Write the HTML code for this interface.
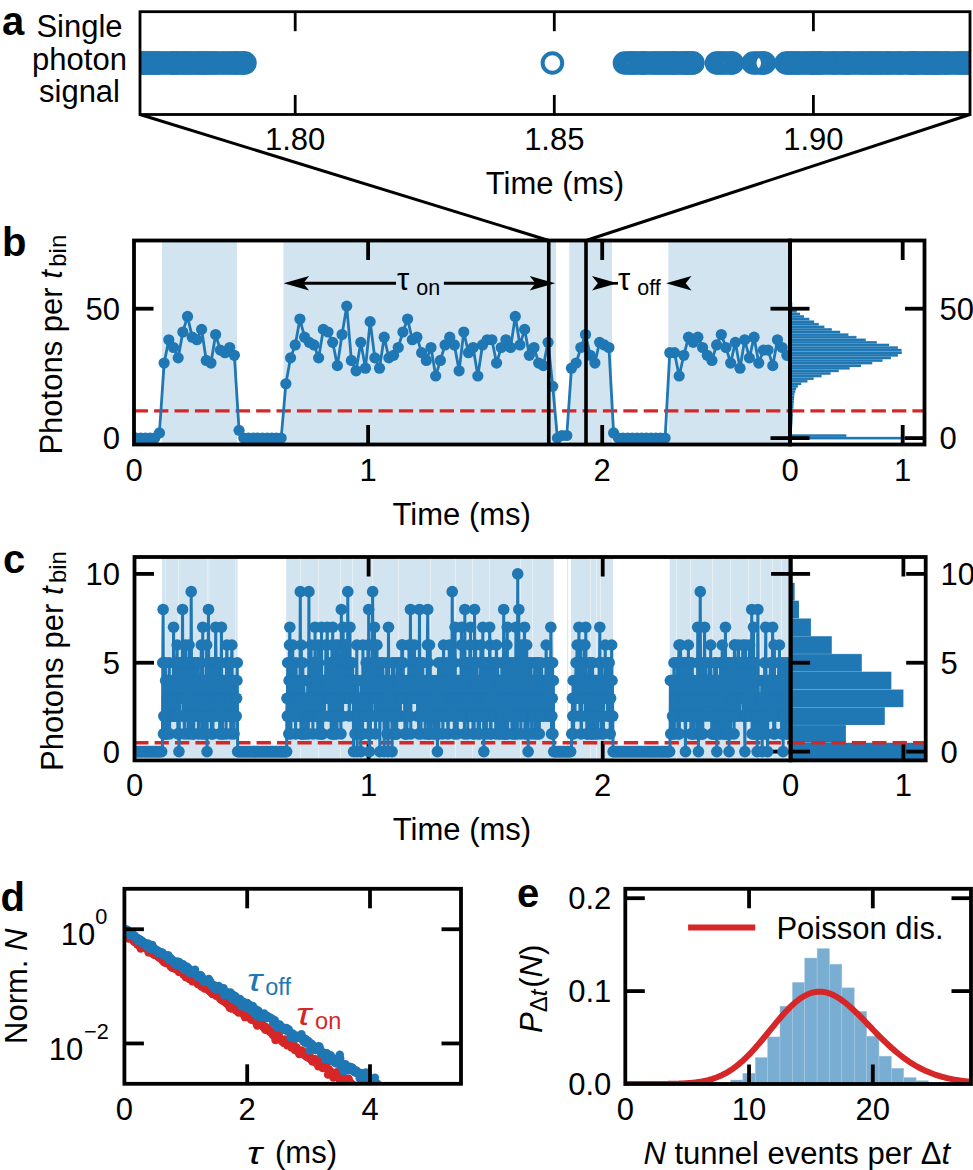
<!DOCTYPE html>
<html><head><meta charset="utf-8"><style>
html,body{margin:0;padding:0;background:#fff;}
svg{display:block;}
text{font-family:"Liberation Sans", sans-serif;}
</style></head><body>
<svg width="973" height="1170" viewBox="0 0 973 1170" font-family='"Liberation Sans", sans-serif'>
<rect width="973" height="1170" fill="#fff"/>
<clipPath id="clipa"><rect x="140" y="11.7" width="830" height="102.8"/></clipPath>
<g clip-path="url(#clipa)" fill="none" stroke="#1f77b4" stroke-width="4">
<circle cx="552.4" cy="63.0" r="9.8"/>
<circle cx="120" cy="63.0" r="9.8"/>
<circle cx="121.6" cy="63.0" r="9.8"/>
<circle cx="124.45" cy="63.0" r="9.8"/>
<circle cx="127.18" cy="63.0" r="9.8"/>
<circle cx="129.53" cy="63.0" r="9.8"/>
<circle cx="131.24" cy="63.0" r="9.8"/>
<circle cx="134.35" cy="63.0" r="9.8"/>
<circle cx="137.48" cy="63.0" r="9.8"/>
<circle cx="139.91" cy="63.0" r="9.8"/>
<circle cx="142.33" cy="63.0" r="9.8"/>
<circle cx="144.09" cy="63.0" r="9.8"/>
<circle cx="145.3" cy="63.0" r="9.8"/>
<circle cx="147.39" cy="63.0" r="9.8"/>
<circle cx="150" cy="63.0" r="9.8"/>
<circle cx="151.36" cy="63.0" r="9.8"/>
<circle cx="154.47" cy="63.0" r="9.8"/>
<circle cx="156.23" cy="63.0" r="9.8"/>
<circle cx="157.98" cy="63.0" r="9.8"/>
<circle cx="159.29" cy="63.0" r="9.8"/>
<circle cx="162.88" cy="63.0" r="9.8"/>
<circle cx="165.85" cy="63.0" r="9.8"/>
<circle cx="169.15" cy="63.0" r="9.8"/>
<circle cx="171.83" cy="63.0" r="9.8"/>
<circle cx="173.11" cy="63.0" r="9.8"/>
<circle cx="175.1" cy="63.0" r="9.8"/>
<circle cx="177.5" cy="63.0" r="9.8"/>
<circle cx="178.97" cy="63.0" r="9.8"/>
<circle cx="182.46" cy="63.0" r="9.8"/>
<circle cx="184.54" cy="63.0" r="9.8"/>
<circle cx="186.11" cy="63.0" r="9.8"/>
<circle cx="189.28" cy="63.0" r="9.8"/>
<circle cx="190.78" cy="63.0" r="9.8"/>
<circle cx="194.2" cy="63.0" r="9.8"/>
<circle cx="196.49" cy="63.0" r="9.8"/>
<circle cx="199.02" cy="63.0" r="9.8"/>
<circle cx="201.04" cy="63.0" r="9.8"/>
<circle cx="203.4" cy="63.0" r="9.8"/>
<circle cx="205.05" cy="63.0" r="9.8"/>
<circle cx="206.34" cy="63.0" r="9.8"/>
<circle cx="209.62" cy="63.0" r="9.8"/>
<circle cx="211.38" cy="63.0" r="9.8"/>
<circle cx="214.45" cy="63.0" r="9.8"/>
<circle cx="216.15" cy="63.0" r="9.8"/>
<circle cx="219.68" cy="63.0" r="9.8"/>
<circle cx="223.02" cy="63.0" r="9.8"/>
<circle cx="226.04" cy="63.0" r="9.8"/>
<circle cx="229.07" cy="63.0" r="9.8"/>
<circle cx="231.66" cy="63.0" r="9.8"/>
<circle cx="234.61" cy="63.0" r="9.8"/>
<circle cx="236.11" cy="63.0" r="9.8"/>
<circle cx="238.45" cy="63.0" r="9.8"/>
<circle cx="241.63" cy="63.0" r="9.8"/>
<circle cx="243.32" cy="63.0" r="9.8"/>
<circle cx="245" cy="63.0" r="9.8"/>
<circle cx="624.5" cy="63.0" r="9.8"/>
<circle cx="627.83" cy="63.0" r="9.8"/>
<circle cx="630.01" cy="63.0" r="9.8"/>
<circle cx="632.09" cy="63.0" r="9.8"/>
<circle cx="634.37" cy="63.0" r="9.8"/>
<circle cx="636.5" cy="63.0" r="9.8"/>
<circle cx="640.09" cy="63.0" r="9.8"/>
<circle cx="642.21" cy="63.0" r="9.8"/>
<circle cx="643.48" cy="63.0" r="9.8"/>
<circle cx="644.9" cy="63.0" r="9.8"/>
<circle cx="647.83" cy="63.0" r="9.8"/>
<circle cx="651.41" cy="63.0" r="9.8"/>
<circle cx="653.8" cy="63.0" r="9.8"/>
<circle cx="656.18" cy="63.0" r="9.8"/>
<circle cx="658.7" cy="63.0" r="9.8"/>
<circle cx="661.7" cy="63.0" r="9.8"/>
<circle cx="663.43" cy="63.0" r="9.8"/>
<circle cx="666.09" cy="63.0" r="9.8"/>
<circle cx="668.63" cy="63.0" r="9.8"/>
<circle cx="671.32" cy="63.0" r="9.8"/>
<circle cx="672.95" cy="63.0" r="9.8"/>
<circle cx="674.56" cy="63.0" r="9.8"/>
<circle cx="676.6" cy="63.0" r="9.8"/>
<circle cx="680.02" cy="63.0" r="9.8"/>
<circle cx="682.05" cy="63.0" r="9.8"/>
<circle cx="684.69" cy="63.0" r="9.8"/>
<circle cx="686.62" cy="63.0" r="9.8"/>
<circle cx="688.07" cy="63.0" r="9.8"/>
<circle cx="689.43" cy="63.0" r="9.8"/>
<circle cx="692.58" cy="63.0" r="9.8"/>
<circle cx="692.9" cy="63.0" r="9.8"/>
<circle cx="716.5" cy="63.0" r="9.8"/>
<circle cx="718.6" cy="63.0" r="9.8"/>
<circle cx="721.44" cy="63.0" r="9.8"/>
<circle cx="724.26" cy="63.0" r="9.8"/>
<circle cx="727.62" cy="63.0" r="9.8"/>
<circle cx="731.12" cy="63.0" r="9.8"/>
<circle cx="732.3" cy="63.0" r="9.8"/>
<circle cx="753.2" cy="63.0" r="9.8"/>
<circle cx="756.77" cy="63.0" r="9.8"/>
<circle cx="760.28" cy="63.0" r="9.8"/>
<circle cx="762.9" cy="63.0" r="9.8"/>
<circle cx="764.3" cy="63.0" r="9.8"/>
<circle cx="786.1" cy="63.0" r="9.8"/>
<circle cx="788.48" cy="63.0" r="9.8"/>
<circle cx="790.58" cy="63.0" r="9.8"/>
<circle cx="792.37" cy="63.0" r="9.8"/>
<circle cx="795.68" cy="63.0" r="9.8"/>
<circle cx="797.27" cy="63.0" r="9.8"/>
<circle cx="798.63" cy="63.0" r="9.8"/>
<circle cx="801.76" cy="63.0" r="9.8"/>
<circle cx="804.82" cy="63.0" r="9.8"/>
<circle cx="807.18" cy="63.0" r="9.8"/>
<circle cx="810.39" cy="63.0" r="9.8"/>
<circle cx="811.72" cy="63.0" r="9.8"/>
<circle cx="813.53" cy="63.0" r="9.8"/>
<circle cx="815.43" cy="63.0" r="9.8"/>
<circle cx="817.64" cy="63.0" r="9.8"/>
<circle cx="819.25" cy="63.0" r="9.8"/>
<circle cx="820.61" cy="63.0" r="9.8"/>
<circle cx="822.62" cy="63.0" r="9.8"/>
<circle cx="825.98" cy="63.0" r="9.8"/>
<circle cx="829.54" cy="63.0" r="9.8"/>
<circle cx="832.53" cy="63.0" r="9.8"/>
<circle cx="834.88" cy="63.0" r="9.8"/>
<circle cx="836.69" cy="63.0" r="9.8"/>
<circle cx="840.19" cy="63.0" r="9.8"/>
<circle cx="842.65" cy="63.0" r="9.8"/>
<circle cx="845.6" cy="63.0" r="9.8"/>
<circle cx="846.87" cy="63.0" r="9.8"/>
<circle cx="848.58" cy="63.0" r="9.8"/>
<circle cx="851.79" cy="63.0" r="9.8"/>
<circle cx="854.9" cy="63.0" r="9.8"/>
<circle cx="858.21" cy="63.0" r="9.8"/>
<circle cx="860.86" cy="63.0" r="9.8"/>
<circle cx="863.08" cy="63.0" r="9.8"/>
<circle cx="865.67" cy="63.0" r="9.8"/>
<circle cx="868.91" cy="63.0" r="9.8"/>
<circle cx="870.85" cy="63.0" r="9.8"/>
<circle cx="873.33" cy="63.0" r="9.8"/>
<circle cx="875.19" cy="63.0" r="9.8"/>
<circle cx="878.24" cy="63.0" r="9.8"/>
<circle cx="879.46" cy="63.0" r="9.8"/>
<circle cx="882.31" cy="63.0" r="9.8"/>
<circle cx="885.8" cy="63.0" r="9.8"/>
<circle cx="887.05" cy="63.0" r="9.8"/>
<circle cx="889.68" cy="63.0" r="9.8"/>
<circle cx="892.42" cy="63.0" r="9.8"/>
<circle cx="895.67" cy="63.0" r="9.8"/>
<circle cx="898.27" cy="63.0" r="9.8"/>
<circle cx="900.09" cy="63.0" r="9.8"/>
<circle cx="902.26" cy="63.0" r="9.8"/>
<circle cx="905.76" cy="63.0" r="9.8"/>
<circle cx="909.14" cy="63.0" r="9.8"/>
<circle cx="910.66" cy="63.0" r="9.8"/>
<circle cx="912.08" cy="63.0" r="9.8"/>
<circle cx="913.51" cy="63.0" r="9.8"/>
<circle cx="914.77" cy="63.0" r="9.8"/>
<circle cx="917.04" cy="63.0" r="9.8"/>
<circle cx="918.58" cy="63.0" r="9.8"/>
<circle cx="921.86" cy="63.0" r="9.8"/>
<circle cx="924.63" cy="63.0" r="9.8"/>
<circle cx="926.14" cy="63.0" r="9.8"/>
<circle cx="928.63" cy="63.0" r="9.8"/>
<circle cx="930.61" cy="63.0" r="9.8"/>
<circle cx="932.99" cy="63.0" r="9.8"/>
<circle cx="934.72" cy="63.0" r="9.8"/>
<circle cx="936.32" cy="63.0" r="9.8"/>
<circle cx="937.96" cy="63.0" r="9.8"/>
<circle cx="940.07" cy="63.0" r="9.8"/>
<circle cx="942.97" cy="63.0" r="9.8"/>
<circle cx="945.49" cy="63.0" r="9.8"/>
<circle cx="946.8" cy="63.0" r="9.8"/>
<circle cx="949.71" cy="63.0" r="9.8"/>
<circle cx="953.01" cy="63.0" r="9.8"/>
<circle cx="956.06" cy="63.0" r="9.8"/>
<circle cx="959.16" cy="63.0" r="9.8"/>
<circle cx="960.38" cy="63.0" r="9.8"/>
<circle cx="962.69" cy="63.0" r="9.8"/>
<circle cx="964.05" cy="63.0" r="9.8"/>
<circle cx="967.08" cy="63.0" r="9.8"/>
<circle cx="968.7" cy="63.0" r="9.8"/>
<circle cx="971.61" cy="63.0" r="9.8"/>
<circle cx="973.42" cy="63.0" r="9.8"/>
<circle cx="976.29" cy="63.0" r="9.8"/>
<circle cx="978.24" cy="63.0" r="9.8"/>
<circle cx="979.54" cy="63.0" r="9.8"/>
<circle cx="981.67" cy="63.0" r="9.8"/>
<circle cx="983.62" cy="63.0" r="9.8"/>
<circle cx="985" cy="63.0" r="9.8"/>
</g>
<rect x="140" y="11.7" width="830" height="102.8" fill="none" stroke="#000" stroke-width="2.8" stroke-linejoin="miter"/>
<line x1="295.2" y1="11.7" x2="295.2" y2="31.2" stroke="#000" stroke-width="2.8" />
<line x1="295.2" y1="114.5" x2="295.2" y2="95" stroke="#000" stroke-width="2.8" />
<text x="295.2" y="150.3" font-size="31" text-anchor="middle" font-weight="normal" font-style="normal" fill="#000" >1.80</text>
<line x1="554.3" y1="11.7" x2="554.3" y2="31.2" stroke="#000" stroke-width="2.8" />
<line x1="554.3" y1="114.5" x2="554.3" y2="95" stroke="#000" stroke-width="2.8" />
<text x="554.3" y="150.3" font-size="31" text-anchor="middle" font-weight="normal" font-style="normal" fill="#000" >1.85</text>
<line x1="813.4" y1="11.7" x2="813.4" y2="31.2" stroke="#000" stroke-width="2.8" />
<line x1="813.4" y1="114.5" x2="813.4" y2="95" stroke="#000" stroke-width="2.8" />
<text x="813.4" y="150.3" font-size="31" text-anchor="middle" font-weight="normal" font-style="normal" fill="#000" >1.90</text>
<text x="555" y="194" font-size="31" text-anchor="middle" font-weight="normal" font-style="normal" fill="#000" >Time (ms)</text>
<line x1="140" y1="114.5" x2="548.75" y2="240.5" stroke="#000" stroke-width="3" />
<line x1="970" y1="114.5" x2="586" y2="240.5" stroke="#000" stroke-width="3" />
<text x="2" y="35" font-size="40" text-anchor="start" font-weight="bold" font-style="normal" fill="#000" >a</text>
<text x="79.5" y="36.5" font-size="31" text-anchor="middle" font-weight="normal" font-style="normal" fill="#000" >Single</text>
<text x="79.5" y="69.5" font-size="31" text-anchor="middle" font-weight="normal" font-style="normal" fill="#000" >photon</text>
<text x="79.5" y="102" font-size="31" text-anchor="middle" font-weight="normal" font-style="normal" fill="#000" >signal</text>
<clipPath id="clipb"><rect x="134" y="240.5" width="656" height="204.0"/></clipPath>
<rect x="162" y="240.5" width="75" height="204" fill="#d2e4f0" stroke="none" stroke-width="0" />
<rect x="283.4" y="240.5" width="272.6" height="204" fill="#d2e4f0" stroke="none" stroke-width="0" />
<rect x="569.3" y="240.5" width="42.7" height="204" fill="#d2e4f0" stroke="none" stroke-width="0" />
<rect x="668.3" y="240.5" width="121.7" height="204" fill="#d2e4f0" stroke="none" stroke-width="0" />
<g>
<rect x="790" y="431.63" width="1.69" height="2.64" fill="#1f77b4" stroke="none" stroke-width="0" />
<line x1="790" y1="431.63" x2="791.69" y2="431.63" stroke="#fff" stroke-width="0.35" opacity="0.55"/>
<rect x="790" y="429.04" width="1.89" height="2.64" fill="#1f77b4" stroke="none" stroke-width="0" />
<line x1="790" y1="429.04" x2="791.89" y2="429.04" stroke="#fff" stroke-width="0.35" opacity="0.55"/>
<rect x="790" y="426.45" width="2.08" height="2.64" fill="#1f77b4" stroke="none" stroke-width="0" />
<line x1="790" y1="426.45" x2="792.08" y2="426.45" stroke="#fff" stroke-width="0.35" opacity="0.55"/>
<rect x="790" y="423.87" width="2.28" height="2.64" fill="#1f77b4" stroke="none" stroke-width="0" />
<line x1="790" y1="423.87" x2="792.28" y2="423.87" stroke="#fff" stroke-width="0.35" opacity="0.55"/>
<rect x="790" y="421.28" width="2.48" height="2.64" fill="#1f77b4" stroke="none" stroke-width="0" />
<line x1="790" y1="421.28" x2="792.48" y2="421.28" stroke="#fff" stroke-width="0.35" opacity="0.55"/>
<rect x="790" y="418.69" width="2.63" height="2.64" fill="#1f77b4" stroke="none" stroke-width="0" />
<line x1="790" y1="418.69" x2="792.63" y2="418.69" stroke="#fff" stroke-width="0.35" opacity="0.55"/>
<rect x="790" y="416.1" width="2.78" height="2.64" fill="#1f77b4" stroke="none" stroke-width="0" />
<line x1="790" y1="416.1" x2="792.78" y2="416.1" stroke="#fff" stroke-width="0.35" opacity="0.55"/>
<rect x="790" y="413.51" width="2.93" height="2.64" fill="#1f77b4" stroke="none" stroke-width="0" />
<line x1="790" y1="413.51" x2="792.93" y2="413.51" stroke="#fff" stroke-width="0.35" opacity="0.55"/>
<rect x="790" y="410.93" width="3.08" height="2.64" fill="#1f77b4" stroke="none" stroke-width="0" />
<line x1="790" y1="410.93" x2="793.08" y2="410.93" stroke="#fff" stroke-width="0.35" opacity="0.55"/>
<rect x="790" y="408.34" width="3.23" height="2.64" fill="#1f77b4" stroke="none" stroke-width="0" />
<line x1="790" y1="408.34" x2="793.23" y2="408.34" stroke="#fff" stroke-width="0.35" opacity="0.55"/>
<rect x="790" y="405.75" width="3.38" height="2.64" fill="#1f77b4" stroke="none" stroke-width="0" />
<line x1="790" y1="405.75" x2="793.38" y2="405.75" stroke="#fff" stroke-width="0.35" opacity="0.55"/>
<rect x="790" y="403.16" width="3.58" height="2.64" fill="#1f77b4" stroke="none" stroke-width="0" />
<line x1="790" y1="403.16" x2="793.58" y2="403.16" stroke="#fff" stroke-width="0.35" opacity="0.55"/>
<rect x="790" y="400.57" width="3.79" height="2.64" fill="#1f77b4" stroke="none" stroke-width="0" />
<line x1="790" y1="400.57" x2="793.79" y2="400.57" stroke="#fff" stroke-width="0.35" opacity="0.55"/>
<rect x="790" y="397.99" width="3.99" height="2.64" fill="#1f77b4" stroke="none" stroke-width="0" />
<line x1="790" y1="397.99" x2="793.99" y2="397.99" stroke="#fff" stroke-width="0.35" opacity="0.55"/>
<rect x="790" y="395.4" width="4.19" height="2.64" fill="#1f77b4" stroke="none" stroke-width="0" />
<line x1="790" y1="395.4" x2="794.19" y2="395.4" stroke="#fff" stroke-width="0.35" opacity="0.55"/>
<rect x="790" y="392.81" width="4.4" height="2.64" fill="#1f77b4" stroke="none" stroke-width="0" />
<line x1="790" y1="392.81" x2="794.4" y2="392.81" stroke="#fff" stroke-width="0.35" opacity="0.55"/>
<rect x="790" y="390.22" width="5.24" height="2.64" fill="#1f77b4" stroke="none" stroke-width="0" />
<line x1="790" y1="390.22" x2="795.24" y2="390.22" stroke="#fff" stroke-width="0.35" opacity="0.55"/>
<rect x="790" y="387.63" width="6.09" height="2.64" fill="#1f77b4" stroke="none" stroke-width="0" />
<line x1="790" y1="387.63" x2="796.09" y2="387.63" stroke="#fff" stroke-width="0.35" opacity="0.55"/>
<rect x="790" y="385.05" width="7.89" height="2.64" fill="#1f77b4" stroke="none" stroke-width="0" />
<line x1="790" y1="385.05" x2="797.89" y2="385.05" stroke="#fff" stroke-width="0.35" opacity="0.55"/>
<rect x="790" y="382.46" width="11.27" height="2.64" fill="#1f77b4" stroke="none" stroke-width="0" />
<line x1="790" y1="382.46" x2="801.27" y2="382.46" stroke="#fff" stroke-width="0.35" opacity="0.55"/>
<rect x="790" y="379.87" width="17.47" height="2.64" fill="#1f77b4" stroke="none" stroke-width="0" />
<line x1="790" y1="379.87" x2="807.47" y2="379.87" stroke="#fff" stroke-width="0.35" opacity="0.55"/>
<rect x="790" y="377.28" width="23.67" height="2.64" fill="#1f77b4" stroke="none" stroke-width="0" />
<line x1="790" y1="377.28" x2="813.67" y2="377.28" stroke="#fff" stroke-width="0.35" opacity="0.55"/>
<rect x="790" y="374.69" width="31.56" height="2.64" fill="#1f77b4" stroke="none" stroke-width="0" />
<line x1="790" y1="374.69" x2="821.56" y2="374.69" stroke="#fff" stroke-width="0.35" opacity="0.55"/>
<rect x="790" y="372.11" width="40.57" height="2.64" fill="#1f77b4" stroke="none" stroke-width="0" />
<line x1="790" y1="372.11" x2="830.57" y2="372.11" stroke="#fff" stroke-width="0.35" opacity="0.55"/>
<rect x="790" y="369.52" width="48.77" height="2.64" fill="#1f77b4" stroke="none" stroke-width="0" />
<line x1="790" y1="369.52" x2="838.77" y2="369.52" stroke="#fff" stroke-width="0.35" opacity="0.55"/>
<rect x="790" y="366.93" width="59.73" height="2.64" fill="#1f77b4" stroke="none" stroke-width="0" />
<line x1="790" y1="366.93" x2="849.73" y2="366.93" stroke="#fff" stroke-width="0.35" opacity="0.55"/>
<rect x="790" y="364.34" width="71" height="2.64" fill="#1f77b4" stroke="none" stroke-width="0" />
<line x1="790" y1="364.34" x2="861" y2="364.34" stroke="#fff" stroke-width="0.35" opacity="0.55"/>
<rect x="790" y="361.75" width="82.27" height="2.64" fill="#1f77b4" stroke="none" stroke-width="0" />
<line x1="790" y1="361.75" x2="872.27" y2="361.75" stroke="#fff" stroke-width="0.35" opacity="0.55"/>
<rect x="790" y="359.17" width="92.53" height="2.64" fill="#1f77b4" stroke="none" stroke-width="0" />
<line x1="790" y1="359.17" x2="882.53" y2="359.17" stroke="#fff" stroke-width="0.35" opacity="0.55"/>
<rect x="790" y="356.58" width="100.92" height="2.64" fill="#1f77b4" stroke="none" stroke-width="0" />
<line x1="790" y1="356.58" x2="890.92" y2="356.58" stroke="#fff" stroke-width="0.35" opacity="0.55"/>
<rect x="790" y="353.99" width="107.97" height="2.64" fill="#1f77b4" stroke="none" stroke-width="0" />
<line x1="790" y1="353.99" x2="897.97" y2="353.99" stroke="#fff" stroke-width="0.35" opacity="0.55"/>
<rect x="790" y="351.4" width="111.78" height="2.64" fill="#1f77b4" stroke="none" stroke-width="0" />
<line x1="790" y1="351.4" x2="901.78" y2="351.4" stroke="#fff" stroke-width="0.35" opacity="0.55"/>
<rect x="790" y="348.81" width="111.57" height="2.64" fill="#1f77b4" stroke="none" stroke-width="0" />
<line x1="790" y1="348.81" x2="901.57" y2="348.81" stroke="#fff" stroke-width="0.35" opacity="0.55"/>
<rect x="790" y="346.23" width="107.91" height="2.64" fill="#1f77b4" stroke="none" stroke-width="0" />
<line x1="790" y1="346.23" x2="897.91" y2="346.23" stroke="#fff" stroke-width="0.35" opacity="0.55"/>
<rect x="790" y="343.64" width="99.06" height="2.64" fill="#1f77b4" stroke="none" stroke-width="0" />
<line x1="790" y1="343.64" x2="889.06" y2="343.64" stroke="#fff" stroke-width="0.35" opacity="0.55"/>
<rect x="790" y="341.05" width="86.78" height="2.64" fill="#1f77b4" stroke="none" stroke-width="0" />
<line x1="790" y1="341.05" x2="876.78" y2="341.05" stroke="#fff" stroke-width="0.35" opacity="0.55"/>
<rect x="790" y="338.46" width="75.71" height="2.64" fill="#1f77b4" stroke="none" stroke-width="0" />
<line x1="790" y1="338.46" x2="865.71" y2="338.46" stroke="#fff" stroke-width="0.35" opacity="0.55"/>
<rect x="790" y="335.87" width="66.49" height="2.64" fill="#1f77b4" stroke="none" stroke-width="0" />
<line x1="790" y1="335.87" x2="856.49" y2="335.87" stroke="#fff" stroke-width="0.35" opacity="0.55"/>
<rect x="790" y="333.29" width="58.44" height="2.64" fill="#1f77b4" stroke="none" stroke-width="0" />
<line x1="790" y1="333.29" x2="848.44" y2="333.29" stroke="#fff" stroke-width="0.35" opacity="0.55"/>
<rect x="790" y="330.7" width="50.15" height="2.64" fill="#1f77b4" stroke="none" stroke-width="0" />
<line x1="790" y1="330.7" x2="840.15" y2="330.7" stroke="#fff" stroke-width="0.35" opacity="0.55"/>
<rect x="790" y="328.11" width="41.8" height="2.64" fill="#1f77b4" stroke="none" stroke-width="0" />
<line x1="790" y1="328.11" x2="831.8" y2="328.11" stroke="#fff" stroke-width="0.35" opacity="0.55"/>
<rect x="790" y="325.52" width="34.37" height="2.64" fill="#1f77b4" stroke="none" stroke-width="0" />
<line x1="790" y1="325.52" x2="824.37" y2="325.52" stroke="#fff" stroke-width="0.35" opacity="0.55"/>
<rect x="790" y="322.93" width="28.74" height="2.64" fill="#1f77b4" stroke="none" stroke-width="0" />
<line x1="790" y1="322.93" x2="818.74" y2="322.93" stroke="#fff" stroke-width="0.35" opacity="0.55"/>
<rect x="790" y="320.35" width="24.12" height="2.64" fill="#1f77b4" stroke="none" stroke-width="0" />
<line x1="790" y1="320.35" x2="814.12" y2="320.35" stroke="#fff" stroke-width="0.35" opacity="0.55"/>
<rect x="790" y="317.76" width="19.29" height="2.64" fill="#1f77b4" stroke="none" stroke-width="0" />
<line x1="790" y1="317.76" x2="809.29" y2="317.76" stroke="#fff" stroke-width="0.35" opacity="0.55"/>
<rect x="790" y="315.17" width="13.99" height="2.64" fill="#1f77b4" stroke="none" stroke-width="0" />
<line x1="790" y1="315.17" x2="803.99" y2="315.17" stroke="#fff" stroke-width="0.35" opacity="0.55"/>
<rect x="790" y="312.58" width="10.08" height="2.64" fill="#1f77b4" stroke="none" stroke-width="0" />
<line x1="790" y1="312.58" x2="800.08" y2="312.58" stroke="#fff" stroke-width="0.35" opacity="0.55"/>
<rect x="790" y="309.99" width="6.76" height="2.64" fill="#1f77b4" stroke="none" stroke-width="0" />
<line x1="790" y1="309.99" x2="796.76" y2="309.99" stroke="#fff" stroke-width="0.35" opacity="0.55"/>
<rect x="790" y="307.41" width="4.77" height="2.64" fill="#1f77b4" stroke="none" stroke-width="0" />
<line x1="790" y1="307.41" x2="794.77" y2="307.41" stroke="#fff" stroke-width="0.35" opacity="0.55"/>
<rect x="790" y="304.82" width="2.25" height="2.64" fill="#1f77b4" stroke="none" stroke-width="0" />
<line x1="790" y1="304.82" x2="792.25" y2="304.82" stroke="#fff" stroke-width="0.35" opacity="0.55"/>
<rect x="790" y="302.23" width="2.25" height="2.64" fill="#1f77b4" stroke="none" stroke-width="0" />
<line x1="790" y1="302.23" x2="792.25" y2="302.23" stroke="#fff" stroke-width="0.35" opacity="0.55"/>
<rect x="790" y="436.81" width="114.95" height="2.64" fill="#1f77b4" stroke="none" stroke-width="0" />
<line x1="790" y1="436.81" x2="904.95" y2="436.81" stroke="#fff" stroke-width="0.35" opacity="0.55"/>
<rect x="790" y="434.22" width="56.35" height="2.64" fill="#1f77b4" stroke="none" stroke-width="0" />
<line x1="790" y1="434.22" x2="846.35" y2="434.22" stroke="#fff" stroke-width="0.35" opacity="0.55"/>
</g>
<line x1="134" y1="438.1" x2="153.5" y2="438.1" stroke="#000" stroke-width="3.8" />
<line x1="790" y1="438.1" x2="770.5" y2="438.1" stroke="#000" stroke-width="3.8" />
<line x1="790" y1="438.1" x2="809.5" y2="438.1" stroke="#000" stroke-width="3.8" />
<line x1="924.5" y1="438.1" x2="905" y2="438.1" stroke="#000" stroke-width="3.8" />
<line x1="134" y1="308.7" x2="153.5" y2="308.7" stroke="#000" stroke-width="3.8" />
<line x1="790" y1="308.7" x2="770.5" y2="308.7" stroke="#000" stroke-width="3.8" />
<line x1="790" y1="308.7" x2="809.5" y2="308.7" stroke="#000" stroke-width="3.8" />
<line x1="924.5" y1="308.7" x2="905" y2="308.7" stroke="#000" stroke-width="3.8" />
<line x1="368.1" y1="240.5" x2="368.1" y2="260" stroke="#000" stroke-width="3.8" />
<line x1="368.1" y1="444.5" x2="368.1" y2="425" stroke="#000" stroke-width="3.8" />
<line x1="602.2" y1="240.5" x2="602.2" y2="260" stroke="#000" stroke-width="3.8" />
<line x1="602.2" y1="444.5" x2="602.2" y2="425" stroke="#000" stroke-width="3.8" />
<line x1="902.7" y1="240.5" x2="902.7" y2="260" stroke="#000" stroke-width="3.8" />
<line x1="902.7" y1="444.5" x2="902.7" y2="425" stroke="#000" stroke-width="3.8" />
<line x1="133.7" y1="410.9" x2="790" y2="410.9" stroke="#d62728" stroke-width="3.4" stroke-dasharray="14.3 6.1"/>
<line x1="790" y1="410.9" x2="924.5" y2="410.9" stroke="#d62728" stroke-width="3.4" stroke-dasharray="14.3 6.1"/>
<g clip-path="url(#clipb)"><polyline points="136.04,438.1 140.72,438.1 145.41,438.1 150.09,438.1 154.77,438.1 159.45,432.92 164.13,363.05 168.81,339.76 173.5,347.52 178.18,357.87 182.86,331.99 187.54,316.46 192.22,337.17 196.91,339.76 201.59,329.4 206.27,360.46 210.95,363.05 215.63,334.58 220.32,350.11 225,352.7 229.68,347.52 234.36,355.28 239.05,430.34 243.73,438.1 248.41,438.1 253.09,438.1 257.77,438.1 262.46,438.1 267.14,438.1 271.82,438.1 276.5,438.1 281.18,438.1 285.87,383.75 290.55,357.87 295.23,344.93 299.91,319.05 304.59,337.17 309.27,342.34 313.96,344.93 318.64,357.87 323.32,329.4 328,331.99 332.69,342.34 337.37,365.64 342.05,334.58 346.73,306.11 351.41,360.46 356.1,370.81 360.78,342.34 365.46,368.22 370.14,321.64 374.82,357.87 379.5,368.22 384.19,337.17 388.87,357.87 393.55,355.28 398.23,347.52 402.92,331.99 407.6,319.05 412.28,339.76 416.96,337.17 421.64,352.7 426.32,360.46 431.01,347.52 435.69,375.99 440.37,360.46 445.05,344.93 449.74,337.17 454.42,344.93 459.1,370.81 463.78,331.99 468.46,352.7 473.15,347.52 477.83,375.99 482.51,344.93 487.19,339.76 491.87,339.76 496.56,363.05 501.24,347.52 505.92,339.76 510.6,347.52 515.28,316.46 519.97,344.93 524.65,329.4 529.33,355.28 534.01,347.52 538.69,363.05 543.38,365.64 548.06,342.34 552.74,386.34 557.42,438.1 562.1,435.51 566.79,435.51 571.47,368.22 576.15,363.05 580.83,347.52 585.51,334.58 590.2,355.28 594.88,363.05 599.56,342.34 604.24,344.93 608.92,347.52 613.61,432.92 618.29,438.1 622.97,438.1 627.65,438.1 632.33,438.1 637.02,438.1 641.7,438.1 646.38,438.1 651.06,438.1 655.74,438.1 660.42,438.1 665.11,438.1 669.79,352.7 674.47,352.7 679.15,375.99 683.84,355.28 688.52,337.17 693.2,342.34 697.88,337.17 702.56,347.52 707.25,355.28 711.93,360.46 716.61,344.93 721.29,334.58 725.97,347.52 730.65,363.05 735.34,342.34 740.02,368.22 744.7,339.76 749.38,357.87 754.07,337.17 758.75,363.05 763.43,350.11 768.11,350.11 772.79,365.64 777.48,339.76 782.16,347.52 786.84,355.28" fill="none" stroke="#1f77b4" stroke-width="2.8" stroke-linejoin="round"/>
<g fill="#1f77b4"><circle cx="136.04" cy="438.1" r="5.6"/><circle cx="140.72" cy="438.1" r="5.6"/><circle cx="145.41" cy="438.1" r="5.6"/><circle cx="150.09" cy="438.1" r="5.6"/><circle cx="154.77" cy="438.1" r="5.6"/><circle cx="159.45" cy="432.92" r="5.6"/><circle cx="164.13" cy="363.05" r="5.6"/><circle cx="168.81" cy="339.76" r="5.6"/><circle cx="173.5" cy="347.52" r="5.6"/><circle cx="178.18" cy="357.87" r="5.6"/><circle cx="182.86" cy="331.99" r="5.6"/><circle cx="187.54" cy="316.46" r="5.6"/><circle cx="192.22" cy="337.17" r="5.6"/><circle cx="196.91" cy="339.76" r="5.6"/><circle cx="201.59" cy="329.4" r="5.6"/><circle cx="206.27" cy="360.46" r="5.6"/><circle cx="210.95" cy="363.05" r="5.6"/><circle cx="215.63" cy="334.58" r="5.6"/><circle cx="220.32" cy="350.11" r="5.6"/><circle cx="225" cy="352.7" r="5.6"/><circle cx="229.68" cy="347.52" r="5.6"/><circle cx="234.36" cy="355.28" r="5.6"/><circle cx="239.05" cy="430.34" r="5.6"/><circle cx="243.73" cy="438.1" r="5.6"/><circle cx="248.41" cy="438.1" r="5.6"/><circle cx="253.09" cy="438.1" r="5.6"/><circle cx="257.77" cy="438.1" r="5.6"/><circle cx="262.46" cy="438.1" r="5.6"/><circle cx="267.14" cy="438.1" r="5.6"/><circle cx="271.82" cy="438.1" r="5.6"/><circle cx="276.5" cy="438.1" r="5.6"/><circle cx="281.18" cy="438.1" r="5.6"/><circle cx="285.87" cy="383.75" r="5.6"/><circle cx="290.55" cy="357.87" r="5.6"/><circle cx="295.23" cy="344.93" r="5.6"/><circle cx="299.91" cy="319.05" r="5.6"/><circle cx="304.59" cy="337.17" r="5.6"/><circle cx="309.27" cy="342.34" r="5.6"/><circle cx="313.96" cy="344.93" r="5.6"/><circle cx="318.64" cy="357.87" r="5.6"/><circle cx="323.32" cy="329.4" r="5.6"/><circle cx="328" cy="331.99" r="5.6"/><circle cx="332.69" cy="342.34" r="5.6"/><circle cx="337.37" cy="365.64" r="5.6"/><circle cx="342.05" cy="334.58" r="5.6"/><circle cx="346.73" cy="306.11" r="5.6"/><circle cx="351.41" cy="360.46" r="5.6"/><circle cx="356.1" cy="370.81" r="5.6"/><circle cx="360.78" cy="342.34" r="5.6"/><circle cx="365.46" cy="368.22" r="5.6"/><circle cx="370.14" cy="321.64" r="5.6"/><circle cx="374.82" cy="357.87" r="5.6"/><circle cx="379.5" cy="368.22" r="5.6"/><circle cx="384.19" cy="337.17" r="5.6"/><circle cx="388.87" cy="357.87" r="5.6"/><circle cx="393.55" cy="355.28" r="5.6"/><circle cx="398.23" cy="347.52" r="5.6"/><circle cx="402.92" cy="331.99" r="5.6"/><circle cx="407.6" cy="319.05" r="5.6"/><circle cx="412.28" cy="339.76" r="5.6"/><circle cx="416.96" cy="337.17" r="5.6"/><circle cx="421.64" cy="352.7" r="5.6"/><circle cx="426.32" cy="360.46" r="5.6"/><circle cx="431.01" cy="347.52" r="5.6"/><circle cx="435.69" cy="375.99" r="5.6"/><circle cx="440.37" cy="360.46" r="5.6"/><circle cx="445.05" cy="344.93" r="5.6"/><circle cx="449.74" cy="337.17" r="5.6"/><circle cx="454.42" cy="344.93" r="5.6"/><circle cx="459.1" cy="370.81" r="5.6"/><circle cx="463.78" cy="331.99" r="5.6"/><circle cx="468.46" cy="352.7" r="5.6"/><circle cx="473.15" cy="347.52" r="5.6"/><circle cx="477.83" cy="375.99" r="5.6"/><circle cx="482.51" cy="344.93" r="5.6"/><circle cx="487.19" cy="339.76" r="5.6"/><circle cx="491.87" cy="339.76" r="5.6"/><circle cx="496.56" cy="363.05" r="5.6"/><circle cx="501.24" cy="347.52" r="5.6"/><circle cx="505.92" cy="339.76" r="5.6"/><circle cx="510.6" cy="347.52" r="5.6"/><circle cx="515.28" cy="316.46" r="5.6"/><circle cx="519.97" cy="344.93" r="5.6"/><circle cx="524.65" cy="329.4" r="5.6"/><circle cx="529.33" cy="355.28" r="5.6"/><circle cx="534.01" cy="347.52" r="5.6"/><circle cx="538.69" cy="363.05" r="5.6"/><circle cx="543.38" cy="365.64" r="5.6"/><circle cx="548.06" cy="342.34" r="5.6"/><circle cx="552.74" cy="386.34" r="5.6"/><circle cx="557.42" cy="438.1" r="5.6"/><circle cx="562.1" cy="435.51" r="5.6"/><circle cx="566.79" cy="435.51" r="5.6"/><circle cx="571.47" cy="368.22" r="5.6"/><circle cx="576.15" cy="363.05" r="5.6"/><circle cx="580.83" cy="347.52" r="5.6"/><circle cx="585.51" cy="334.58" r="5.6"/><circle cx="590.2" cy="355.28" r="5.6"/><circle cx="594.88" cy="363.05" r="5.6"/><circle cx="599.56" cy="342.34" r="5.6"/><circle cx="604.24" cy="344.93" r="5.6"/><circle cx="608.92" cy="347.52" r="5.6"/><circle cx="613.61" cy="432.92" r="5.6"/><circle cx="618.29" cy="438.1" r="5.6"/><circle cx="622.97" cy="438.1" r="5.6"/><circle cx="627.65" cy="438.1" r="5.6"/><circle cx="632.33" cy="438.1" r="5.6"/><circle cx="637.02" cy="438.1" r="5.6"/><circle cx="641.7" cy="438.1" r="5.6"/><circle cx="646.38" cy="438.1" r="5.6"/><circle cx="651.06" cy="438.1" r="5.6"/><circle cx="655.74" cy="438.1" r="5.6"/><circle cx="660.42" cy="438.1" r="5.6"/><circle cx="665.11" cy="438.1" r="5.6"/><circle cx="669.79" cy="352.7" r="5.6"/><circle cx="674.47" cy="352.7" r="5.6"/><circle cx="679.15" cy="375.99" r="5.6"/><circle cx="683.84" cy="355.28" r="5.6"/><circle cx="688.52" cy="337.17" r="5.6"/><circle cx="693.2" cy="342.34" r="5.6"/><circle cx="697.88" cy="337.17" r="5.6"/><circle cx="702.56" cy="347.52" r="5.6"/><circle cx="707.25" cy="355.28" r="5.6"/><circle cx="711.93" cy="360.46" r="5.6"/><circle cx="716.61" cy="344.93" r="5.6"/><circle cx="721.29" cy="334.58" r="5.6"/><circle cx="725.97" cy="347.52" r="5.6"/><circle cx="730.65" cy="363.05" r="5.6"/><circle cx="735.34" cy="342.34" r="5.6"/><circle cx="740.02" cy="368.22" r="5.6"/><circle cx="744.7" cy="339.76" r="5.6"/><circle cx="749.38" cy="357.87" r="5.6"/><circle cx="754.07" cy="337.17" r="5.6"/><circle cx="758.75" cy="363.05" r="5.6"/><circle cx="763.43" cy="350.11" r="5.6"/><circle cx="768.11" cy="350.11" r="5.6"/><circle cx="772.79" cy="365.64" r="5.6"/><circle cx="777.48" cy="339.76" r="5.6"/><circle cx="782.16" cy="347.52" r="5.6"/><circle cx="786.84" cy="355.28" r="5.6"/></g></g>
<line x1="548.75" y1="240.5" x2="548.75" y2="444.5" stroke="#000" stroke-width="3.6" />
<line x1="586" y1="240.5" x2="586" y2="444.5" stroke="#000" stroke-width="3.6" />
<rect x="134" y="240.5" width="656" height="204" fill="none" stroke="#000" stroke-width="3.8" stroke-linejoin="miter"/>
<rect x="790" y="240.5" width="134.5" height="204" fill="none" stroke="#000" stroke-width="3.8" stroke-linejoin="miter"/>
<text x="120" y="449.3" font-size="31" text-anchor="end" font-weight="normal" font-style="normal" fill="#000" >0</text>
<text x="939.5" y="449.3" font-size="31" text-anchor="start" font-weight="normal" font-style="normal" fill="#000" >0</text>
<text x="120" y="319.9" font-size="31" text-anchor="end" font-weight="normal" font-style="normal" fill="#000" >50</text>
<text x="939.5" y="319.9" font-size="31" text-anchor="start" font-weight="normal" font-style="normal" fill="#000" >50</text>
<text x="134" y="480.5" font-size="31" text-anchor="middle" font-weight="normal" font-style="normal" fill="#000" >0</text>
<text x="368.1" y="480.5" font-size="31" text-anchor="middle" font-weight="normal" font-style="normal" fill="#000" >1</text>
<text x="602.2" y="480.5" font-size="31" text-anchor="middle" font-weight="normal" font-style="normal" fill="#000" >2</text>
<text x="790" y="480.5" font-size="31" text-anchor="middle" font-weight="normal" font-style="normal" fill="#000" >0</text>
<text x="902.7" y="480.5" font-size="31" text-anchor="middle" font-weight="normal" font-style="normal" fill="#000" >1</text>
<text x="461.75" y="524.5" font-size="31" text-anchor="middle" font-weight="normal" font-style="normal" fill="#000" >Time (ms)</text>
<text x="2" y="256" font-size="40" text-anchor="start" font-weight="bold" font-style="normal" fill="#000" >b</text>
<clipPath id="clipc"><rect x="134.5" y="557" width="656.1" height="203.39999999999998"/></clipPath>
<rect x="162.1" y="557" width="75.5" height="203.4" fill="#d2e4f0" stroke="none" stroke-width="0" />
<rect x="286.2" y="557" width="267.6" height="203.4" fill="#d2e4f0" stroke="none" stroke-width="0" />
<rect x="571" y="557" width="42" height="203.4" fill="#d2e4f0" stroke="none" stroke-width="0" />
<rect x="669.7" y="557" width="120.9" height="203.4" fill="#d2e4f0" stroke="none" stroke-width="0" />
<rect x="567.2" y="557" width="1" height="203.4" fill="#d2e4f0" stroke="none" stroke-width="0" />
<rect x="164.9" y="557" width="0.7" height="203.4" fill="#fff" stroke="none" stroke-width="0" opacity="0.6"/>
<rect x="178" y="557" width="0.7" height="203.4" fill="#fff" stroke="none" stroke-width="0" opacity="0.6"/>
<rect x="206.9" y="557" width="0.7" height="203.4" fill="#fff" stroke="none" stroke-width="0" opacity="0.6"/>
<rect x="208.7" y="557" width="0.7" height="203.4" fill="#fff" stroke="none" stroke-width="0" opacity="0.6"/>
<rect x="235" y="557" width="0.7" height="203.4" fill="#fff" stroke="none" stroke-width="0" opacity="0.6"/>
<rect x="300" y="557" width="0.7" height="203.4" fill="#fff" stroke="none" stroke-width="0" opacity="0.6"/>
<rect x="318" y="557" width="0.7" height="203.4" fill="#fff" stroke="none" stroke-width="0" opacity="0.6"/>
<rect x="340" y="557" width="0.7" height="203.4" fill="#fff" stroke="none" stroke-width="0" opacity="0.6"/>
<rect x="352" y="557" width="0.7" height="203.4" fill="#fff" stroke="none" stroke-width="0" opacity="0.6"/>
<rect x="372" y="557" width="0.7" height="203.4" fill="#fff" stroke="none" stroke-width="0" opacity="0.6"/>
<rect x="398" y="557" width="0.7" height="203.4" fill="#fff" stroke="none" stroke-width="0" opacity="0.6"/>
<rect x="430" y="557" width="0.7" height="203.4" fill="#fff" stroke="none" stroke-width="0" opacity="0.6"/>
<rect x="455" y="557" width="0.7" height="203.4" fill="#fff" stroke="none" stroke-width="0" opacity="0.6"/>
<rect x="472" y="557" width="0.7" height="203.4" fill="#fff" stroke="none" stroke-width="0" opacity="0.6"/>
<rect x="489" y="557" width="0.7" height="203.4" fill="#fff" stroke="none" stroke-width="0" opacity="0.6"/>
<rect x="520" y="557" width="0.7" height="203.4" fill="#fff" stroke="none" stroke-width="0" opacity="0.6"/>
<rect x="532" y="557" width="0.7" height="203.4" fill="#fff" stroke="none" stroke-width="0" opacity="0.6"/>
<rect x="590" y="557" width="0.7" height="203.4" fill="#fff" stroke="none" stroke-width="0" opacity="0.6"/>
<rect x="596" y="557" width="0.7" height="203.4" fill="#fff" stroke="none" stroke-width="0" opacity="0.6"/>
<rect x="600" y="557" width="0.7" height="203.4" fill="#fff" stroke="none" stroke-width="0" opacity="0.6"/>
<rect x="676" y="557" width="0.7" height="203.4" fill="#fff" stroke="none" stroke-width="0" opacity="0.6"/>
<rect x="690" y="557" width="0.7" height="203.4" fill="#fff" stroke="none" stroke-width="0" opacity="0.6"/>
<rect x="712" y="557" width="0.7" height="203.4" fill="#fff" stroke="none" stroke-width="0" opacity="0.6"/>
<rect x="730" y="557" width="0.7" height="203.4" fill="#fff" stroke="none" stroke-width="0" opacity="0.6"/>
<rect x="748" y="557" width="0.7" height="203.4" fill="#fff" stroke="none" stroke-width="0" opacity="0.6"/>
<rect x="760" y="557" width="0.7" height="203.4" fill="#fff" stroke="none" stroke-width="0" opacity="0.6"/>
<rect x="772" y="557" width="0.7" height="203.4" fill="#fff" stroke="none" stroke-width="0" opacity="0.6"/>
<rect x="781" y="557" width="0.7" height="203.4" fill="#fff" stroke="none" stroke-width="0" opacity="0.6"/>
<clipPath id="cliphc"><rect x="790.6" y="557" width="135.10000000000002" height="203.39999999999998"/></clipPath>
<g clip-path="url(#cliphc)">
<rect x="790.6" y="742.72" width="141" height="17.77" fill="#1f77b4" stroke="none" stroke-width="0" />
<line x1="790.6" y1="742.72" x2="931.6" y2="742.72" stroke="#fff" stroke-width="0.4" opacity="0.7"/>
<rect x="790.6" y="724.95" width="55.27" height="17.77" fill="#1f77b4" stroke="none" stroke-width="0" />
<line x1="790.6" y1="724.95" x2="845.87" y2="724.95" stroke="#fff" stroke-width="0.4" opacity="0.7"/>
<rect x="790.6" y="707.18" width="94.19" height="17.77" fill="#1f77b4" stroke="none" stroke-width="0" />
<line x1="790.6" y1="707.18" x2="884.79" y2="707.18" stroke="#fff" stroke-width="0.4" opacity="0.7"/>
<rect x="790.6" y="689.4" width="112.8" height="17.77" fill="#1f77b4" stroke="none" stroke-width="0" />
<line x1="790.6" y1="689.4" x2="903.4" y2="689.4" stroke="#fff" stroke-width="0.4" opacity="0.7"/>
<rect x="790.6" y="671.63" width="100.73" height="17.77" fill="#1f77b4" stroke="none" stroke-width="0" />
<line x1="790.6" y1="671.63" x2="891.33" y2="671.63" stroke="#fff" stroke-width="0.4" opacity="0.7"/>
<rect x="790.6" y="653.87" width="71.18" height="17.77" fill="#1f77b4" stroke="none" stroke-width="0" />
<line x1="790.6" y1="653.87" x2="861.78" y2="653.87" stroke="#fff" stroke-width="0.4" opacity="0.7"/>
<rect x="790.6" y="636.1" width="41.17" height="17.77" fill="#1f77b4" stroke="none" stroke-width="0" />
<line x1="790.6" y1="636.1" x2="831.77" y2="636.1" stroke="#fff" stroke-width="0.4" opacity="0.7"/>
<rect x="790.6" y="618.33" width="20.3" height="17.77" fill="#1f77b4" stroke="none" stroke-width="0" />
<line x1="790.6" y1="618.33" x2="810.9" y2="618.33" stroke="#fff" stroke-width="0.4" opacity="0.7"/>
<rect x="790.6" y="600.56" width="8.35" height="17.77" fill="#1f77b4" stroke="none" stroke-width="0" />
<line x1="790.6" y1="600.56" x2="798.95" y2="600.56" stroke="#fff" stroke-width="0.4" opacity="0.7"/>
<rect x="790.6" y="582.79" width="4.06" height="17.77" fill="#1f77b4" stroke="none" stroke-width="0" />
<line x1="790.6" y1="582.79" x2="794.66" y2="582.79" stroke="#fff" stroke-width="0.4" opacity="0.7"/>
<rect x="790.6" y="565.01" width="1.13" height="17.77" fill="#1f77b4" stroke="none" stroke-width="0" />
<line x1="790.6" y1="565.01" x2="791.73" y2="565.01" stroke="#fff" stroke-width="0.4" opacity="0.7"/>
</g>
<line x1="134.5" y1="751.6" x2="154" y2="751.6" stroke="#000" stroke-width="3.8" />
<line x1="790.6" y1="751.6" x2="771.1" y2="751.6" stroke="#000" stroke-width="3.8" />
<line x1="790.6" y1="751.6" x2="810.1" y2="751.6" stroke="#000" stroke-width="3.8" />
<line x1="925.7" y1="751.6" x2="906.2" y2="751.6" stroke="#000" stroke-width="3.8" />
<line x1="134.5" y1="662.75" x2="154" y2="662.75" stroke="#000" stroke-width="3.8" />
<line x1="790.6" y1="662.75" x2="771.1" y2="662.75" stroke="#000" stroke-width="3.8" />
<line x1="790.6" y1="662.75" x2="810.1" y2="662.75" stroke="#000" stroke-width="3.8" />
<line x1="925.7" y1="662.75" x2="906.2" y2="662.75" stroke="#000" stroke-width="3.8" />
<line x1="134.5" y1="573.9" x2="154" y2="573.9" stroke="#000" stroke-width="3.8" />
<line x1="790.6" y1="573.9" x2="771.1" y2="573.9" stroke="#000" stroke-width="3.8" />
<line x1="790.6" y1="573.9" x2="810.1" y2="573.9" stroke="#000" stroke-width="3.8" />
<line x1="925.7" y1="573.9" x2="906.2" y2="573.9" stroke="#000" stroke-width="3.8" />
<line x1="368.6" y1="557" x2="368.6" y2="576.5" stroke="#000" stroke-width="3.8" />
<line x1="368.6" y1="760.4" x2="368.6" y2="740.9" stroke="#000" stroke-width="3.8" />
<line x1="602.7" y1="557" x2="602.7" y2="576.5" stroke="#000" stroke-width="3.8" />
<line x1="602.7" y1="760.4" x2="602.7" y2="740.9" stroke="#000" stroke-width="3.8" />
<line x1="903.4" y1="557" x2="903.4" y2="576.5" stroke="#000" stroke-width="3.8" />
<line x1="903.4" y1="760.4" x2="903.4" y2="740.9" stroke="#000" stroke-width="3.8" />
<line x1="134.2" y1="742.72" x2="790.6" y2="742.72" stroke="#d62728" stroke-width="3.4" stroke-dasharray="14.3 6.1"/>
<line x1="790.6" y1="742.72" x2="925.7" y2="742.72" stroke="#d62728" stroke-width="3.4" stroke-dasharray="14.3 6.1"/>
<g clip-path="url(#clipc)"><polyline points="134.68,751.6 135.04,751.6 135.4,751.6 135.76,751.6 136.12,751.6 136.48,751.6 136.84,751.6 137.2,751.6 137.56,751.6 137.92,751.6 138.28,751.6 138.64,751.6 139,751.6 139.36,751.6 139.72,751.6 140.08,751.6 140.44,751.6 140.8,751.6 141.16,751.6 141.52,751.6 141.88,751.6 142.24,751.6 142.6,751.6 142.96,751.6 143.32,751.6 143.68,751.6 144.04,751.6 144.4,751.6 144.76,751.6 145.12,751.6 145.48,751.6 145.84,751.6 146.2,751.6 146.56,751.6 146.92,751.6 147.28,751.6 147.64,751.6 148,751.6 148.36,751.6 148.72,751.6 149.08,751.6 149.44,751.6 149.8,751.6 150.16,751.6 150.52,751.6 150.88,751.6 151.24,751.6 151.6,751.6 151.96,751.6 152.32,751.6 152.68,751.6 153.04,751.6 153.4,751.6 153.76,751.6 154.12,751.6 154.48,751.6 154.84,751.6 155.2,751.6 155.56,751.6 155.92,751.6 156.28,751.6 156.64,751.6 157,751.6 157.36,751.6 157.72,751.6 158.08,751.6 158.44,751.6 158.8,751.6 159.16,751.6 159.52,751.6 159.88,751.6 160.24,751.6 160.6,751.6 160.96,751.6 161.32,751.6 161.68,751.6 162.04,751.6 162.4,751.6 162.76,662.75 163.12,609.44 163.48,733.83 163.84,716.06 164.2,662.75 164.56,733.83 164.92,716.06 165.28,662.75 165.64,680.52 166,733.83 166.36,716.06 166.72,733.83 167.08,733.83 167.44,698.29 167.8,680.52 168.16,698.29 168.52,680.52 168.88,698.29 169.24,662.75 169.6,733.83 169.96,680.52 170.32,680.52 170.68,716.06 171.04,698.29 171.4,716.06 171.76,716.06 172.12,698.29 172.48,698.29 172.84,680.52 173.2,716.06 173.56,627.21 173.92,680.52 174.28,662.75 174.64,698.29 175,698.29 175.36,716.06 175.72,698.29 176.08,716.06 176.44,662.75 176.8,662.75 177.16,644.98 177.52,698.29 177.88,733.83 178.24,698.29 178.6,662.75 178.96,751.6 179.32,733.83 179.68,680.52 180.04,698.29 180.4,662.75 180.76,662.75 181.12,698.29 181.48,698.29 181.84,698.29 182.2,680.52 182.56,609.44 182.92,716.06 183.28,698.29 183.64,716.06 184,716.06 184.36,733.83 184.72,698.29 185.08,698.29 185.44,644.98 185.8,680.52 186.16,698.29 186.52,662.75 186.88,662.75 187.24,716.06 187.6,662.75 187.96,733.83 188.32,680.52 188.68,716.06 189.04,644.98 189.4,662.75 189.76,662.75 190.12,716.06 190.48,716.06 190.84,733.83 191.2,591.67 191.56,680.52 191.92,662.75 192.28,662.75 192.64,716.06 193,733.83 193.36,698.29 193.72,733.83 194.08,698.29 194.44,662.75 194.8,662.75 195.16,680.52 195.52,680.52 195.88,716.06 196.24,716.06 196.6,662.75 196.96,698.29 197.32,662.75 197.68,680.52 198.04,662.75 198.4,733.83 198.76,698.29 199.12,716.06 199.48,698.29 199.84,716.06 200.2,716.06 200.56,698.29 200.92,716.06 201.28,644.98 201.64,733.83 202,698.29 202.36,698.29 202.72,627.21 203.08,716.06 203.44,680.52 203.8,698.29 204.16,733.83 204.52,698.29 204.88,716.06 205.24,733.83 205.6,680.52 205.96,716.06 206.32,680.52 206.68,644.98 207.04,751.6 207.4,698.29 207.76,680.52 208.12,662.75 208.48,609.44 208.84,698.29 209.2,716.06 209.56,680.52 209.92,716.06 210.28,698.29 210.64,716.06 211,698.29 211.36,733.83 211.72,662.75 212.08,680.52 212.44,680.52 212.8,733.83 213.16,716.06 213.52,716.06 213.88,662.75 214.24,698.29 214.6,680.52 214.96,698.29 215.32,680.52 215.68,627.21 216.04,662.75 216.4,716.06 216.76,680.52 217.12,698.29 217.48,662.75 217.84,698.29 218.2,698.29 218.56,662.75 218.92,698.29 219.28,662.75 219.64,733.83 220,680.52 220.36,698.29 220.72,662.75 221.08,698.29 221.44,627.21 221.8,716.06 222.16,733.83 222.52,733.83 222.88,698.29 223.24,698.29 223.6,680.52 223.96,698.29 224.32,716.06 224.68,698.29 225.04,680.52 225.4,680.52 225.76,680.52 226.12,733.83 226.48,662.75 226.84,644.98 227.2,662.75 227.56,698.29 227.92,716.06 228.28,716.06 228.64,662.75 229,698.29 229.36,716.06 229.72,716.06 230.08,662.75 230.44,698.29 230.8,733.83 231.16,680.52 231.52,662.75 231.88,644.98 232.24,680.52 232.6,716.06 232.96,680.52 233.32,716.06 233.68,716.06 234.04,733.83 234.4,716.06 234.76,698.29 235.12,680.52 235.48,680.52 235.84,698.29 236.2,716.06 236.56,698.29 236.92,680.52 237.28,662.75 237.64,751.6 238,751.6 238.36,751.6 238.72,751.6 239.08,751.6 239.44,751.6 239.8,751.6 240.16,751.6 240.52,751.6 240.88,751.6 241.24,751.6 241.6,751.6 241.96,751.6 242.32,751.6 242.68,751.6 243.04,751.6 243.4,751.6 243.76,751.6 244.12,751.6 244.48,751.6 244.84,751.6 245.2,751.6 245.56,751.6 245.92,751.6 246.28,751.6 246.64,751.6 247,751.6 247.36,751.6 247.72,751.6 248.08,751.6 248.44,751.6 248.8,751.6 249.16,751.6 249.52,751.6 249.88,751.6 250.24,751.6 250.6,751.6 250.96,751.6 251.32,751.6 251.68,751.6 252.04,751.6 252.4,751.6 252.76,751.6 253.12,751.6 253.48,751.6 253.84,751.6 254.2,751.6 254.56,751.6 254.92,751.6 255.28,751.6 255.64,751.6 256,751.6 256.36,751.6 256.72,751.6 257.08,751.6 257.44,751.6 257.8,751.6 258.16,751.6 258.52,751.6 258.88,751.6 259.24,751.6 259.6,751.6 259.96,751.6 260.32,751.6 260.68,751.6 261.04,751.6 261.4,751.6 261.76,751.6 262.12,751.6 262.48,751.6 262.84,751.6 263.2,751.6 263.56,751.6 263.92,751.6 264.28,751.6 264.64,751.6 265,751.6 265.36,751.6 265.72,751.6 266.08,751.6 266.44,751.6 266.8,751.6 267.16,751.6 267.52,751.6 267.88,751.6 268.24,751.6 268.6,751.6 268.96,751.6 269.32,751.6 269.68,751.6 270.04,751.6 270.4,751.6 270.76,751.6 271.12,751.6 271.48,751.6 271.84,751.6 272.2,751.6 272.56,751.6 272.92,751.6 273.28,751.6 273.64,751.6 274,751.6 274.36,751.6 274.72,751.6 275.08,751.6 275.44,751.6 275.8,751.6 276.16,751.6 276.52,751.6 276.88,751.6 277.24,751.6 277.6,751.6 277.96,751.6 278.32,751.6 278.68,751.6 279.04,751.6 279.4,751.6 279.76,751.6 280.12,751.6 280.48,751.6 280.84,751.6 281.2,751.6 281.56,751.6 281.92,751.6 282.28,751.6 282.64,751.6 283,751.6 283.36,751.6 283.72,751.6 284.08,751.6 284.44,751.6 284.8,751.6 285.16,751.6 285.52,751.6 285.88,751.6 286.24,751.6 286.6,751.6 286.96,698.29 287.32,716.06 287.68,662.75 288.04,716.06 288.4,662.75 288.76,733.83 289.12,680.52 289.48,644.98 289.84,627.21 290.2,698.29 290.56,698.29 290.92,733.83 291.28,680.52 291.64,662.75 292,698.29 292.36,680.52 292.72,644.98 293.08,680.52 293.44,680.52 293.8,680.52 294.16,716.06 294.52,716.06 294.88,698.29 295.24,716.06 295.6,733.83 295.96,662.75 296.32,680.52 296.68,698.29 297.04,698.29 297.4,716.06 297.76,698.29 298.12,698.29 298.48,698.29 298.84,698.29 299.2,680.52 299.56,716.06 299.92,698.29 300.28,591.67 300.64,698.29 301,733.83 301.36,644.98 301.72,733.83 302.08,680.52 302.44,680.52 302.8,662.75 303.16,698.29 303.52,733.83 303.88,680.52 304.24,733.83 304.6,698.29 304.96,698.29 305.32,698.29 305.68,733.83 306.04,698.29 306.4,698.29 306.76,716.06 307.12,698.29 307.48,698.29 307.84,680.52 308.2,733.83 308.56,716.06 308.92,591.67 309.28,716.06 309.64,698.29 310,680.52 310.36,716.06 310.72,716.06 311.08,644.98 311.44,698.29 311.8,716.06 312.16,716.06 312.52,662.75 312.88,733.83 313.24,698.29 313.6,716.06 313.96,680.52 314.32,662.75 314.68,716.06 315.04,627.21 315.4,716.06 315.76,716.06 316.12,698.29 316.48,680.52 316.84,698.29 317.2,698.29 317.56,716.06 317.92,733.83 318.28,644.98 318.64,662.75 319,716.06 319.36,698.29 319.72,716.06 320.08,716.06 320.44,733.83 320.8,698.29 321.16,716.06 321.52,627.21 321.88,733.83 322.24,680.52 322.6,733.83 322.96,680.52 323.32,680.52 323.68,680.52 324.04,698.29 324.4,716.06 324.76,698.29 325.12,698.29 325.48,698.29 325.84,644.98 326.2,680.52 326.56,680.52 326.92,644.98 327.28,627.21 327.64,680.52 328,680.52 328.36,698.29 328.72,680.52 329.08,716.06 329.44,698.29 329.8,662.75 330.16,698.29 330.52,716.06 330.88,698.29 331.24,733.83 331.6,698.29 331.96,644.98 332.32,698.29 332.68,627.21 333.04,716.06 333.4,733.83 333.76,698.29 334.12,698.29 334.48,733.83 334.84,716.06 335.2,698.29 335.56,662.75 335.92,644.98 336.28,716.06 336.64,733.83 337,733.83 337.36,698.29 337.72,716.06 338.08,644.98 338.44,680.52 338.8,698.29 339.16,662.75 339.52,716.06 339.88,680.52 340.24,716.06 340.6,716.06 340.96,733.83 341.32,609.44 341.68,680.52 342.04,662.75 342.4,716.06 342.76,698.29 343.12,627.21 343.48,662.75 343.84,680.52 344.2,698.29 344.56,698.29 344.92,662.75 345.28,644.98 345.64,698.29 346,644.98 346.36,662.75 346.72,698.29 347.08,698.29 347.44,698.29 347.8,591.67 348.16,698.29 348.52,680.52 348.88,662.75 349.24,716.06 349.6,698.29 349.96,627.21 350.32,698.29 350.68,662.75 351.04,680.52 351.4,662.75 351.76,680.52 352.12,662.75 352.48,662.75 352.84,680.52 353.2,680.52 353.56,751.6 353.92,680.52 354.28,716.06 354.64,680.52 355,733.83 355.36,698.29 355.72,733.83 356.08,680.52 356.44,698.29 356.8,644.98 357.16,751.6 357.52,680.52 357.88,716.06 358.24,698.29 358.6,698.29 358.96,716.06 359.32,698.29 359.68,733.83 360.04,698.29 360.4,698.29 360.76,751.6 361.12,680.52 361.48,733.83 361.84,698.29 362.2,733.83 362.56,733.83 362.92,644.98 363.28,698.29 363.64,698.29 364,716.06 364.36,716.06 364.72,698.29 365.08,698.29 365.44,716.06 365.8,716.06 366.16,662.75 366.52,680.52 366.88,716.06 367.24,698.29 367.6,680.52 367.96,644.98 368.32,733.83 368.68,609.44 369.04,698.29 369.4,751.6 369.76,662.75 370.12,716.06 370.48,733.83 370.84,680.52 371.2,680.52 371.56,698.29 371.92,716.06 372.28,644.98 372.64,591.67 373,698.29 373.36,680.52 373.72,662.75 374.08,698.29 374.44,627.21 374.8,662.75 375.16,698.29 375.52,733.83 375.88,698.29 376.24,662.75 376.6,698.29 376.96,644.98 377.32,698.29 377.68,698.29 378.04,716.06 378.4,680.52 378.76,680.52 379.12,662.75 379.48,680.52 379.84,751.6 380.2,680.52 380.56,698.29 380.92,662.75 381.28,698.29 381.64,698.29 382,716.06 382.36,698.29 382.72,662.75 383.08,680.52 383.44,698.29 383.8,680.52 384.16,751.6 384.52,698.29 384.88,716.06 385.24,698.29 385.6,680.52 385.96,698.29 386.32,698.29 386.68,662.75 387.04,733.83 387.4,698.29 387.76,733.83 388.12,751.6 388.48,627.21 388.84,698.29 389.2,698.29 389.56,698.29 389.92,698.29 390.28,698.29 390.64,716.06 391,716.06 391.36,716.06 391.72,680.52 392.08,751.6 392.44,662.75 392.8,680.52 393.16,716.06 393.52,733.83 393.88,662.75 394.24,680.52 394.6,716.06 394.96,716.06 395.32,733.83 395.68,716.06 396.04,680.52 396.4,733.83 396.76,733.83 397.12,698.29 397.48,662.75 397.84,680.52 398.2,662.75 398.56,680.52 398.92,716.06 399.28,698.29 399.64,680.52 400,662.75 400.36,716.06 400.72,662.75 401.08,662.75 401.44,698.29 401.8,644.98 402.16,698.29 402.52,644.98 402.88,698.29 403.24,662.75 403.6,698.29 403.96,698.29 404.32,680.52 404.68,716.06 405.04,733.83 405.4,716.06 405.76,733.83 406.12,733.83 406.48,680.52 406.84,733.83 407.2,716.06 407.56,716.06 407.92,680.52 408.28,680.52 408.64,680.52 409,644.98 409.36,698.29 409.72,716.06 410.08,698.29 410.44,609.44 410.8,733.83 411.16,644.98 411.52,698.29 411.88,698.29 412.24,680.52 412.6,662.75 412.96,680.52 413.32,662.75 413.68,698.29 414.04,662.75 414.4,644.98 414.76,680.52 415.12,662.75 415.48,680.52 415.84,680.52 416.2,662.75 416.56,698.29 416.92,680.52 417.28,680.52 417.64,716.06 418,698.29 418.36,716.06 418.72,733.83 419.08,716.06 419.44,609.44 419.8,680.52 420.16,662.75 420.52,716.06 420.88,733.83 421.24,716.06 421.6,698.29 421.96,662.75 422.32,662.75 422.68,662.75 423.04,698.29 423.4,680.52 423.76,716.06 424.12,698.29 424.48,716.06 424.84,680.52 425.2,733.83 425.56,698.29 425.92,698.29 426.28,698.29 426.64,716.06 427,698.29 427.36,644.98 427.72,609.44 428.08,662.75 428.44,733.83 428.8,733.83 429.16,698.29 429.52,644.98 429.88,680.52 430.24,644.98 430.6,733.83 430.96,698.29 431.32,698.29 431.68,680.52 432.04,716.06 432.4,716.06 432.76,716.06 433.12,680.52 433.48,698.29 433.84,733.83 434.2,733.83 434.56,733.83 434.92,698.29 435.28,698.29 435.64,716.06 436,680.52 436.36,698.29 436.72,698.29 437.08,716.06 437.44,751.6 437.8,716.06 438.16,716.06 438.52,662.75 438.88,733.83 439.24,662.75 439.6,698.29 439.96,698.29 440.32,698.29 440.68,680.52 441.04,716.06 441.4,662.75 441.76,716.06 442.12,716.06 442.48,680.52 442.84,733.83 443.2,716.06 443.56,644.98 443.92,680.52 444.28,698.29 444.64,680.52 445,680.52 445.36,680.52 445.72,680.52 446.08,716.06 446.44,680.52 446.8,662.75 447.16,716.06 447.52,716.06 447.88,733.83 448.24,733.83 448.6,680.52 448.96,680.52 449.32,644.98 449.68,698.29 450.04,680.52 450.4,698.29 450.76,698.29 451.12,698.29 451.48,716.06 451.84,698.29 452.2,591.67 452.56,680.52 452.92,698.29 453.28,698.29 453.64,698.29 454,662.75 454.36,733.83 454.72,716.06 455.08,627.21 455.44,698.29 455.8,698.29 456.16,698.29 456.52,698.29 456.88,680.52 457.24,733.83 457.6,680.52 457.96,680.52 458.32,680.52 458.68,680.52 459.04,680.52 459.4,698.29 459.76,698.29 460.12,716.06 460.48,698.29 460.84,698.29 461.2,644.98 461.56,627.21 461.92,680.52 462.28,716.06 462.64,662.75 463,698.29 463.36,698.29 463.72,698.29 464.08,698.29 464.44,733.83 464.8,609.44 465.16,698.29 465.52,662.75 465.88,716.06 466.24,716.06 466.6,680.52 466.96,698.29 467.32,662.75 467.68,733.83 468.04,698.29 468.4,662.75 468.76,716.06 469.12,716.06 469.48,698.29 469.84,644.98 470.2,698.29 470.56,627.21 470.92,716.06 471.28,662.75 471.64,662.75 472,716.06 472.36,716.06 472.72,716.06 473.08,733.83 473.44,698.29 473.8,698.29 474.16,733.83 474.52,609.44 474.88,680.52 475.24,680.52 475.6,644.98 475.96,716.06 476.32,680.52 476.68,716.06 477.04,662.75 477.4,698.29 477.76,680.52 478.12,733.83 478.48,698.29 478.84,716.06 479.2,698.29 479.56,733.83 479.92,698.29 480.28,698.29 480.64,662.75 481,644.98 481.36,716.06 481.72,662.75 482.08,662.75 482.44,698.29 482.8,627.21 483.16,698.29 483.52,716.06 483.88,751.6 484.24,662.75 484.6,698.29 484.96,716.06 485.32,662.75 485.68,698.29 486.04,698.29 486.4,733.83 486.76,662.75 487.12,698.29 487.48,662.75 487.84,680.52 488.2,662.75 488.56,716.06 488.92,716.06 489.28,698.29 489.64,627.21 490,644.98 490.36,733.83 490.72,680.52 491.08,733.83 491.44,680.52 491.8,716.06 492.16,716.06 492.52,662.75 492.88,716.06 493.24,680.52 493.6,716.06 493.96,662.75 494.32,698.29 494.68,698.29 495.04,698.29 495.4,698.29 495.76,733.83 496.12,662.75 496.48,644.98 496.84,680.52 497.2,698.29 497.56,662.75 497.92,680.52 498.28,680.52 498.64,733.83 499,680.52 499.36,733.83 499.72,680.52 500.08,733.83 500.44,733.83 500.8,680.52 501.16,698.29 501.52,716.06 501.88,662.75 502.24,662.75 502.6,716.06 502.96,733.83 503.32,716.06 503.68,609.44 504.04,698.29 504.4,733.83 504.76,680.52 505.12,733.83 505.48,662.75 505.84,716.06 506.2,698.29 506.56,733.83 506.92,644.98 507.28,627.21 507.64,733.83 508,698.29 508.36,716.06 508.72,662.75 509.08,716.06 509.44,698.29 509.8,698.29 510.16,680.52 510.52,680.52 510.88,716.06 511.24,662.75 511.6,698.29 511.96,733.83 512.32,733.83 512.68,698.29 513.04,698.29 513.4,680.52 513.76,662.75 514.12,733.83 514.48,698.29 514.84,733.83 515.2,733.83 515.56,698.29 515.92,627.21 516.28,680.52 516.64,662.75 517,716.06 517.36,733.83 517.72,573.9 518.08,698.29 518.44,662.75 518.8,609.44 519.16,698.29 519.52,716.06 519.88,716.06 520.24,698.29 520.6,716.06 520.96,733.83 521.32,644.98 521.68,662.75 522.04,698.29 522.4,716.06 522.76,680.52 523.12,662.75 523.48,698.29 523.84,716.06 524.2,644.98 524.56,627.21 524.92,733.83 525.28,662.75 525.64,716.06 526,698.29 526.36,680.52 526.72,644.98 527.08,733.83 527.44,680.52 527.8,680.52 528.16,751.6 528.52,680.52 528.88,662.75 529.24,680.52 529.6,716.06 529.96,698.29 530.32,716.06 530.68,698.29 531.04,662.75 531.4,716.06 531.76,733.83 532.12,680.52 532.48,716.06 532.84,716.06 533.2,716.06 533.56,716.06 533.92,698.29 534.28,716.06 534.64,662.75 535,733.83 535.36,662.75 535.72,662.75 536.08,698.29 536.44,662.75 536.8,680.52 537.16,733.83 537.52,662.75 537.88,680.52 538.24,662.75 538.6,662.75 538.96,716.06 539.32,733.83 539.68,698.29 540.04,716.06 540.4,716.06 540.76,698.29 541.12,662.75 541.48,662.75 541.84,680.52 542.2,716.06 542.56,698.29 542.92,698.29 543.28,716.06 543.64,698.29 544,680.52 544.36,680.52 544.72,698.29 545.08,680.52 545.44,716.06 545.8,680.52 546.16,644.98 546.52,698.29 546.88,680.52 547.24,662.75 547.6,680.52 547.96,716.06 548.32,698.29 548.68,662.75 549.04,680.52 549.4,716.06 549.76,698.29 550.12,716.06 550.48,698.29 550.84,627.21 551.2,662.75 551.56,733.83 551.92,716.06 552.28,698.29 552.64,662.75 553,733.83 553.36,680.52 553.72,751.6 554.08,751.6 554.44,751.6 554.8,751.6 555.16,751.6 555.52,751.6 555.88,751.6 556.24,751.6 556.6,751.6 556.96,751.6 557.32,751.6 557.68,751.6 558.04,751.6 558.4,751.6 558.76,751.6 559.12,751.6 559.48,751.6 559.84,751.6 560.2,751.6 560.56,751.6 560.92,751.6 561.28,751.6 561.64,751.6 562,751.6 562.36,751.6 562.72,751.6 563.08,751.6 563.44,751.6 563.8,751.6 564.16,751.6 564.52,751.6 564.88,751.6 565.24,751.6 565.6,751.6 565.96,751.6 566.32,751.6 566.68,751.6 567.04,751.6 567.4,751.6 567.76,751.6 568.12,751.6 568.48,751.6 568.84,751.6 569.2,751.6 569.56,751.6 569.92,751.6 570.28,751.6 570.64,751.6 571,751.6 571.36,751.6 571.72,733.83 572.08,733.83 572.44,698.29 572.8,716.06 573.16,680.52 573.52,733.83 573.88,698.29 574.24,698.29 574.6,680.52 574.96,716.06 575.32,680.52 575.68,680.52 576.04,662.75 576.4,662.75 576.76,662.75 577.12,644.98 577.48,680.52 577.84,698.29 578.2,698.29 578.56,698.29 578.92,627.21 579.28,698.29 579.64,680.52 580,716.06 580.36,680.52 580.72,644.98 581.08,733.83 581.44,733.83 581.8,698.29 582.16,698.29 582.52,662.75 582.88,698.29 583.24,698.29 583.6,680.52 583.96,680.52 584.32,644.98 584.68,680.52 585.04,644.98 585.4,716.06 585.76,627.21 586.12,680.52 586.48,698.29 586.84,733.83 587.2,733.83 587.56,733.83 587.92,698.29 588.28,698.29 588.64,716.06 589,680.52 589.36,662.75 589.72,698.29 590.08,680.52 590.44,733.83 590.8,662.75 591.16,716.06 591.52,698.29 591.88,733.83 592.24,680.52 592.6,662.75 592.96,733.83 593.32,698.29 593.68,716.06 594.04,680.52 594.4,698.29 594.76,698.29 595.12,680.52 595.48,733.83 595.84,716.06 596.2,680.52 596.56,716.06 596.92,716.06 597.28,698.29 597.64,733.83 598,698.29 598.36,698.29 598.72,716.06 599.08,662.75 599.44,680.52 599.8,627.21 600.16,716.06 600.52,662.75 600.88,698.29 601.24,733.83 601.6,662.75 601.96,680.52 602.32,716.06 602.68,716.06 603.04,716.06 603.4,733.83 603.76,698.29 604.12,680.52 604.48,680.52 604.84,698.29 605.2,644.98 605.56,680.52 605.92,680.52 606.28,662.75 606.64,662.75 607,662.75 607.36,698.29 607.72,716.06 608.08,716.06 608.44,662.75 608.8,716.06 609.16,662.75 609.52,680.52 609.88,698.29 610.24,733.83 610.6,698.29 610.96,698.29 611.32,698.29 611.68,644.98 612.04,680.52 612.4,680.52 612.76,716.06 613.12,751.6 613.48,751.6 613.84,751.6 614.2,751.6 614.56,751.6 614.92,751.6 615.28,751.6 615.64,751.6 616,751.6 616.36,751.6 616.72,751.6 617.08,751.6 617.44,751.6 617.8,751.6 618.16,751.6 618.52,751.6 618.88,751.6 619.24,751.6 619.6,751.6 619.96,751.6 620.32,751.6 620.68,751.6 621.04,751.6 621.4,751.6 621.76,751.6 622.12,751.6 622.48,751.6 622.84,751.6 623.2,751.6 623.56,751.6 623.92,751.6 624.28,751.6 624.64,751.6 625,751.6 625.36,751.6 625.72,751.6 626.08,751.6 626.44,751.6 626.8,751.6 627.16,751.6 627.52,751.6 627.88,751.6 628.24,751.6 628.6,751.6 628.96,751.6 629.32,751.6 629.68,751.6 630.04,751.6 630.4,751.6 630.76,751.6 631.12,751.6 631.48,751.6 631.84,751.6 632.2,751.6 632.56,751.6 632.92,751.6 633.28,751.6 633.64,751.6 634,751.6 634.36,751.6 634.72,751.6 635.08,751.6 635.44,751.6 635.8,751.6 636.16,751.6 636.52,751.6 636.88,751.6 637.24,751.6 637.6,751.6 637.96,751.6 638.32,751.6 638.68,751.6 639.04,751.6 639.4,751.6 639.76,751.6 640.12,751.6 640.48,751.6 640.84,751.6 641.2,751.6 641.56,751.6 641.92,751.6 642.28,751.6 642.64,751.6 643,751.6 643.36,751.6 643.72,751.6 644.08,751.6 644.44,751.6 644.8,751.6 645.16,751.6 645.52,751.6 645.88,751.6 646.24,751.6 646.6,751.6 646.96,751.6 647.32,751.6 647.68,751.6 648.04,751.6 648.4,751.6 648.76,751.6 649.12,751.6 649.48,751.6 649.84,751.6 650.2,751.6 650.56,751.6 650.92,751.6 651.28,751.6 651.64,751.6 652,751.6 652.36,751.6 652.72,751.6 653.08,751.6 653.44,751.6 653.8,751.6 654.16,751.6 654.52,751.6 654.88,751.6 655.24,751.6 655.6,751.6 655.96,751.6 656.32,751.6 656.68,751.6 657.04,751.6 657.4,751.6 657.76,751.6 658.12,751.6 658.48,751.6 658.84,751.6 659.2,751.6 659.56,751.6 659.92,751.6 660.28,751.6 660.64,751.6 661,751.6 661.36,751.6 661.72,751.6 662.08,751.6 662.44,751.6 662.8,751.6 663.16,751.6 663.52,751.6 663.88,751.6 664.24,751.6 664.6,751.6 664.96,751.6 665.32,751.6 665.68,751.6 666.04,751.6 666.4,751.6 666.76,751.6 667.12,751.6 667.48,751.6 667.84,751.6 668.2,751.6 668.56,751.6 668.92,751.6 669.28,751.6 669.64,751.6 670,751.6 670.36,680.52 670.72,733.83 671.08,680.52 671.44,733.83 671.8,680.52 672.16,680.52 672.52,716.06 672.88,733.83 673.24,733.83 673.6,716.06 673.96,662.75 674.32,733.83 674.68,680.52 675.04,716.06 675.4,698.29 675.76,716.06 676.12,698.29 676.48,716.06 676.84,716.06 677.2,662.75 677.56,716.06 677.92,733.83 678.28,733.83 678.64,662.75 679,644.98 679.36,733.83 679.72,680.52 680.08,662.75 680.44,644.98 680.8,662.75 681.16,662.75 681.52,662.75 681.88,698.29 682.24,716.06 682.6,680.52 682.96,698.29 683.32,716.06 683.68,716.06 684.04,680.52 684.4,662.75 684.76,698.29 685.12,716.06 685.48,751.6 685.84,698.29 686.2,698.29 686.56,662.75 686.92,716.06 687.28,716.06 687.64,662.75 688,698.29 688.36,644.98 688.72,662.75 689.08,716.06 689.44,662.75 689.8,662.75 690.16,716.06 690.52,662.75 690.88,733.83 691.24,733.83 691.6,662.75 691.96,662.75 692.32,662.75 692.68,733.83 693.04,698.29 693.4,716.06 693.76,733.83 694.12,733.83 694.48,680.52 694.84,698.29 695.2,698.29 695.56,716.06 695.92,698.29 696.28,698.29 696.64,698.29 697,698.29 697.36,733.83 697.72,627.21 698.08,662.75 698.44,751.6 698.8,716.06 699.16,662.75 699.52,698.29 699.88,680.52 700.24,591.67 700.6,698.29 700.96,733.83 701.32,662.75 701.68,698.29 702.04,716.06 702.4,733.83 702.76,733.83 703.12,680.52 703.48,680.52 703.84,662.75 704.2,680.52 704.56,627.21 704.92,680.52 705.28,680.52 705.64,662.75 706,716.06 706.36,716.06 706.72,698.29 707.08,698.29 707.44,680.52 707.8,680.52 708.16,698.29 708.52,680.52 708.88,680.52 709.24,662.75 709.6,716.06 709.96,680.52 710.32,716.06 710.68,644.98 711.04,680.52 711.4,680.52 711.76,733.83 712.12,698.29 712.48,716.06 712.84,680.52 713.2,733.83 713.56,698.29 713.92,733.83 714.28,733.83 714.64,662.75 715,698.29 715.36,680.52 715.72,716.06 716.08,733.83 716.44,662.75 716.8,751.6 717.16,680.52 717.52,680.52 717.88,698.29 718.24,680.52 718.6,680.52 718.96,733.83 719.32,716.06 719.68,716.06 720.04,733.83 720.4,662.75 720.76,698.29 721.12,716.06 721.48,662.75 721.84,698.29 722.2,644.98 722.56,662.75 722.92,733.83 723.28,698.29 723.64,680.52 724,716.06 724.36,662.75 724.72,733.83 725.08,733.83 725.44,627.21 725.8,733.83 726.16,680.52 726.52,680.52 726.88,662.75 727.24,733.83 727.6,716.06 727.96,662.75 728.32,733.83 728.68,662.75 729.04,751.6 729.4,662.75 729.76,716.06 730.12,662.75 730.48,733.83 730.84,698.29 731.2,680.52 731.56,698.29 731.92,698.29 732.28,698.29 732.64,698.29 733,662.75 733.36,662.75 733.72,716.06 734.08,733.83 734.44,644.98 734.8,644.98 735.16,662.75 735.52,662.75 735.88,716.06 736.24,698.29 736.6,680.52 736.96,716.06 737.32,698.29 737.68,698.29 738.04,698.29 738.4,644.98 738.76,662.75 739.12,698.29 739.48,698.29 739.84,716.06 740.2,662.75 740.56,662.75 740.92,662.75 741.28,698.29 741.64,680.52 742,662.75 742.36,698.29 742.72,644.98 743.08,698.29 743.44,716.06 743.8,716.06 744.16,662.75 744.52,716.06 744.88,751.6 745.24,680.52 745.6,644.98 745.96,698.29 746.32,698.29 746.68,716.06 747.04,662.75 747.4,716.06 747.76,716.06 748.12,716.06 748.48,662.75 748.84,662.75 749.2,680.52 749.56,644.98 749.92,680.52 750.28,716.06 750.64,698.29 751,698.29 751.36,698.29 751.72,609.44 752.08,733.83 752.44,733.83 752.8,680.52 753.16,698.29 753.52,627.21 753.88,733.83 754.24,698.29 754.6,733.83 754.96,662.75 755.32,662.75 755.68,680.52 756.04,716.06 756.4,716.06 756.76,680.52 757.12,751.6 757.48,716.06 757.84,609.44 758.2,680.52 758.56,733.83 758.92,733.83 759.28,716.06 759.64,698.29 760,698.29 760.36,733.83 760.72,698.29 761.08,733.83 761.44,716.06 761.8,680.52 762.16,751.6 762.52,716.06 762.88,698.29 763.24,698.29 763.6,680.52 763.96,716.06 764.32,733.83 764.68,662.75 765.04,680.52 765.4,662.75 765.76,627.21 766.12,698.29 766.48,733.83 766.84,680.52 767.2,716.06 767.56,751.6 767.92,698.29 768.28,680.52 768.64,698.29 769,698.29 769.36,680.52 769.72,680.52 770.08,680.52 770.44,662.75 770.8,716.06 771.16,716.06 771.52,680.52 771.88,698.29 772.24,680.52 772.6,627.21 772.96,662.75 773.32,680.52 773.68,733.83 774.04,644.98 774.4,644.98 774.76,733.83 775.12,680.52 775.48,680.52 775.84,698.29 776.2,698.29 776.56,698.29 776.92,698.29 777.28,698.29 777.64,680.52 778,716.06 778.36,698.29 778.72,662.75 779.08,716.06 779.44,644.98 779.8,680.52 780.16,662.75 780.52,680.52 780.88,698.29 781.24,680.52 781.6,733.83 781.96,698.29 782.32,733.83 782.68,662.75 783.04,751.6 783.4,716.06 783.76,698.29 784.12,716.06 784.48,698.29 784.84,716.06 785.2,662.75 785.56,698.29 785.92,733.83 786.28,733.83 786.64,662.75 787,698.29 787.36,733.83 787.72,662.75 788.08,698.29 788.44,716.06 788.8,698.29 789.16,698.29 789.52,698.29 789.88,716.06 790.24,680.52" fill="none" stroke="#1f77b4" stroke-width="3.0" stroke-linejoin="round"/>
<g fill="#1f77b4"><circle cx="134.68" cy="751.6" r="5.8"/><circle cx="135.76" cy="751.6" r="5.8"/><circle cx="136.84" cy="751.6" r="5.8"/><circle cx="137.56" cy="751.6" r="5.8"/><circle cx="138.64" cy="751.6" r="5.8"/><circle cx="139.72" cy="751.6" r="5.8"/><circle cx="140.8" cy="751.6" r="5.8"/><circle cx="141.52" cy="751.6" r="5.8"/><circle cx="142.6" cy="751.6" r="5.8"/><circle cx="143.68" cy="751.6" r="5.8"/><circle cx="144.76" cy="751.6" r="5.8"/><circle cx="145.84" cy="751.6" r="5.8"/><circle cx="146.56" cy="751.6" r="5.8"/><circle cx="147.64" cy="751.6" r="5.8"/><circle cx="148.72" cy="751.6" r="5.8"/><circle cx="149.8" cy="751.6" r="5.8"/><circle cx="150.52" cy="751.6" r="5.8"/><circle cx="151.6" cy="751.6" r="5.8"/><circle cx="152.68" cy="751.6" r="5.8"/><circle cx="153.76" cy="751.6" r="5.8"/><circle cx="154.84" cy="751.6" r="5.8"/><circle cx="155.56" cy="751.6" r="5.8"/><circle cx="156.64" cy="751.6" r="5.8"/><circle cx="157.72" cy="751.6" r="5.8"/><circle cx="158.8" cy="751.6" r="5.8"/><circle cx="159.52" cy="751.6" r="5.8"/><circle cx="160.6" cy="751.6" r="5.8"/><circle cx="161.68" cy="751.6" r="5.8"/><circle cx="162.76" cy="662.75" r="5.8"/><circle cx="163.12" cy="609.44" r="5.8"/><circle cx="163.48" cy="733.83" r="5.8"/><circle cx="163.84" cy="716.06" r="5.8"/><circle cx="164.2" cy="662.75" r="5.8"/><circle cx="164.56" cy="733.83" r="5.8"/><circle cx="164.92" cy="716.06" r="5.8"/><circle cx="165.28" cy="662.75" r="5.8"/><circle cx="165.64" cy="680.52" r="5.8"/><circle cx="166" cy="733.83" r="5.8"/><circle cx="166.36" cy="716.06" r="5.8"/><circle cx="166.72" cy="733.83" r="5.8"/><circle cx="167.44" cy="698.29" r="5.8"/><circle cx="167.8" cy="680.52" r="5.8"/><circle cx="168.16" cy="698.29" r="5.8"/><circle cx="168.52" cy="680.52" r="5.8"/><circle cx="168.88" cy="698.29" r="5.8"/><circle cx="169.24" cy="662.75" r="5.8"/><circle cx="169.6" cy="733.83" r="5.8"/><circle cx="169.96" cy="680.52" r="5.8"/><circle cx="170.68" cy="716.06" r="5.8"/><circle cx="171.04" cy="698.29" r="5.8"/><circle cx="171.76" cy="716.06" r="5.8"/><circle cx="172.12" cy="698.29" r="5.8"/><circle cx="172.84" cy="680.52" r="5.8"/><circle cx="173.2" cy="716.06" r="5.8"/><circle cx="173.56" cy="627.21" r="5.8"/><circle cx="173.92" cy="680.52" r="5.8"/><circle cx="174.28" cy="662.75" r="5.8"/><circle cx="174.64" cy="698.29" r="5.8"/><circle cx="175.36" cy="716.06" r="5.8"/><circle cx="175.72" cy="698.29" r="5.8"/><circle cx="176.08" cy="716.06" r="5.8"/><circle cx="176.44" cy="662.75" r="5.8"/><circle cx="176.8" cy="662.75" r="5.8"/><circle cx="177.16" cy="644.98" r="5.8"/><circle cx="177.52" cy="698.29" r="5.8"/><circle cx="177.88" cy="733.83" r="5.8"/><circle cx="178.6" cy="662.75" r="5.8"/><circle cx="178.96" cy="751.6" r="5.8"/><circle cx="179.32" cy="733.83" r="5.8"/><circle cx="179.68" cy="680.52" r="5.8"/><circle cx="180.04" cy="698.29" r="5.8"/><circle cx="180.4" cy="662.75" r="5.8"/><circle cx="180.76" cy="662.75" r="5.8"/><circle cx="181.12" cy="698.29" r="5.8"/><circle cx="181.84" cy="698.29" r="5.8"/><circle cx="182.2" cy="680.52" r="5.8"/><circle cx="182.56" cy="609.44" r="5.8"/><circle cx="182.92" cy="716.06" r="5.8"/><circle cx="183.28" cy="698.29" r="5.8"/><circle cx="183.64" cy="716.06" r="5.8"/><circle cx="184.36" cy="733.83" r="5.8"/><circle cx="184.72" cy="698.29" r="5.8"/><circle cx="185.44" cy="644.98" r="5.8"/><circle cx="185.8" cy="680.52" r="5.8"/><circle cx="186.16" cy="698.29" r="5.8"/><circle cx="186.52" cy="662.75" r="5.8"/><circle cx="187.24" cy="716.06" r="5.8"/><circle cx="187.6" cy="662.75" r="5.8"/><circle cx="187.96" cy="733.83" r="5.8"/><circle cx="188.32" cy="680.52" r="5.8"/><circle cx="188.68" cy="716.06" r="5.8"/><circle cx="189.04" cy="644.98" r="5.8"/><circle cx="189.4" cy="662.75" r="5.8"/><circle cx="189.76" cy="662.75" r="5.8"/><circle cx="190.12" cy="716.06" r="5.8"/><circle cx="190.84" cy="733.83" r="5.8"/><circle cx="191.2" cy="591.67" r="5.8"/><circle cx="191.56" cy="680.52" r="5.8"/><circle cx="191.92" cy="662.75" r="5.8"/><circle cx="192.64" cy="716.06" r="5.8"/><circle cx="193" cy="733.83" r="5.8"/><circle cx="193.36" cy="698.29" r="5.8"/><circle cx="193.72" cy="733.83" r="5.8"/><circle cx="194.08" cy="698.29" r="5.8"/><circle cx="194.44" cy="662.75" r="5.8"/><circle cx="194.8" cy="662.75" r="5.8"/><circle cx="195.16" cy="680.52" r="5.8"/><circle cx="195.52" cy="680.52" r="5.8"/><circle cx="195.88" cy="716.06" r="5.8"/><circle cx="196.6" cy="662.75" r="5.8"/><circle cx="196.96" cy="698.29" r="5.8"/><circle cx="197.68" cy="680.52" r="5.8"/><circle cx="198.04" cy="662.75" r="5.8"/><circle cx="198.4" cy="733.83" r="5.8"/><circle cx="198.76" cy="698.29" r="5.8"/><circle cx="199.12" cy="716.06" r="5.8"/><circle cx="199.84" cy="716.06" r="5.8"/><circle cx="200.56" cy="698.29" r="5.8"/><circle cx="200.92" cy="716.06" r="5.8"/><circle cx="201.28" cy="644.98" r="5.8"/><circle cx="201.64" cy="733.83" r="5.8"/><circle cx="202" cy="698.29" r="5.8"/><circle cx="202.72" cy="627.21" r="5.8"/><circle cx="203.08" cy="716.06" r="5.8"/><circle cx="203.44" cy="680.52" r="5.8"/><circle cx="203.8" cy="698.29" r="5.8"/><circle cx="204.16" cy="733.83" r="5.8"/><circle cx="204.52" cy="698.29" r="5.8"/><circle cx="204.88" cy="716.06" r="5.8"/><circle cx="205.24" cy="733.83" r="5.8"/><circle cx="205.6" cy="680.52" r="5.8"/><circle cx="205.96" cy="716.06" r="5.8"/><circle cx="206.68" cy="644.98" r="5.8"/><circle cx="207.04" cy="751.6" r="5.8"/><circle cx="207.4" cy="698.29" r="5.8"/><circle cx="207.76" cy="680.52" r="5.8"/><circle cx="208.12" cy="662.75" r="5.8"/><circle cx="208.48" cy="609.44" r="5.8"/><circle cx="208.84" cy="698.29" r="5.8"/><circle cx="209.2" cy="716.06" r="5.8"/><circle cx="209.56" cy="680.52" r="5.8"/><circle cx="209.92" cy="716.06" r="5.8"/><circle cx="210.28" cy="698.29" r="5.8"/><circle cx="210.64" cy="716.06" r="5.8"/><circle cx="211" cy="698.29" r="5.8"/><circle cx="211.36" cy="733.83" r="5.8"/><circle cx="211.72" cy="662.75" r="5.8"/><circle cx="212.08" cy="680.52" r="5.8"/><circle cx="212.8" cy="733.83" r="5.8"/><circle cx="213.16" cy="716.06" r="5.8"/><circle cx="213.52" cy="716.06" r="5.8"/><circle cx="213.88" cy="662.75" r="5.8"/><circle cx="214.24" cy="698.29" r="5.8"/><circle cx="214.6" cy="680.52" r="5.8"/><circle cx="214.96" cy="698.29" r="5.8"/><circle cx="215.68" cy="627.21" r="5.8"/><circle cx="216.04" cy="662.75" r="5.8"/><circle cx="216.4" cy="716.06" r="5.8"/><circle cx="216.76" cy="680.52" r="5.8"/><circle cx="217.12" cy="698.29" r="5.8"/><circle cx="217.48" cy="662.75" r="5.8"/><circle cx="217.84" cy="698.29" r="5.8"/><circle cx="218.56" cy="662.75" r="5.8"/><circle cx="218.92" cy="698.29" r="5.8"/><circle cx="219.64" cy="733.83" r="5.8"/><circle cx="220" cy="680.52" r="5.8"/><circle cx="220.36" cy="698.29" r="5.8"/><circle cx="220.72" cy="662.75" r="5.8"/><circle cx="221.08" cy="698.29" r="5.8"/><circle cx="221.44" cy="627.21" r="5.8"/><circle cx="221.8" cy="716.06" r="5.8"/><circle cx="222.16" cy="733.83" r="5.8"/><circle cx="222.52" cy="733.83" r="5.8"/><circle cx="222.88" cy="698.29" r="5.8"/><circle cx="223.6" cy="680.52" r="5.8"/><circle cx="223.96" cy="698.29" r="5.8"/><circle cx="224.32" cy="716.06" r="5.8"/><circle cx="224.68" cy="698.29" r="5.8"/><circle cx="225.04" cy="680.52" r="5.8"/><circle cx="225.76" cy="680.52" r="5.8"/><circle cx="226.12" cy="733.83" r="5.8"/><circle cx="226.48" cy="662.75" r="5.8"/><circle cx="226.84" cy="644.98" r="5.8"/><circle cx="227.2" cy="662.75" r="5.8"/><circle cx="227.56" cy="698.29" r="5.8"/><circle cx="227.92" cy="716.06" r="5.8"/><circle cx="228.64" cy="662.75" r="5.8"/><circle cx="229" cy="698.29" r="5.8"/><circle cx="229.36" cy="716.06" r="5.8"/><circle cx="229.72" cy="716.06" r="5.8"/><circle cx="230.08" cy="662.75" r="5.8"/><circle cx="230.44" cy="698.29" r="5.8"/><circle cx="230.8" cy="733.83" r="5.8"/><circle cx="231.16" cy="680.52" r="5.8"/><circle cx="231.52" cy="662.75" r="5.8"/><circle cx="231.88" cy="644.98" r="5.8"/><circle cx="232.24" cy="680.52" r="5.8"/><circle cx="232.6" cy="716.06" r="5.8"/><circle cx="232.96" cy="680.52" r="5.8"/><circle cx="233.68" cy="716.06" r="5.8"/><circle cx="234.04" cy="733.83" r="5.8"/><circle cx="234.76" cy="698.29" r="5.8"/><circle cx="235.12" cy="680.52" r="5.8"/><circle cx="235.84" cy="698.29" r="5.8"/><circle cx="236.2" cy="716.06" r="5.8"/><circle cx="236.56" cy="698.29" r="5.8"/><circle cx="236.92" cy="680.52" r="5.8"/><circle cx="237.28" cy="662.75" r="5.8"/><circle cx="237.64" cy="751.6" r="5.8"/><circle cx="238.72" cy="751.6" r="5.8"/><circle cx="239.8" cy="751.6" r="5.8"/><circle cx="240.52" cy="751.6" r="5.8"/><circle cx="241.6" cy="751.6" r="5.8"/><circle cx="242.68" cy="751.6" r="5.8"/><circle cx="243.76" cy="751.6" r="5.8"/><circle cx="244.84" cy="751.6" r="5.8"/><circle cx="245.56" cy="751.6" r="5.8"/><circle cx="246.64" cy="751.6" r="5.8"/><circle cx="247.72" cy="751.6" r="5.8"/><circle cx="248.8" cy="751.6" r="5.8"/><circle cx="249.52" cy="751.6" r="5.8"/><circle cx="250.6" cy="751.6" r="5.8"/><circle cx="251.68" cy="751.6" r="5.8"/><circle cx="252.76" cy="751.6" r="5.8"/><circle cx="253.84" cy="751.6" r="5.8"/><circle cx="254.56" cy="751.6" r="5.8"/><circle cx="255.64" cy="751.6" r="5.8"/><circle cx="256.72" cy="751.6" r="5.8"/><circle cx="257.8" cy="751.6" r="5.8"/><circle cx="258.52" cy="751.6" r="5.8"/><circle cx="259.6" cy="751.6" r="5.8"/><circle cx="260.68" cy="751.6" r="5.8"/><circle cx="261.76" cy="751.6" r="5.8"/><circle cx="262.84" cy="751.6" r="5.8"/><circle cx="263.56" cy="751.6" r="5.8"/><circle cx="264.64" cy="751.6" r="5.8"/><circle cx="265.72" cy="751.6" r="5.8"/><circle cx="266.8" cy="751.6" r="5.8"/><circle cx="267.52" cy="751.6" r="5.8"/><circle cx="268.6" cy="751.6" r="5.8"/><circle cx="269.68" cy="751.6" r="5.8"/><circle cx="270.76" cy="751.6" r="5.8"/><circle cx="271.84" cy="751.6" r="5.8"/><circle cx="272.56" cy="751.6" r="5.8"/><circle cx="273.64" cy="751.6" r="5.8"/><circle cx="274.72" cy="751.6" r="5.8"/><circle cx="275.8" cy="751.6" r="5.8"/><circle cx="276.52" cy="751.6" r="5.8"/><circle cx="277.6" cy="751.6" r="5.8"/><circle cx="278.68" cy="751.6" r="5.8"/><circle cx="279.76" cy="751.6" r="5.8"/><circle cx="280.84" cy="751.6" r="5.8"/><circle cx="281.56" cy="751.6" r="5.8"/><circle cx="282.64" cy="751.6" r="5.8"/><circle cx="283.72" cy="751.6" r="5.8"/><circle cx="284.8" cy="751.6" r="5.8"/><circle cx="285.52" cy="751.6" r="5.8"/><circle cx="286.6" cy="751.6" r="5.8"/><circle cx="286.96" cy="698.29" r="5.8"/><circle cx="287.32" cy="716.06" r="5.8"/><circle cx="287.68" cy="662.75" r="5.8"/><circle cx="288.04" cy="716.06" r="5.8"/><circle cx="288.76" cy="733.83" r="5.8"/><circle cx="289.12" cy="680.52" r="5.8"/><circle cx="289.48" cy="644.98" r="5.8"/><circle cx="289.84" cy="627.21" r="5.8"/><circle cx="290.2" cy="698.29" r="5.8"/><circle cx="290.56" cy="698.29" r="5.8"/><circle cx="290.92" cy="733.83" r="5.8"/><circle cx="291.28" cy="680.52" r="5.8"/><circle cx="291.64" cy="662.75" r="5.8"/><circle cx="292" cy="698.29" r="5.8"/><circle cx="292.36" cy="680.52" r="5.8"/><circle cx="292.72" cy="644.98" r="5.8"/><circle cx="293.08" cy="680.52" r="5.8"/><circle cx="293.8" cy="680.52" r="5.8"/><circle cx="294.16" cy="716.06" r="5.8"/><circle cx="294.52" cy="716.06" r="5.8"/><circle cx="294.88" cy="698.29" r="5.8"/><circle cx="295.6" cy="733.83" r="5.8"/><circle cx="295.96" cy="662.75" r="5.8"/><circle cx="296.32" cy="680.52" r="5.8"/><circle cx="296.68" cy="698.29" r="5.8"/><circle cx="297.4" cy="716.06" r="5.8"/><circle cx="297.76" cy="698.29" r="5.8"/><circle cx="298.84" cy="698.29" r="5.8"/><circle cx="299.2" cy="680.52" r="5.8"/><circle cx="299.56" cy="716.06" r="5.8"/><circle cx="299.92" cy="698.29" r="5.8"/><circle cx="300.28" cy="591.67" r="5.8"/><circle cx="300.64" cy="698.29" r="5.8"/><circle cx="301" cy="733.83" r="5.8"/><circle cx="301.36" cy="644.98" r="5.8"/><circle cx="301.72" cy="733.83" r="5.8"/><circle cx="302.08" cy="680.52" r="5.8"/><circle cx="302.8" cy="662.75" r="5.8"/><circle cx="303.16" cy="698.29" r="5.8"/><circle cx="303.52" cy="733.83" r="5.8"/><circle cx="303.88" cy="680.52" r="5.8"/><circle cx="304.6" cy="698.29" r="5.8"/><circle cx="305.68" cy="733.83" r="5.8"/><circle cx="306.04" cy="698.29" r="5.8"/><circle cx="306.76" cy="716.06" r="5.8"/><circle cx="307.12" cy="698.29" r="5.8"/><circle cx="307.84" cy="680.52" r="5.8"/><circle cx="308.2" cy="733.83" r="5.8"/><circle cx="308.56" cy="716.06" r="5.8"/><circle cx="308.92" cy="591.67" r="5.8"/><circle cx="309.64" cy="698.29" r="5.8"/><circle cx="310" cy="680.52" r="5.8"/><circle cx="310.36" cy="716.06" r="5.8"/><circle cx="310.72" cy="716.06" r="5.8"/><circle cx="311.08" cy="644.98" r="5.8"/><circle cx="311.44" cy="698.29" r="5.8"/><circle cx="311.8" cy="716.06" r="5.8"/><circle cx="312.52" cy="662.75" r="5.8"/><circle cx="312.88" cy="733.83" r="5.8"/><circle cx="313.24" cy="698.29" r="5.8"/><circle cx="313.6" cy="716.06" r="5.8"/><circle cx="313.96" cy="680.52" r="5.8"/><circle cx="314.32" cy="662.75" r="5.8"/><circle cx="314.68" cy="716.06" r="5.8"/><circle cx="315.04" cy="627.21" r="5.8"/><circle cx="315.76" cy="716.06" r="5.8"/><circle cx="316.12" cy="698.29" r="5.8"/><circle cx="316.48" cy="680.52" r="5.8"/><circle cx="316.84" cy="698.29" r="5.8"/><circle cx="317.56" cy="716.06" r="5.8"/><circle cx="317.92" cy="733.83" r="5.8"/><circle cx="318.28" cy="644.98" r="5.8"/><circle cx="318.64" cy="662.75" r="5.8"/><circle cx="319" cy="716.06" r="5.8"/><circle cx="319.36" cy="698.29" r="5.8"/><circle cx="319.72" cy="716.06" r="5.8"/><circle cx="320.44" cy="733.83" r="5.8"/><circle cx="320.8" cy="698.29" r="5.8"/><circle cx="321.16" cy="716.06" r="5.8"/><circle cx="321.52" cy="627.21" r="5.8"/><circle cx="321.88" cy="733.83" r="5.8"/><circle cx="322.24" cy="680.52" r="5.8"/><circle cx="322.6" cy="733.83" r="5.8"/><circle cx="322.96" cy="680.52" r="5.8"/><circle cx="323.68" cy="680.52" r="5.8"/><circle cx="324.04" cy="698.29" r="5.8"/><circle cx="324.4" cy="716.06" r="5.8"/><circle cx="324.76" cy="698.29" r="5.8"/><circle cx="325.84" cy="644.98" r="5.8"/><circle cx="326.2" cy="680.52" r="5.8"/><circle cx="326.56" cy="680.52" r="5.8"/><circle cx="326.92" cy="644.98" r="5.8"/><circle cx="327.28" cy="627.21" r="5.8"/><circle cx="327.64" cy="680.52" r="5.8"/><circle cx="328.36" cy="698.29" r="5.8"/><circle cx="328.72" cy="680.52" r="5.8"/><circle cx="329.08" cy="716.06" r="5.8"/><circle cx="329.44" cy="698.29" r="5.8"/><circle cx="329.8" cy="662.75" r="5.8"/><circle cx="330.16" cy="698.29" r="5.8"/><circle cx="330.52" cy="716.06" r="5.8"/><circle cx="330.88" cy="698.29" r="5.8"/><circle cx="331.24" cy="733.83" r="5.8"/><circle cx="331.6" cy="698.29" r="5.8"/><circle cx="331.96" cy="644.98" r="5.8"/><circle cx="332.68" cy="627.21" r="5.8"/><circle cx="333.04" cy="716.06" r="5.8"/><circle cx="333.4" cy="733.83" r="5.8"/><circle cx="333.76" cy="698.29" r="5.8"/><circle cx="334.48" cy="733.83" r="5.8"/><circle cx="334.84" cy="716.06" r="5.8"/><circle cx="335.2" cy="698.29" r="5.8"/><circle cx="335.56" cy="662.75" r="5.8"/><circle cx="335.92" cy="644.98" r="5.8"/><circle cx="336.28" cy="716.06" r="5.8"/><circle cx="336.64" cy="733.83" r="5.8"/><circle cx="337.36" cy="698.29" r="5.8"/><circle cx="337.72" cy="716.06" r="5.8"/><circle cx="338.08" cy="644.98" r="5.8"/><circle cx="338.44" cy="680.52" r="5.8"/><circle cx="338.8" cy="698.29" r="5.8"/><circle cx="339.16" cy="662.75" r="5.8"/><circle cx="339.52" cy="716.06" r="5.8"/><circle cx="339.88" cy="680.52" r="5.8"/><circle cx="340.6" cy="716.06" r="5.8"/><circle cx="340.96" cy="733.83" r="5.8"/><circle cx="341.32" cy="609.44" r="5.8"/><circle cx="341.68" cy="680.52" r="5.8"/><circle cx="342.04" cy="662.75" r="5.8"/><circle cx="342.4" cy="716.06" r="5.8"/><circle cx="342.76" cy="698.29" r="5.8"/><circle cx="343.12" cy="627.21" r="5.8"/><circle cx="343.48" cy="662.75" r="5.8"/><circle cx="343.84" cy="680.52" r="5.8"/><circle cx="344.2" cy="698.29" r="5.8"/><circle cx="344.56" cy="698.29" r="5.8"/><circle cx="344.92" cy="662.75" r="5.8"/><circle cx="345.28" cy="644.98" r="5.8"/><circle cx="345.64" cy="698.29" r="5.8"/><circle cx="346" cy="644.98" r="5.8"/><circle cx="346.36" cy="662.75" r="5.8"/><circle cx="346.72" cy="698.29" r="5.8"/><circle cx="347.8" cy="591.67" r="5.8"/><circle cx="348.16" cy="698.29" r="5.8"/><circle cx="348.52" cy="680.52" r="5.8"/><circle cx="348.88" cy="662.75" r="5.8"/><circle cx="349.24" cy="716.06" r="5.8"/><circle cx="349.6" cy="698.29" r="5.8"/><circle cx="349.96" cy="627.21" r="5.8"/><circle cx="350.68" cy="662.75" r="5.8"/><circle cx="351.04" cy="680.52" r="5.8"/><circle cx="351.76" cy="680.52" r="5.8"/><circle cx="352.12" cy="662.75" r="5.8"/><circle cx="352.84" cy="680.52" r="5.8"/><circle cx="353.56" cy="751.6" r="5.8"/><circle cx="353.92" cy="680.52" r="5.8"/><circle cx="354.28" cy="716.06" r="5.8"/><circle cx="354.64" cy="680.52" r="5.8"/><circle cx="355" cy="733.83" r="5.8"/><circle cx="355.36" cy="698.29" r="5.8"/><circle cx="355.72" cy="733.83" r="5.8"/><circle cx="356.08" cy="680.52" r="5.8"/><circle cx="356.44" cy="698.29" r="5.8"/><circle cx="356.8" cy="644.98" r="5.8"/><circle cx="357.16" cy="751.6" r="5.8"/><circle cx="357.52" cy="680.52" r="5.8"/><circle cx="357.88" cy="716.06" r="5.8"/><circle cx="358.24" cy="698.29" r="5.8"/><circle cx="358.6" cy="698.29" r="5.8"/><circle cx="358.96" cy="716.06" r="5.8"/><circle cx="359.68" cy="733.83" r="5.8"/><circle cx="360.04" cy="698.29" r="5.8"/><circle cx="360.76" cy="751.6" r="5.8"/><circle cx="361.12" cy="680.52" r="5.8"/><circle cx="361.48" cy="733.83" r="5.8"/><circle cx="361.84" cy="698.29" r="5.8"/><circle cx="362.2" cy="733.83" r="5.8"/><circle cx="362.56" cy="733.83" r="5.8"/><circle cx="362.92" cy="644.98" r="5.8"/><circle cx="363.28" cy="698.29" r="5.8"/><circle cx="363.64" cy="698.29" r="5.8"/><circle cx="364" cy="716.06" r="5.8"/><circle cx="364.72" cy="698.29" r="5.8"/><circle cx="365.44" cy="716.06" r="5.8"/><circle cx="365.8" cy="716.06" r="5.8"/><circle cx="366.16" cy="662.75" r="5.8"/><circle cx="366.52" cy="680.52" r="5.8"/><circle cx="366.88" cy="716.06" r="5.8"/><circle cx="367.24" cy="698.29" r="5.8"/><circle cx="367.6" cy="680.52" r="5.8"/><circle cx="367.96" cy="644.98" r="5.8"/><circle cx="368.32" cy="733.83" r="5.8"/><circle cx="368.68" cy="609.44" r="5.8"/><circle cx="369.04" cy="698.29" r="5.8"/><circle cx="369.4" cy="751.6" r="5.8"/><circle cx="369.76" cy="662.75" r="5.8"/><circle cx="370.12" cy="716.06" r="5.8"/><circle cx="370.48" cy="733.83" r="5.8"/><circle cx="370.84" cy="680.52" r="5.8"/><circle cx="371.56" cy="698.29" r="5.8"/><circle cx="371.92" cy="716.06" r="5.8"/><circle cx="372.28" cy="644.98" r="5.8"/><circle cx="372.64" cy="591.67" r="5.8"/><circle cx="373" cy="698.29" r="5.8"/><circle cx="373.36" cy="680.52" r="5.8"/><circle cx="373.72" cy="662.75" r="5.8"/><circle cx="374.08" cy="698.29" r="5.8"/><circle cx="374.44" cy="627.21" r="5.8"/><circle cx="374.8" cy="662.75" r="5.8"/><circle cx="375.16" cy="698.29" r="5.8"/><circle cx="375.52" cy="733.83" r="5.8"/><circle cx="375.88" cy="698.29" r="5.8"/><circle cx="376.24" cy="662.75" r="5.8"/><circle cx="376.6" cy="698.29" r="5.8"/><circle cx="376.96" cy="644.98" r="5.8"/><circle cx="377.68" cy="698.29" r="5.8"/><circle cx="378.04" cy="716.06" r="5.8"/><circle cx="378.4" cy="680.52" r="5.8"/><circle cx="378.76" cy="680.52" r="5.8"/><circle cx="379.12" cy="662.75" r="5.8"/><circle cx="379.84" cy="751.6" r="5.8"/><circle cx="380.2" cy="680.52" r="5.8"/><circle cx="380.56" cy="698.29" r="5.8"/><circle cx="380.92" cy="662.75" r="5.8"/><circle cx="381.64" cy="698.29" r="5.8"/><circle cx="382" cy="716.06" r="5.8"/><circle cx="382.72" cy="662.75" r="5.8"/><circle cx="383.08" cy="680.52" r="5.8"/><circle cx="383.44" cy="698.29" r="5.8"/><circle cx="383.8" cy="680.52" r="5.8"/><circle cx="384.16" cy="751.6" r="5.8"/><circle cx="384.52" cy="698.29" r="5.8"/><circle cx="384.88" cy="716.06" r="5.8"/><circle cx="385.6" cy="680.52" r="5.8"/><circle cx="385.96" cy="698.29" r="5.8"/><circle cx="386.68" cy="662.75" r="5.8"/><circle cx="387.04" cy="733.83" r="5.8"/><circle cx="387.4" cy="698.29" r="5.8"/><circle cx="387.76" cy="733.83" r="5.8"/><circle cx="388.12" cy="751.6" r="5.8"/><circle cx="388.48" cy="627.21" r="5.8"/><circle cx="388.84" cy="698.29" r="5.8"/><circle cx="389.56" cy="698.29" r="5.8"/><circle cx="390.64" cy="716.06" r="5.8"/><circle cx="391.72" cy="680.52" r="5.8"/><circle cx="392.08" cy="751.6" r="5.8"/><circle cx="392.44" cy="662.75" r="5.8"/><circle cx="392.8" cy="680.52" r="5.8"/><circle cx="393.16" cy="716.06" r="5.8"/><circle cx="393.52" cy="733.83" r="5.8"/><circle cx="393.88" cy="662.75" r="5.8"/><circle cx="394.24" cy="680.52" r="5.8"/><circle cx="394.6" cy="716.06" r="5.8"/><circle cx="395.32" cy="733.83" r="5.8"/><circle cx="395.68" cy="716.06" r="5.8"/><circle cx="396.04" cy="680.52" r="5.8"/><circle cx="396.4" cy="733.83" r="5.8"/><circle cx="396.76" cy="733.83" r="5.8"/><circle cx="397.12" cy="698.29" r="5.8"/><circle cx="397.48" cy="662.75" r="5.8"/><circle cx="397.84" cy="680.52" r="5.8"/><circle cx="398.2" cy="662.75" r="5.8"/><circle cx="398.56" cy="680.52" r="5.8"/><circle cx="398.92" cy="716.06" r="5.8"/><circle cx="399.28" cy="698.29" r="5.8"/><circle cx="399.64" cy="680.52" r="5.8"/><circle cx="400" cy="662.75" r="5.8"/><circle cx="400.36" cy="716.06" r="5.8"/><circle cx="400.72" cy="662.75" r="5.8"/><circle cx="401.44" cy="698.29" r="5.8"/><circle cx="401.8" cy="644.98" r="5.8"/><circle cx="402.16" cy="698.29" r="5.8"/><circle cx="402.52" cy="644.98" r="5.8"/><circle cx="402.88" cy="698.29" r="5.8"/><circle cx="403.24" cy="662.75" r="5.8"/><circle cx="403.6" cy="698.29" r="5.8"/><circle cx="404.32" cy="680.52" r="5.8"/><circle cx="404.68" cy="716.06" r="5.8"/><circle cx="405.04" cy="733.83" r="5.8"/><circle cx="405.76" cy="733.83" r="5.8"/><circle cx="406.48" cy="680.52" r="5.8"/><circle cx="406.84" cy="733.83" r="5.8"/><circle cx="407.2" cy="716.06" r="5.8"/><circle cx="407.56" cy="716.06" r="5.8"/><circle cx="407.92" cy="680.52" r="5.8"/><circle cx="408.64" cy="680.52" r="5.8"/><circle cx="409" cy="644.98" r="5.8"/><circle cx="409.36" cy="698.29" r="5.8"/><circle cx="409.72" cy="716.06" r="5.8"/><circle cx="410.08" cy="698.29" r="5.8"/><circle cx="410.44" cy="609.44" r="5.8"/><circle cx="410.8" cy="733.83" r="5.8"/><circle cx="411.16" cy="644.98" r="5.8"/><circle cx="411.52" cy="698.29" r="5.8"/><circle cx="412.24" cy="680.52" r="5.8"/><circle cx="412.6" cy="662.75" r="5.8"/><circle cx="412.96" cy="680.52" r="5.8"/><circle cx="413.68" cy="698.29" r="5.8"/><circle cx="414.04" cy="662.75" r="5.8"/><circle cx="414.4" cy="644.98" r="5.8"/><circle cx="414.76" cy="680.52" r="5.8"/><circle cx="415.12" cy="662.75" r="5.8"/><circle cx="415.84" cy="680.52" r="5.8"/><circle cx="416.2" cy="662.75" r="5.8"/><circle cx="416.56" cy="698.29" r="5.8"/><circle cx="416.92" cy="680.52" r="5.8"/><circle cx="417.64" cy="716.06" r="5.8"/><circle cx="418" cy="698.29" r="5.8"/><circle cx="418.72" cy="733.83" r="5.8"/><circle cx="419.08" cy="716.06" r="5.8"/><circle cx="419.44" cy="609.44" r="5.8"/><circle cx="419.8" cy="680.52" r="5.8"/><circle cx="420.16" cy="662.75" r="5.8"/><circle cx="420.52" cy="716.06" r="5.8"/><circle cx="420.88" cy="733.83" r="5.8"/><circle cx="421.6" cy="698.29" r="5.8"/><circle cx="421.96" cy="662.75" r="5.8"/><circle cx="422.68" cy="662.75" r="5.8"/><circle cx="423.04" cy="698.29" r="5.8"/><circle cx="423.4" cy="680.52" r="5.8"/><circle cx="423.76" cy="716.06" r="5.8"/><circle cx="424.12" cy="698.29" r="5.8"/><circle cx="424.84" cy="680.52" r="5.8"/><circle cx="425.2" cy="733.83" r="5.8"/><circle cx="425.56" cy="698.29" r="5.8"/><circle cx="426.64" cy="716.06" r="5.8"/><circle cx="427" cy="698.29" r="5.8"/><circle cx="427.36" cy="644.98" r="5.8"/><circle cx="427.72" cy="609.44" r="5.8"/><circle cx="428.08" cy="662.75" r="5.8"/><circle cx="428.44" cy="733.83" r="5.8"/><circle cx="428.8" cy="733.83" r="5.8"/><circle cx="429.16" cy="698.29" r="5.8"/><circle cx="429.52" cy="644.98" r="5.8"/><circle cx="429.88" cy="680.52" r="5.8"/><circle cx="430.6" cy="733.83" r="5.8"/><circle cx="430.96" cy="698.29" r="5.8"/><circle cx="431.68" cy="680.52" r="5.8"/><circle cx="432.04" cy="716.06" r="5.8"/><circle cx="432.76" cy="716.06" r="5.8"/><circle cx="433.12" cy="680.52" r="5.8"/><circle cx="433.48" cy="698.29" r="5.8"/><circle cx="433.84" cy="733.83" r="5.8"/><circle cx="434.56" cy="733.83" r="5.8"/><circle cx="434.92" cy="698.29" r="5.8"/><circle cx="435.64" cy="716.06" r="5.8"/><circle cx="436" cy="680.52" r="5.8"/><circle cx="436.36" cy="698.29" r="5.8"/><circle cx="436.72" cy="698.29" r="5.8"/><circle cx="437.08" cy="716.06" r="5.8"/><circle cx="437.44" cy="751.6" r="5.8"/><circle cx="437.8" cy="716.06" r="5.8"/><circle cx="438.52" cy="662.75" r="5.8"/><circle cx="438.88" cy="733.83" r="5.8"/><circle cx="439.6" cy="698.29" r="5.8"/><circle cx="440.68" cy="680.52" r="5.8"/><circle cx="441.04" cy="716.06" r="5.8"/><circle cx="441.4" cy="662.75" r="5.8"/><circle cx="441.76" cy="716.06" r="5.8"/><circle cx="442.48" cy="680.52" r="5.8"/><circle cx="442.84" cy="733.83" r="5.8"/><circle cx="443.2" cy="716.06" r="5.8"/><circle cx="443.56" cy="644.98" r="5.8"/><circle cx="443.92" cy="680.52" r="5.8"/><circle cx="444.28" cy="698.29" r="5.8"/><circle cx="444.64" cy="680.52" r="5.8"/><circle cx="445.72" cy="680.52" r="5.8"/><circle cx="446.08" cy="716.06" r="5.8"/><circle cx="446.8" cy="662.75" r="5.8"/><circle cx="447.16" cy="716.06" r="5.8"/><circle cx="447.52" cy="716.06" r="5.8"/><circle cx="447.88" cy="733.83" r="5.8"/><circle cx="448.6" cy="680.52" r="5.8"/><circle cx="449.32" cy="644.98" r="5.8"/><circle cx="449.68" cy="698.29" r="5.8"/><circle cx="450.04" cy="680.52" r="5.8"/><circle cx="450.76" cy="698.29" r="5.8"/><circle cx="451.48" cy="716.06" r="5.8"/><circle cx="451.84" cy="698.29" r="5.8"/><circle cx="452.2" cy="591.67" r="5.8"/><circle cx="452.56" cy="680.52" r="5.8"/><circle cx="452.92" cy="698.29" r="5.8"/><circle cx="453.64" cy="698.29" r="5.8"/><circle cx="454" cy="662.75" r="5.8"/><circle cx="454.36" cy="733.83" r="5.8"/><circle cx="454.72" cy="716.06" r="5.8"/><circle cx="455.08" cy="627.21" r="5.8"/><circle cx="455.44" cy="698.29" r="5.8"/><circle cx="455.8" cy="698.29" r="5.8"/><circle cx="456.52" cy="698.29" r="5.8"/><circle cx="456.88" cy="680.52" r="5.8"/><circle cx="457.24" cy="733.83" r="5.8"/><circle cx="457.6" cy="680.52" r="5.8"/><circle cx="458.68" cy="680.52" r="5.8"/><circle cx="459.4" cy="698.29" r="5.8"/><circle cx="459.76" cy="698.29" r="5.8"/><circle cx="460.12" cy="716.06" r="5.8"/><circle cx="460.84" cy="698.29" r="5.8"/><circle cx="461.2" cy="644.98" r="5.8"/><circle cx="461.56" cy="627.21" r="5.8"/><circle cx="461.92" cy="680.52" r="5.8"/><circle cx="462.28" cy="716.06" r="5.8"/><circle cx="462.64" cy="662.75" r="5.8"/><circle cx="463" cy="698.29" r="5.8"/><circle cx="463.72" cy="698.29" r="5.8"/><circle cx="464.44" cy="733.83" r="5.8"/><circle cx="464.8" cy="609.44" r="5.8"/><circle cx="465.16" cy="698.29" r="5.8"/><circle cx="465.52" cy="662.75" r="5.8"/><circle cx="465.88" cy="716.06" r="5.8"/><circle cx="466.6" cy="680.52" r="5.8"/><circle cx="466.96" cy="698.29" r="5.8"/><circle cx="467.32" cy="662.75" r="5.8"/><circle cx="467.68" cy="733.83" r="5.8"/><circle cx="468.04" cy="698.29" r="5.8"/><circle cx="468.4" cy="662.75" r="5.8"/><circle cx="468.76" cy="716.06" r="5.8"/><circle cx="469.48" cy="698.29" r="5.8"/><circle cx="469.84" cy="644.98" r="5.8"/><circle cx="470.2" cy="698.29" r="5.8"/><circle cx="470.56" cy="627.21" r="5.8"/><circle cx="470.92" cy="716.06" r="5.8"/><circle cx="471.28" cy="662.75" r="5.8"/><circle cx="471.64" cy="662.75" r="5.8"/><circle cx="472" cy="716.06" r="5.8"/><circle cx="472.72" cy="716.06" r="5.8"/><circle cx="473.08" cy="733.83" r="5.8"/><circle cx="473.44" cy="698.29" r="5.8"/><circle cx="473.8" cy="698.29" r="5.8"/><circle cx="474.16" cy="733.83" r="5.8"/><circle cx="474.52" cy="609.44" r="5.8"/><circle cx="474.88" cy="680.52" r="5.8"/><circle cx="475.6" cy="644.98" r="5.8"/><circle cx="475.96" cy="716.06" r="5.8"/><circle cx="476.32" cy="680.52" r="5.8"/><circle cx="476.68" cy="716.06" r="5.8"/><circle cx="477.04" cy="662.75" r="5.8"/><circle cx="477.4" cy="698.29" r="5.8"/><circle cx="477.76" cy="680.52" r="5.8"/><circle cx="478.12" cy="733.83" r="5.8"/><circle cx="478.48" cy="698.29" r="5.8"/><circle cx="478.84" cy="716.06" r="5.8"/><circle cx="479.2" cy="698.29" r="5.8"/><circle cx="479.56" cy="733.83" r="5.8"/><circle cx="479.92" cy="698.29" r="5.8"/><circle cx="480.64" cy="662.75" r="5.8"/><circle cx="481" cy="644.98" r="5.8"/><circle cx="481.36" cy="716.06" r="5.8"/><circle cx="481.72" cy="662.75" r="5.8"/><circle cx="482.44" cy="698.29" r="5.8"/><circle cx="482.8" cy="627.21" r="5.8"/><circle cx="483.16" cy="698.29" r="5.8"/><circle cx="483.52" cy="716.06" r="5.8"/><circle cx="483.88" cy="751.6" r="5.8"/><circle cx="484.24" cy="662.75" r="5.8"/><circle cx="484.6" cy="698.29" r="5.8"/><circle cx="484.96" cy="716.06" r="5.8"/><circle cx="485.32" cy="662.75" r="5.8"/><circle cx="485.68" cy="698.29" r="5.8"/><circle cx="486.4" cy="733.83" r="5.8"/><circle cx="486.76" cy="662.75" r="5.8"/><circle cx="487.12" cy="698.29" r="5.8"/><circle cx="487.84" cy="680.52" r="5.8"/><circle cx="488.2" cy="662.75" r="5.8"/><circle cx="488.56" cy="716.06" r="5.8"/><circle cx="489.28" cy="698.29" r="5.8"/><circle cx="489.64" cy="627.21" r="5.8"/><circle cx="490" cy="644.98" r="5.8"/><circle cx="490.36" cy="733.83" r="5.8"/><circle cx="490.72" cy="680.52" r="5.8"/><circle cx="491.08" cy="733.83" r="5.8"/><circle cx="491.8" cy="716.06" r="5.8"/><circle cx="492.52" cy="662.75" r="5.8"/><circle cx="492.88" cy="716.06" r="5.8"/><circle cx="493.24" cy="680.52" r="5.8"/><circle cx="493.6" cy="716.06" r="5.8"/><circle cx="493.96" cy="662.75" r="5.8"/><circle cx="494.32" cy="698.29" r="5.8"/><circle cx="494.68" cy="698.29" r="5.8"/><circle cx="495.76" cy="733.83" r="5.8"/><circle cx="496.12" cy="662.75" r="5.8"/><circle cx="496.48" cy="644.98" r="5.8"/><circle cx="496.84" cy="680.52" r="5.8"/><circle cx="497.2" cy="698.29" r="5.8"/><circle cx="497.56" cy="662.75" r="5.8"/><circle cx="497.92" cy="680.52" r="5.8"/><circle cx="498.64" cy="733.83" r="5.8"/><circle cx="499" cy="680.52" r="5.8"/><circle cx="499.72" cy="680.52" r="5.8"/><circle cx="500.08" cy="733.83" r="5.8"/><circle cx="500.8" cy="680.52" r="5.8"/><circle cx="501.16" cy="698.29" r="5.8"/><circle cx="501.52" cy="716.06" r="5.8"/><circle cx="501.88" cy="662.75" r="5.8"/><circle cx="502.6" cy="716.06" r="5.8"/><circle cx="502.96" cy="733.83" r="5.8"/><circle cx="503.68" cy="609.44" r="5.8"/><circle cx="504.04" cy="698.29" r="5.8"/><circle cx="504.4" cy="733.83" r="5.8"/><circle cx="504.76" cy="680.52" r="5.8"/><circle cx="505.12" cy="733.83" r="5.8"/><circle cx="505.48" cy="662.75" r="5.8"/><circle cx="505.84" cy="716.06" r="5.8"/><circle cx="506.2" cy="698.29" r="5.8"/><circle cx="506.56" cy="733.83" r="5.8"/><circle cx="506.92" cy="644.98" r="5.8"/><circle cx="507.28" cy="627.21" r="5.8"/><circle cx="507.64" cy="733.83" r="5.8"/><circle cx="508" cy="698.29" r="5.8"/><circle cx="508.36" cy="716.06" r="5.8"/><circle cx="508.72" cy="662.75" r="5.8"/><circle cx="509.08" cy="716.06" r="5.8"/><circle cx="509.44" cy="698.29" r="5.8"/><circle cx="509.8" cy="698.29" r="5.8"/><circle cx="510.16" cy="680.52" r="5.8"/><circle cx="510.52" cy="680.52" r="5.8"/><circle cx="510.88" cy="716.06" r="5.8"/><circle cx="511.24" cy="662.75" r="5.8"/><circle cx="511.6" cy="698.29" r="5.8"/><circle cx="511.96" cy="733.83" r="5.8"/><circle cx="512.68" cy="698.29" r="5.8"/><circle cx="513.4" cy="680.52" r="5.8"/><circle cx="513.76" cy="662.75" r="5.8"/><circle cx="514.12" cy="733.83" r="5.8"/><circle cx="514.48" cy="698.29" r="5.8"/><circle cx="514.84" cy="733.83" r="5.8"/><circle cx="515.56" cy="698.29" r="5.8"/><circle cx="515.92" cy="627.21" r="5.8"/><circle cx="516.28" cy="680.52" r="5.8"/><circle cx="516.64" cy="662.75" r="5.8"/><circle cx="517" cy="716.06" r="5.8"/><circle cx="517.36" cy="733.83" r="5.8"/><circle cx="517.72" cy="573.9" r="5.8"/><circle cx="518.08" cy="698.29" r="5.8"/><circle cx="518.44" cy="662.75" r="5.8"/><circle cx="518.8" cy="609.44" r="5.8"/><circle cx="519.16" cy="698.29" r="5.8"/><circle cx="519.52" cy="716.06" r="5.8"/><circle cx="520.24" cy="698.29" r="5.8"/><circle cx="520.6" cy="716.06" r="5.8"/><circle cx="520.96" cy="733.83" r="5.8"/><circle cx="521.32" cy="644.98" r="5.8"/><circle cx="521.68" cy="662.75" r="5.8"/><circle cx="522.04" cy="698.29" r="5.8"/><circle cx="522.4" cy="716.06" r="5.8"/><circle cx="522.76" cy="680.52" r="5.8"/><circle cx="523.12" cy="662.75" r="5.8"/><circle cx="523.48" cy="698.29" r="5.8"/><circle cx="523.84" cy="716.06" r="5.8"/><circle cx="524.2" cy="644.98" r="5.8"/><circle cx="524.56" cy="627.21" r="5.8"/><circle cx="524.92" cy="733.83" r="5.8"/><circle cx="525.28" cy="662.75" r="5.8"/><circle cx="525.64" cy="716.06" r="5.8"/><circle cx="526" cy="698.29" r="5.8"/><circle cx="526.36" cy="680.52" r="5.8"/><circle cx="526.72" cy="644.98" r="5.8"/><circle cx="527.08" cy="733.83" r="5.8"/><circle cx="527.44" cy="680.52" r="5.8"/><circle cx="527.8" cy="680.52" r="5.8"/><circle cx="528.16" cy="751.6" r="5.8"/><circle cx="528.52" cy="680.52" r="5.8"/><circle cx="528.88" cy="662.75" r="5.8"/><circle cx="529.6" cy="716.06" r="5.8"/><circle cx="529.96" cy="698.29" r="5.8"/><circle cx="530.68" cy="698.29" r="5.8"/><circle cx="531.04" cy="662.75" r="5.8"/><circle cx="531.4" cy="716.06" r="5.8"/><circle cx="531.76" cy="733.83" r="5.8"/><circle cx="532.12" cy="680.52" r="5.8"/><circle cx="532.48" cy="716.06" r="5.8"/><circle cx="532.84" cy="716.06" r="5.8"/><circle cx="533.56" cy="716.06" r="5.8"/><circle cx="533.92" cy="698.29" r="5.8"/><circle cx="534.64" cy="662.75" r="5.8"/><circle cx="535" cy="733.83" r="5.8"/><circle cx="535.72" cy="662.75" r="5.8"/><circle cx="536.08" cy="698.29" r="5.8"/><circle cx="536.8" cy="680.52" r="5.8"/><circle cx="537.16" cy="733.83" r="5.8"/><circle cx="537.52" cy="662.75" r="5.8"/><circle cx="537.88" cy="680.52" r="5.8"/><circle cx="538.6" cy="662.75" r="5.8"/><circle cx="538.96" cy="716.06" r="5.8"/><circle cx="539.32" cy="733.83" r="5.8"/><circle cx="539.68" cy="698.29" r="5.8"/><circle cx="540.04" cy="716.06" r="5.8"/><circle cx="540.76" cy="698.29" r="5.8"/><circle cx="541.12" cy="662.75" r="5.8"/><circle cx="541.84" cy="680.52" r="5.8"/><circle cx="542.2" cy="716.06" r="5.8"/><circle cx="542.56" cy="698.29" r="5.8"/><circle cx="543.28" cy="716.06" r="5.8"/><circle cx="543.64" cy="698.29" r="5.8"/><circle cx="544" cy="680.52" r="5.8"/><circle cx="544.72" cy="698.29" r="5.8"/><circle cx="545.08" cy="680.52" r="5.8"/><circle cx="545.44" cy="716.06" r="5.8"/><circle cx="545.8" cy="680.52" r="5.8"/><circle cx="546.16" cy="644.98" r="5.8"/><circle cx="546.52" cy="698.29" r="5.8"/><circle cx="546.88" cy="680.52" r="5.8"/><circle cx="547.24" cy="662.75" r="5.8"/><circle cx="547.6" cy="680.52" r="5.8"/><circle cx="547.96" cy="716.06" r="5.8"/><circle cx="548.32" cy="698.29" r="5.8"/><circle cx="548.68" cy="662.75" r="5.8"/><circle cx="549.04" cy="680.52" r="5.8"/><circle cx="549.4" cy="716.06" r="5.8"/><circle cx="549.76" cy="698.29" r="5.8"/><circle cx="550.12" cy="716.06" r="5.8"/><circle cx="550.84" cy="627.21" r="5.8"/><circle cx="551.2" cy="662.75" r="5.8"/><circle cx="551.56" cy="733.83" r="5.8"/><circle cx="551.92" cy="716.06" r="5.8"/><circle cx="552.28" cy="698.29" r="5.8"/><circle cx="552.64" cy="662.75" r="5.8"/><circle cx="553" cy="733.83" r="5.8"/><circle cx="553.36" cy="680.52" r="5.8"/><circle cx="553.72" cy="751.6" r="5.8"/><circle cx="554.8" cy="751.6" r="5.8"/><circle cx="555.52" cy="751.6" r="5.8"/><circle cx="556.6" cy="751.6" r="5.8"/><circle cx="557.68" cy="751.6" r="5.8"/><circle cx="558.76" cy="751.6" r="5.8"/><circle cx="559.84" cy="751.6" r="5.8"/><circle cx="560.56" cy="751.6" r="5.8"/><circle cx="561.64" cy="751.6" r="5.8"/><circle cx="562.72" cy="751.6" r="5.8"/><circle cx="563.8" cy="751.6" r="5.8"/><circle cx="564.52" cy="751.6" r="5.8"/><circle cx="565.6" cy="751.6" r="5.8"/><circle cx="566.68" cy="751.6" r="5.8"/><circle cx="567.76" cy="751.6" r="5.8"/><circle cx="568.84" cy="751.6" r="5.8"/><circle cx="569.56" cy="751.6" r="5.8"/><circle cx="570.64" cy="751.6" r="5.8"/><circle cx="571.72" cy="733.83" r="5.8"/><circle cx="572.44" cy="698.29" r="5.8"/><circle cx="572.8" cy="716.06" r="5.8"/><circle cx="573.16" cy="680.52" r="5.8"/><circle cx="573.52" cy="733.83" r="5.8"/><circle cx="573.88" cy="698.29" r="5.8"/><circle cx="574.6" cy="680.52" r="5.8"/><circle cx="574.96" cy="716.06" r="5.8"/><circle cx="575.68" cy="680.52" r="5.8"/><circle cx="576.04" cy="662.75" r="5.8"/><circle cx="576.76" cy="662.75" r="5.8"/><circle cx="577.12" cy="644.98" r="5.8"/><circle cx="577.48" cy="680.52" r="5.8"/><circle cx="577.84" cy="698.29" r="5.8"/><circle cx="578.56" cy="698.29" r="5.8"/><circle cx="578.92" cy="627.21" r="5.8"/><circle cx="579.64" cy="680.52" r="5.8"/><circle cx="580" cy="716.06" r="5.8"/><circle cx="580.72" cy="644.98" r="5.8"/><circle cx="581.08" cy="733.83" r="5.8"/><circle cx="581.8" cy="698.29" r="5.8"/><circle cx="582.52" cy="662.75" r="5.8"/><circle cx="582.88" cy="698.29" r="5.8"/><circle cx="583.6" cy="680.52" r="5.8"/><circle cx="584.32" cy="644.98" r="5.8"/><circle cx="584.68" cy="680.52" r="5.8"/><circle cx="585.04" cy="644.98" r="5.8"/><circle cx="585.4" cy="716.06" r="5.8"/><circle cx="585.76" cy="627.21" r="5.8"/><circle cx="586.12" cy="680.52" r="5.8"/><circle cx="586.48" cy="698.29" r="5.8"/><circle cx="586.84" cy="733.83" r="5.8"/><circle cx="587.56" cy="733.83" r="5.8"/><circle cx="587.92" cy="698.29" r="5.8"/><circle cx="588.64" cy="716.06" r="5.8"/><circle cx="589" cy="680.52" r="5.8"/><circle cx="589.36" cy="662.75" r="5.8"/><circle cx="589.72" cy="698.29" r="5.8"/><circle cx="590.08" cy="680.52" r="5.8"/><circle cx="590.44" cy="733.83" r="5.8"/><circle cx="590.8" cy="662.75" r="5.8"/><circle cx="591.16" cy="716.06" r="5.8"/><circle cx="591.52" cy="698.29" r="5.8"/><circle cx="591.88" cy="733.83" r="5.8"/><circle cx="592.24" cy="680.52" r="5.8"/><circle cx="592.6" cy="662.75" r="5.8"/><circle cx="592.96" cy="733.83" r="5.8"/><circle cx="593.32" cy="698.29" r="5.8"/><circle cx="593.68" cy="716.06" r="5.8"/><circle cx="594.04" cy="680.52" r="5.8"/><circle cx="594.4" cy="698.29" r="5.8"/><circle cx="594.76" cy="698.29" r="5.8"/><circle cx="595.12" cy="680.52" r="5.8"/><circle cx="595.48" cy="733.83" r="5.8"/><circle cx="595.84" cy="716.06" r="5.8"/><circle cx="596.2" cy="680.52" r="5.8"/><circle cx="596.56" cy="716.06" r="5.8"/><circle cx="597.28" cy="698.29" r="5.8"/><circle cx="597.64" cy="733.83" r="5.8"/><circle cx="598" cy="698.29" r="5.8"/><circle cx="598.72" cy="716.06" r="5.8"/><circle cx="599.08" cy="662.75" r="5.8"/><circle cx="599.44" cy="680.52" r="5.8"/><circle cx="599.8" cy="627.21" r="5.8"/><circle cx="600.16" cy="716.06" r="5.8"/><circle cx="600.52" cy="662.75" r="5.8"/><circle cx="600.88" cy="698.29" r="5.8"/><circle cx="601.24" cy="733.83" r="5.8"/><circle cx="601.6" cy="662.75" r="5.8"/><circle cx="601.96" cy="680.52" r="5.8"/><circle cx="602.32" cy="716.06" r="5.8"/><circle cx="602.68" cy="716.06" r="5.8"/><circle cx="603.4" cy="733.83" r="5.8"/><circle cx="603.76" cy="698.29" r="5.8"/><circle cx="604.12" cy="680.52" r="5.8"/><circle cx="604.84" cy="698.29" r="5.8"/><circle cx="605.2" cy="644.98" r="5.8"/><circle cx="605.56" cy="680.52" r="5.8"/><circle cx="606.28" cy="662.75" r="5.8"/><circle cx="606.64" cy="662.75" r="5.8"/><circle cx="607.36" cy="698.29" r="5.8"/><circle cx="607.72" cy="716.06" r="5.8"/><circle cx="608.44" cy="662.75" r="5.8"/><circle cx="608.8" cy="716.06" r="5.8"/><circle cx="609.16" cy="662.75" r="5.8"/><circle cx="609.52" cy="680.52" r="5.8"/><circle cx="609.88" cy="698.29" r="5.8"/><circle cx="610.24" cy="733.83" r="5.8"/><circle cx="610.6" cy="698.29" r="5.8"/><circle cx="611.68" cy="644.98" r="5.8"/><circle cx="612.04" cy="680.52" r="5.8"/><circle cx="612.76" cy="716.06" r="5.8"/><circle cx="613.12" cy="751.6" r="5.8"/><circle cx="613.84" cy="751.6" r="5.8"/><circle cx="614.56" cy="751.6" r="5.8"/><circle cx="615.64" cy="751.6" r="5.8"/><circle cx="616.72" cy="751.6" r="5.8"/><circle cx="617.8" cy="751.6" r="5.8"/><circle cx="618.52" cy="751.6" r="5.8"/><circle cx="619.6" cy="751.6" r="5.8"/><circle cx="620.68" cy="751.6" r="5.8"/><circle cx="621.76" cy="751.6" r="5.8"/><circle cx="622.84" cy="751.6" r="5.8"/><circle cx="623.56" cy="751.6" r="5.8"/><circle cx="624.64" cy="751.6" r="5.8"/><circle cx="625.72" cy="751.6" r="5.8"/><circle cx="626.8" cy="751.6" r="5.8"/><circle cx="627.52" cy="751.6" r="5.8"/><circle cx="628.6" cy="751.6" r="5.8"/><circle cx="629.68" cy="751.6" r="5.8"/><circle cx="630.76" cy="751.6" r="5.8"/><circle cx="631.84" cy="751.6" r="5.8"/><circle cx="632.56" cy="751.6" r="5.8"/><circle cx="633.64" cy="751.6" r="5.8"/><circle cx="634.72" cy="751.6" r="5.8"/><circle cx="635.8" cy="751.6" r="5.8"/><circle cx="636.52" cy="751.6" r="5.8"/><circle cx="637.6" cy="751.6" r="5.8"/><circle cx="638.68" cy="751.6" r="5.8"/><circle cx="639.76" cy="751.6" r="5.8"/><circle cx="640.84" cy="751.6" r="5.8"/><circle cx="641.56" cy="751.6" r="5.8"/><circle cx="642.64" cy="751.6" r="5.8"/><circle cx="643.72" cy="751.6" r="5.8"/><circle cx="644.8" cy="751.6" r="5.8"/><circle cx="645.52" cy="751.6" r="5.8"/><circle cx="646.6" cy="751.6" r="5.8"/><circle cx="647.68" cy="751.6" r="5.8"/><circle cx="648.76" cy="751.6" r="5.8"/><circle cx="649.84" cy="751.6" r="5.8"/><circle cx="650.56" cy="751.6" r="5.8"/><circle cx="651.64" cy="751.6" r="5.8"/><circle cx="652.72" cy="751.6" r="5.8"/><circle cx="653.8" cy="751.6" r="5.8"/><circle cx="654.52" cy="751.6" r="5.8"/><circle cx="655.6" cy="751.6" r="5.8"/><circle cx="656.68" cy="751.6" r="5.8"/><circle cx="657.76" cy="751.6" r="5.8"/><circle cx="658.84" cy="751.6" r="5.8"/><circle cx="659.56" cy="751.6" r="5.8"/><circle cx="660.64" cy="751.6" r="5.8"/><circle cx="661.72" cy="751.6" r="5.8"/><circle cx="662.8" cy="751.6" r="5.8"/><circle cx="663.52" cy="751.6" r="5.8"/><circle cx="664.6" cy="751.6" r="5.8"/><circle cx="665.68" cy="751.6" r="5.8"/><circle cx="666.76" cy="751.6" r="5.8"/><circle cx="667.84" cy="751.6" r="5.8"/><circle cx="668.56" cy="751.6" r="5.8"/><circle cx="669.64" cy="751.6" r="5.8"/><circle cx="670.36" cy="680.52" r="5.8"/><circle cx="670.72" cy="733.83" r="5.8"/><circle cx="671.08" cy="680.52" r="5.8"/><circle cx="671.8" cy="680.52" r="5.8"/><circle cx="672.52" cy="716.06" r="5.8"/><circle cx="672.88" cy="733.83" r="5.8"/><circle cx="673.6" cy="716.06" r="5.8"/><circle cx="673.96" cy="662.75" r="5.8"/><circle cx="674.32" cy="733.83" r="5.8"/><circle cx="674.68" cy="680.52" r="5.8"/><circle cx="675.04" cy="716.06" r="5.8"/><circle cx="675.4" cy="698.29" r="5.8"/><circle cx="675.76" cy="716.06" r="5.8"/><circle cx="676.12" cy="698.29" r="5.8"/><circle cx="676.84" cy="716.06" r="5.8"/><circle cx="677.2" cy="662.75" r="5.8"/><circle cx="677.56" cy="716.06" r="5.8"/><circle cx="677.92" cy="733.83" r="5.8"/><circle cx="678.64" cy="662.75" r="5.8"/><circle cx="679" cy="644.98" r="5.8"/><circle cx="679.36" cy="733.83" r="5.8"/><circle cx="679.72" cy="680.52" r="5.8"/><circle cx="680.08" cy="662.75" r="5.8"/><circle cx="680.44" cy="644.98" r="5.8"/><circle cx="680.8" cy="662.75" r="5.8"/><circle cx="681.52" cy="662.75" r="5.8"/><circle cx="681.88" cy="698.29" r="5.8"/><circle cx="682.24" cy="716.06" r="5.8"/><circle cx="682.6" cy="680.52" r="5.8"/><circle cx="682.96" cy="698.29" r="5.8"/><circle cx="683.32" cy="716.06" r="5.8"/><circle cx="683.68" cy="716.06" r="5.8"/><circle cx="684.04" cy="680.52" r="5.8"/><circle cx="684.4" cy="662.75" r="5.8"/><circle cx="684.76" cy="698.29" r="5.8"/><circle cx="685.12" cy="716.06" r="5.8"/><circle cx="685.48" cy="751.6" r="5.8"/><circle cx="685.84" cy="698.29" r="5.8"/><circle cx="686.56" cy="662.75" r="5.8"/><circle cx="686.92" cy="716.06" r="5.8"/><circle cx="687.64" cy="662.75" r="5.8"/><circle cx="688" cy="698.29" r="5.8"/><circle cx="688.36" cy="644.98" r="5.8"/><circle cx="688.72" cy="662.75" r="5.8"/><circle cx="689.08" cy="716.06" r="5.8"/><circle cx="689.8" cy="662.75" r="5.8"/><circle cx="690.16" cy="716.06" r="5.8"/><circle cx="690.52" cy="662.75" r="5.8"/><circle cx="690.88" cy="733.83" r="5.8"/><circle cx="691.6" cy="662.75" r="5.8"/><circle cx="692.68" cy="733.83" r="5.8"/><circle cx="693.04" cy="698.29" r="5.8"/><circle cx="693.4" cy="716.06" r="5.8"/><circle cx="693.76" cy="733.83" r="5.8"/><circle cx="694.48" cy="680.52" r="5.8"/><circle cx="694.84" cy="698.29" r="5.8"/><circle cx="695.56" cy="716.06" r="5.8"/><circle cx="695.92" cy="698.29" r="5.8"/><circle cx="696.64" cy="698.29" r="5.8"/><circle cx="697.36" cy="733.83" r="5.8"/><circle cx="697.72" cy="627.21" r="5.8"/><circle cx="698.08" cy="662.75" r="5.8"/><circle cx="698.44" cy="751.6" r="5.8"/><circle cx="698.8" cy="716.06" r="5.8"/><circle cx="699.16" cy="662.75" r="5.8"/><circle cx="699.52" cy="698.29" r="5.8"/><circle cx="699.88" cy="680.52" r="5.8"/><circle cx="700.24" cy="591.67" r="5.8"/><circle cx="700.6" cy="698.29" r="5.8"/><circle cx="700.96" cy="733.83" r="5.8"/><circle cx="701.32" cy="662.75" r="5.8"/><circle cx="701.68" cy="698.29" r="5.8"/><circle cx="702.04" cy="716.06" r="5.8"/><circle cx="702.4" cy="733.83" r="5.8"/><circle cx="702.76" cy="733.83" r="5.8"/><circle cx="703.12" cy="680.52" r="5.8"/><circle cx="703.84" cy="662.75" r="5.8"/><circle cx="704.2" cy="680.52" r="5.8"/><circle cx="704.56" cy="627.21" r="5.8"/><circle cx="704.92" cy="680.52" r="5.8"/><circle cx="705.64" cy="662.75" r="5.8"/><circle cx="706" cy="716.06" r="5.8"/><circle cx="706.72" cy="698.29" r="5.8"/><circle cx="707.44" cy="680.52" r="5.8"/><circle cx="707.8" cy="680.52" r="5.8"/><circle cx="708.16" cy="698.29" r="5.8"/><circle cx="708.52" cy="680.52" r="5.8"/><circle cx="709.24" cy="662.75" r="5.8"/><circle cx="709.6" cy="716.06" r="5.8"/><circle cx="709.96" cy="680.52" r="5.8"/><circle cx="710.68" cy="644.98" r="5.8"/><circle cx="711.04" cy="680.52" r="5.8"/><circle cx="711.76" cy="733.83" r="5.8"/><circle cx="712.12" cy="698.29" r="5.8"/><circle cx="712.48" cy="716.06" r="5.8"/><circle cx="712.84" cy="680.52" r="5.8"/><circle cx="713.2" cy="733.83" r="5.8"/><circle cx="713.56" cy="698.29" r="5.8"/><circle cx="713.92" cy="733.83" r="5.8"/><circle cx="714.64" cy="662.75" r="5.8"/><circle cx="715" cy="698.29" r="5.8"/><circle cx="715.36" cy="680.52" r="5.8"/><circle cx="715.72" cy="716.06" r="5.8"/><circle cx="716.08" cy="733.83" r="5.8"/><circle cx="716.44" cy="662.75" r="5.8"/><circle cx="716.8" cy="751.6" r="5.8"/><circle cx="717.16" cy="680.52" r="5.8"/><circle cx="717.52" cy="680.52" r="5.8"/><circle cx="717.88" cy="698.29" r="5.8"/><circle cx="718.6" cy="680.52" r="5.8"/><circle cx="718.96" cy="733.83" r="5.8"/><circle cx="719.32" cy="716.06" r="5.8"/><circle cx="719.68" cy="716.06" r="5.8"/><circle cx="720.04" cy="733.83" r="5.8"/><circle cx="720.4" cy="662.75" r="5.8"/><circle cx="720.76" cy="698.29" r="5.8"/><circle cx="721.12" cy="716.06" r="5.8"/><circle cx="721.48" cy="662.75" r="5.8"/><circle cx="721.84" cy="698.29" r="5.8"/><circle cx="722.2" cy="644.98" r="5.8"/><circle cx="722.56" cy="662.75" r="5.8"/><circle cx="722.92" cy="733.83" r="5.8"/><circle cx="723.28" cy="698.29" r="5.8"/><circle cx="723.64" cy="680.52" r="5.8"/><circle cx="724" cy="716.06" r="5.8"/><circle cx="724.36" cy="662.75" r="5.8"/><circle cx="724.72" cy="733.83" r="5.8"/><circle cx="725.44" cy="627.21" r="5.8"/><circle cx="725.8" cy="733.83" r="5.8"/><circle cx="726.16" cy="680.52" r="5.8"/><circle cx="726.52" cy="680.52" r="5.8"/><circle cx="726.88" cy="662.75" r="5.8"/><circle cx="727.24" cy="733.83" r="5.8"/><circle cx="727.6" cy="716.06" r="5.8"/><circle cx="727.96" cy="662.75" r="5.8"/><circle cx="728.32" cy="733.83" r="5.8"/><circle cx="728.68" cy="662.75" r="5.8"/><circle cx="729.04" cy="751.6" r="5.8"/><circle cx="729.76" cy="716.06" r="5.8"/><circle cx="730.12" cy="662.75" r="5.8"/><circle cx="730.48" cy="733.83" r="5.8"/><circle cx="730.84" cy="698.29" r="5.8"/><circle cx="731.2" cy="680.52" r="5.8"/><circle cx="731.56" cy="698.29" r="5.8"/><circle cx="732.64" cy="698.29" r="5.8"/><circle cx="733" cy="662.75" r="5.8"/><circle cx="733.72" cy="716.06" r="5.8"/><circle cx="734.08" cy="733.83" r="5.8"/><circle cx="734.44" cy="644.98" r="5.8"/><circle cx="734.8" cy="644.98" r="5.8"/><circle cx="735.16" cy="662.75" r="5.8"/><circle cx="735.52" cy="662.75" r="5.8"/><circle cx="735.88" cy="716.06" r="5.8"/><circle cx="736.24" cy="698.29" r="5.8"/><circle cx="736.6" cy="680.52" r="5.8"/><circle cx="736.96" cy="716.06" r="5.8"/><circle cx="737.32" cy="698.29" r="5.8"/><circle cx="737.68" cy="698.29" r="5.8"/><circle cx="738.4" cy="644.98" r="5.8"/><circle cx="738.76" cy="662.75" r="5.8"/><circle cx="739.12" cy="698.29" r="5.8"/><circle cx="739.84" cy="716.06" r="5.8"/><circle cx="740.2" cy="662.75" r="5.8"/><circle cx="740.56" cy="662.75" r="5.8"/><circle cx="741.28" cy="698.29" r="5.8"/><circle cx="741.64" cy="680.52" r="5.8"/><circle cx="742" cy="662.75" r="5.8"/><circle cx="742.36" cy="698.29" r="5.8"/><circle cx="742.72" cy="644.98" r="5.8"/><circle cx="743.08" cy="698.29" r="5.8"/><circle cx="743.44" cy="716.06" r="5.8"/><circle cx="743.8" cy="716.06" r="5.8"/><circle cx="744.16" cy="662.75" r="5.8"/><circle cx="744.52" cy="716.06" r="5.8"/><circle cx="744.88" cy="751.6" r="5.8"/><circle cx="745.24" cy="680.52" r="5.8"/><circle cx="745.6" cy="644.98" r="5.8"/><circle cx="745.96" cy="698.29" r="5.8"/><circle cx="746.68" cy="716.06" r="5.8"/><circle cx="747.04" cy="662.75" r="5.8"/><circle cx="747.76" cy="716.06" r="5.8"/><circle cx="748.48" cy="662.75" r="5.8"/><circle cx="748.84" cy="662.75" r="5.8"/><circle cx="749.2" cy="680.52" r="5.8"/><circle cx="749.56" cy="644.98" r="5.8"/><circle cx="749.92" cy="680.52" r="5.8"/><circle cx="750.28" cy="716.06" r="5.8"/><circle cx="750.64" cy="698.29" r="5.8"/><circle cx="751.72" cy="609.44" r="5.8"/><circle cx="752.08" cy="733.83" r="5.8"/><circle cx="752.8" cy="680.52" r="5.8"/><circle cx="753.16" cy="698.29" r="5.8"/><circle cx="753.52" cy="627.21" r="5.8"/><circle cx="753.88" cy="733.83" r="5.8"/><circle cx="754.24" cy="698.29" r="5.8"/><circle cx="754.6" cy="733.83" r="5.8"/><circle cx="754.96" cy="662.75" r="5.8"/><circle cx="755.68" cy="680.52" r="5.8"/><circle cx="756.04" cy="716.06" r="5.8"/><circle cx="756.76" cy="680.52" r="5.8"/><circle cx="757.12" cy="751.6" r="5.8"/><circle cx="757.48" cy="716.06" r="5.8"/><circle cx="757.84" cy="609.44" r="5.8"/><circle cx="758.2" cy="680.52" r="5.8"/><circle cx="758.56" cy="733.83" r="5.8"/><circle cx="759.28" cy="716.06" r="5.8"/><circle cx="759.64" cy="698.29" r="5.8"/><circle cx="760.36" cy="733.83" r="5.8"/><circle cx="760.72" cy="698.29" r="5.8"/><circle cx="761.08" cy="733.83" r="5.8"/><circle cx="761.44" cy="716.06" r="5.8"/><circle cx="761.8" cy="680.52" r="5.8"/><circle cx="762.16" cy="751.6" r="5.8"/><circle cx="762.52" cy="716.06" r="5.8"/><circle cx="762.88" cy="698.29" r="5.8"/><circle cx="763.6" cy="680.52" r="5.8"/><circle cx="763.96" cy="716.06" r="5.8"/><circle cx="764.32" cy="733.83" r="5.8"/><circle cx="764.68" cy="662.75" r="5.8"/><circle cx="765.04" cy="680.52" r="5.8"/><circle cx="765.76" cy="627.21" r="5.8"/><circle cx="766.12" cy="698.29" r="5.8"/><circle cx="766.48" cy="733.83" r="5.8"/><circle cx="766.84" cy="680.52" r="5.8"/><circle cx="767.2" cy="716.06" r="5.8"/><circle cx="767.56" cy="751.6" r="5.8"/><circle cx="767.92" cy="698.29" r="5.8"/><circle cx="768.28" cy="680.52" r="5.8"/><circle cx="768.64" cy="698.29" r="5.8"/><circle cx="769.36" cy="680.52" r="5.8"/><circle cx="769.72" cy="680.52" r="5.8"/><circle cx="770.44" cy="662.75" r="5.8"/><circle cx="770.8" cy="716.06" r="5.8"/><circle cx="771.52" cy="680.52" r="5.8"/><circle cx="771.88" cy="698.29" r="5.8"/><circle cx="772.6" cy="627.21" r="5.8"/><circle cx="772.96" cy="662.75" r="5.8"/><circle cx="773.32" cy="680.52" r="5.8"/><circle cx="773.68" cy="733.83" r="5.8"/><circle cx="774.04" cy="644.98" r="5.8"/><circle cx="774.76" cy="733.83" r="5.8"/><circle cx="775.12" cy="680.52" r="5.8"/><circle cx="775.84" cy="698.29" r="5.8"/><circle cx="776.56" cy="698.29" r="5.8"/><circle cx="777.64" cy="680.52" r="5.8"/><circle cx="778" cy="716.06" r="5.8"/><circle cx="778.36" cy="698.29" r="5.8"/><circle cx="778.72" cy="662.75" r="5.8"/><circle cx="779.08" cy="716.06" r="5.8"/><circle cx="779.44" cy="644.98" r="5.8"/><circle cx="779.8" cy="680.52" r="5.8"/><circle cx="780.16" cy="662.75" r="5.8"/><circle cx="780.52" cy="680.52" r="5.8"/><circle cx="780.88" cy="698.29" r="5.8"/><circle cx="781.6" cy="733.83" r="5.8"/><circle cx="781.96" cy="698.29" r="5.8"/><circle cx="782.68" cy="662.75" r="5.8"/><circle cx="783.04" cy="751.6" r="5.8"/><circle cx="783.4" cy="716.06" r="5.8"/><circle cx="783.76" cy="698.29" r="5.8"/><circle cx="784.12" cy="716.06" r="5.8"/><circle cx="784.84" cy="716.06" r="5.8"/><circle cx="785.2" cy="662.75" r="5.8"/><circle cx="785.56" cy="698.29" r="5.8"/><circle cx="785.92" cy="733.83" r="5.8"/><circle cx="786.64" cy="662.75" r="5.8"/><circle cx="787" cy="698.29" r="5.8"/><circle cx="787.36" cy="733.83" r="5.8"/><circle cx="787.72" cy="662.75" r="5.8"/><circle cx="788.08" cy="698.29" r="5.8"/><circle cx="788.44" cy="716.06" r="5.8"/><circle cx="788.8" cy="698.29" r="5.8"/><circle cx="789.52" cy="698.29" r="5.8"/><circle cx="789.88" cy="716.06" r="5.8"/><circle cx="790.24" cy="680.52" r="5.8"/></g></g>
<rect x="134.5" y="557" width="656.1" height="203.4" fill="none" stroke="#000" stroke-width="3.8" stroke-linejoin="miter"/>
<rect x="790.6" y="557" width="135.1" height="203.4" fill="none" stroke="#000" stroke-width="3.8" stroke-linejoin="miter"/>
<text x="120" y="762.8" font-size="31" text-anchor="end" font-weight="normal" font-style="normal" fill="#000" >0</text>
<text x="940.5" y="762.8" font-size="31" text-anchor="start" font-weight="normal" font-style="normal" fill="#000" >0</text>
<text x="120" y="673.95" font-size="31" text-anchor="end" font-weight="normal" font-style="normal" fill="#000" >5</text>
<text x="940.5" y="673.95" font-size="31" text-anchor="start" font-weight="normal" font-style="normal" fill="#000" >5</text>
<text x="120" y="585.1" font-size="31" text-anchor="end" font-weight="normal" font-style="normal" fill="#000" >10</text>
<text x="940.5" y="585.1" font-size="31" text-anchor="start" font-weight="normal" font-style="normal" fill="#000" >10</text>
<text x="134.5" y="796" font-size="31" text-anchor="middle" font-weight="normal" font-style="normal" fill="#000" >0</text>
<text x="368.6" y="796" font-size="31" text-anchor="middle" font-weight="normal" font-style="normal" fill="#000" >1</text>
<text x="602.7" y="796" font-size="31" text-anchor="middle" font-weight="normal" font-style="normal" fill="#000" >2</text>
<text x="790.6" y="796" font-size="31" text-anchor="middle" font-weight="normal" font-style="normal" fill="#000" >0</text>
<text x="903.4" y="796" font-size="31" text-anchor="middle" font-weight="normal" font-style="normal" fill="#000" >1</text>
<text x="462" y="840.4" font-size="31" text-anchor="middle" font-weight="normal" font-style="normal" fill="#000" >Time (ms)</text>
<text x="3" y="572.5" font-size="40" text-anchor="start" font-weight="bold" font-style="normal" fill="#000" >c</text>
<text transform="translate(62,454.6) rotate(-90)" font-size="31" text-anchor="start">Photons per <tspan font-style="italic">t</tspan><tspan font-size="24" dx="3.4" dy="3.6">bin</tspan></text>
<text transform="translate(62.8,770.9) rotate(-90)" font-size="31" text-anchor="start">Photons per <tspan font-style="italic">t</tspan><tspan font-size="24" dx="3.4" dy="3.6">bin</tspan></text>
<line x1="300" y1="283.3" x2="396" y2="283.3" stroke="#000" stroke-width="3" />
<polygon points="283.6,283.3 309.1,276.1 303.3,283.3 309.1,290.5" fill="#000"/>
<line x1="443.9" y1="283.3" x2="540" y2="283.3" stroke="#000" stroke-width="3" />
<polygon points="555.2,283.3 529.7,276.1 535.5,283.3 529.7,290.5" fill="#000"/>
<polygon points="617.5,283.3 592,276.1 597.8,283.3 592,290.5" fill="#000"/>
<polygon points="666,283.3 691.5,276.1 685.7,283.3 691.5,290.5" fill="#000"/>
<line x1="612" y1="283.3" x2="618" y2="283.3" stroke="#000" stroke-width="2.7" />
<text x="396.9" y="289.8" font-size="31" text-anchor="start" font-weight="normal" font-style="normal" fill="#000" >&#964;</text>
<text x="416.2" y="295" font-size="21.5" text-anchor="start" font-weight="normal" font-style="normal" fill="#000" >on</text>
<text x="618" y="289.8" font-size="31" text-anchor="start" font-weight="normal" font-style="normal" fill="#000" >&#964;</text>
<text x="637.3" y="295" font-size="21.5" text-anchor="start" font-weight="normal" font-style="normal" fill="#000" >off</text>
<clipPath id="clipd"><rect x="124.4" y="888.8" width="336.6" height="195.0"/></clipPath>
<g clip-path="url(#clipd)">
<g fill="#d62728"><circle cx="124.4" cy="935.8" r="4.2"/><circle cx="125.1" cy="936.21" r="4.2"/><circle cx="125.8" cy="935.7" r="4.2"/><circle cx="126.5" cy="935.04" r="4.2"/><circle cx="127.2" cy="934.87" r="4.2"/><circle cx="127.91" cy="935.94" r="4.2"/><circle cx="128.61" cy="938.51" r="4.2"/><circle cx="129.31" cy="937.75" r="4.2"/><circle cx="130.02" cy="937.45" r="4.2"/><circle cx="130.72" cy="936.96" r="4.2"/><circle cx="131.43" cy="938.86" r="4.2"/><circle cx="132.14" cy="938.25" r="4.2"/><circle cx="132.84" cy="939.64" r="4.2"/><circle cx="133.55" cy="940.87" r="4.2"/><circle cx="134.26" cy="941.69" r="4.2"/><circle cx="134.97" cy="941.19" r="4.2"/><circle cx="135.68" cy="941.17" r="4.2"/><circle cx="136.39" cy="942.23" r="4.2"/><circle cx="137.1" cy="944.35" r="4.2"/><circle cx="137.81" cy="943.34" r="4.2"/><circle cx="138.52" cy="941.95" r="4.2"/><circle cx="139.24" cy="945.53" r="4.2"/><circle cx="139.95" cy="944.64" r="4.2"/><circle cx="140.66" cy="948.53" r="4.2"/><circle cx="141.38" cy="944.83" r="4.2"/><circle cx="142.09" cy="945.7" r="4.2"/><circle cx="142.81" cy="945.96" r="4.2"/><circle cx="143.53" cy="947.16" r="4.2"/><circle cx="144.24" cy="946.62" r="4.2"/><circle cx="144.96" cy="946.13" r="4.2"/><circle cx="145.68" cy="946.13" r="4.2"/><circle cx="146.4" cy="948.54" r="4.2"/><circle cx="147.12" cy="948.6" r="4.2"/><circle cx="147.84" cy="949.01" r="4.2"/><circle cx="148.56" cy="952.42" r="4.2"/><circle cx="149.28" cy="951.47" r="4.2"/><circle cx="150.01" cy="952.27" r="4.2"/><circle cx="150.73" cy="951.01" r="4.2"/><circle cx="151.46" cy="952.38" r="4.2"/><circle cx="152.18" cy="952.3" r="4.2"/><circle cx="152.91" cy="952.79" r="4.2"/><circle cx="153.63" cy="954.33" r="4.2"/><circle cx="154.36" cy="954.65" r="4.2"/><circle cx="155.09" cy="954.81" r="4.2"/><circle cx="155.81" cy="955.12" r="4.2"/><circle cx="156.54" cy="953.82" r="4.2"/><circle cx="157.27" cy="955.09" r="4.2"/><circle cx="158" cy="956.84" r="4.2"/><circle cx="158.73" cy="956.49" r="4.2"/><circle cx="159.46" cy="956.5" r="4.2"/><circle cx="160.2" cy="958.28" r="4.2"/><circle cx="160.93" cy="957.31" r="4.2"/><circle cx="161.66" cy="958.08" r="4.2"/><circle cx="162.4" cy="960.36" r="4.2"/><circle cx="163.13" cy="959.42" r="4.2"/><circle cx="163.87" cy="961.98" r="4.2"/><circle cx="164.6" cy="961.42" r="4.2"/><circle cx="165.34" cy="962.25" r="4.2"/><circle cx="166.08" cy="963.12" r="4.2"/><circle cx="166.81" cy="959.75" r="4.2"/><circle cx="167.55" cy="962.69" r="4.2"/><circle cx="168.29" cy="961.75" r="4.2"/><circle cx="169.03" cy="963.22" r="4.2"/><circle cx="169.77" cy="964.14" r="4.2"/><circle cx="170.52" cy="966.25" r="4.2"/><circle cx="171.26" cy="965.2" r="4.2"/><circle cx="172" cy="967.73" r="4.2"/><circle cx="172.74" cy="965.61" r="4.2"/><circle cx="173.49" cy="966.67" r="4.2"/><circle cx="174.23" cy="967.35" r="4.2"/><circle cx="174.98" cy="968.89" r="4.2"/><circle cx="175.73" cy="968.17" r="4.2"/><circle cx="176.47" cy="967.97" r="4.2"/><circle cx="177.22" cy="968.82" r="4.2"/><circle cx="177.97" cy="967.99" r="4.2"/><circle cx="178.72" cy="971.8" r="4.2"/><circle cx="179.47" cy="971.67" r="4.2"/><circle cx="180.22" cy="971.77" r="4.2"/><circle cx="180.97" cy="972.08" r="4.2"/><circle cx="181.72" cy="971.47" r="4.2"/><circle cx="182.47" cy="972.22" r="4.2"/><circle cx="183.23" cy="974.27" r="4.2"/><circle cx="183.98" cy="972.73" r="4.2"/><circle cx="184.73" cy="973.24" r="4.2"/><circle cx="185.49" cy="976.78" r="4.2"/><circle cx="186.24" cy="977.27" r="4.2"/><circle cx="187" cy="976.13" r="4.2"/><circle cx="187.76" cy="976.96" r="4.2"/><circle cx="188.52" cy="977.01" r="4.2"/><circle cx="189.28" cy="979.15" r="4.2"/><circle cx="190.03" cy="977.19" r="4.2"/><circle cx="190.79" cy="978.39" r="4.2"/><circle cx="191.56" cy="979.44" r="4.2"/><circle cx="192.32" cy="981.23" r="4.2"/><circle cx="193.08" cy="979.47" r="4.2"/><circle cx="193.84" cy="980.63" r="4.2"/><circle cx="194.6" cy="980.16" r="4.2"/><circle cx="195.37" cy="980.45" r="4.2"/><circle cx="196.13" cy="980.96" r="4.2"/><circle cx="196.9" cy="982.47" r="4.2"/><circle cx="197.67" cy="984.09" r="4.2"/><circle cx="198.43" cy="982.42" r="4.2"/><circle cx="199.2" cy="983.06" r="4.2"/><circle cx="199.97" cy="983.84" r="4.2"/><circle cx="200.74" cy="985.41" r="4.2"/><circle cx="201.51" cy="986.41" r="4.2"/><circle cx="202.28" cy="984.19" r="4.2"/><circle cx="203.05" cy="986.96" r="4.2"/><circle cx="203.82" cy="985.56" r="4.2"/><circle cx="204.59" cy="988.51" r="4.2"/><circle cx="205.37" cy="986.63" r="4.2"/><circle cx="206.14" cy="986.97" r="4.2"/><circle cx="206.92" cy="988.01" r="4.2"/><circle cx="207.69" cy="989.47" r="4.2"/><circle cx="208.47" cy="988.63" r="4.2"/><circle cx="209.25" cy="990.9" r="4.2"/><circle cx="210.02" cy="991.33" r="4.2"/><circle cx="210.8" cy="991.75" r="4.2"/><circle cx="211.58" cy="992.55" r="4.2"/><circle cx="212.36" cy="993.97" r="4.2"/><circle cx="213.14" cy="992.1" r="4.2"/><circle cx="213.92" cy="993.71" r="4.2"/><circle cx="214.7" cy="994.19" r="4.2"/><circle cx="215.49" cy="991.66" r="4.2"/><circle cx="216.27" cy="995.87" r="4.2"/><circle cx="217.05" cy="994.63" r="4.2"/><circle cx="217.84" cy="995.23" r="4.2"/><circle cx="218.62" cy="996.16" r="4.2"/><circle cx="219.41" cy="997.52" r="4.2"/><circle cx="220.2" cy="998.41" r="4.2"/><circle cx="220.98" cy="999.17" r="4.2"/><circle cx="221.77" cy="997.87" r="4.2"/><circle cx="222.56" cy="1000.56" r="4.2"/><circle cx="223.35" cy="1000.66" r="4.2"/><circle cx="224.14" cy="999.91" r="4.2"/><circle cx="224.93" cy="1001.02" r="4.2"/><circle cx="225.73" cy="1002.86" r="4.2"/><circle cx="226.52" cy="1002.8" r="4.2"/><circle cx="227.31" cy="1003.76" r="4.2"/><circle cx="228.11" cy="1003.34" r="4.2"/><circle cx="228.9" cy="1005.54" r="4.2"/><circle cx="229.7" cy="1007.84" r="4.2"/><circle cx="230.49" cy="1005.5" r="4.2"/><circle cx="231.29" cy="1002.67" r="4.2"/><circle cx="232.09" cy="1008.67" r="4.2"/><circle cx="232.89" cy="1005.42" r="4.2"/><circle cx="233.68" cy="1004.6" r="4.2"/><circle cx="234.48" cy="1003.48" r="4.2"/><circle cx="235.29" cy="1008.67" r="4.2"/><circle cx="236.09" cy="1010.34" r="4.2"/><circle cx="236.89" cy="1010.72" r="4.2"/><circle cx="237.69" cy="1008.92" r="4.2"/><circle cx="238.5" cy="1012.56" r="4.2"/><circle cx="239.3" cy="1010.51" r="4.2"/><circle cx="240.1" cy="1010.16" r="4.2"/><circle cx="240.91" cy="1011.83" r="4.2"/><circle cx="241.72" cy="1012.62" r="4.2"/><circle cx="242.52" cy="1012.87" r="4.2"/><circle cx="243.33" cy="1014.03" r="4.2"/><circle cx="244.14" cy="1010.02" r="4.2"/><circle cx="244.95" cy="1017.17" r="4.2"/><circle cx="245.76" cy="1013.94" r="4.2"/><circle cx="246.57" cy="1016.65" r="4.2"/><circle cx="247.38" cy="1014.6" r="4.2"/><circle cx="248.2" cy="1016.86" r="4.2"/><circle cx="249.01" cy="1016.8" r="4.2"/><circle cx="249.82" cy="1014.8" r="4.2"/><circle cx="250.64" cy="1018.9" r="4.2"/><circle cx="251.45" cy="1019.9" r="4.2"/><circle cx="252.27" cy="1017.25" r="4.2"/><circle cx="253.09" cy="1015.98" r="4.2"/><circle cx="253.9" cy="1019.19" r="4.2"/><circle cx="254.72" cy="1019.36" r="4.2"/><circle cx="255.54" cy="1021.68" r="4.2"/><circle cx="256.36" cy="1021.99" r="4.2"/><circle cx="257.18" cy="1025.6" r="4.2"/><circle cx="258" cy="1024.34" r="4.2"/><circle cx="258.83" cy="1023.18" r="4.2"/><circle cx="259.65" cy="1024.52" r="4.2"/><circle cx="260.47" cy="1019.25" r="4.2"/><circle cx="261.3" cy="1023.57" r="4.2"/><circle cx="262.12" cy="1024.08" r="4.2"/><circle cx="262.95" cy="1026.2" r="4.2"/><circle cx="263.78" cy="1027.59" r="4.2"/><circle cx="264.6" cy="1027.93" r="4.2"/><circle cx="265.43" cy="1029.9" r="4.2"/><circle cx="266.26" cy="1027.26" r="4.2"/><circle cx="267.09" cy="1029.78" r="4.2"/><circle cx="267.92" cy="1029.47" r="4.2"/><circle cx="268.75" cy="1030.31" r="4.2"/><circle cx="269.58" cy="1031.48" r="4.2"/><circle cx="270.42" cy="1030.83" r="4.2"/><circle cx="271.25" cy="1032.38" r="4.2"/><circle cx="272.08" cy="1032.43" r="4.2"/><circle cx="272.92" cy="1035.15" r="4.2"/><circle cx="273.76" cy="1033.39" r="4.2"/><circle cx="274.59" cy="1034.81" r="4.2"/><circle cx="275.43" cy="1040.1" r="4.2"/><circle cx="276.27" cy="1036.59" r="4.2"/><circle cx="277.11" cy="1036.92" r="4.2"/><circle cx="277.95" cy="1038.67" r="4.2"/><circle cx="278.79" cy="1034.86" r="4.2"/><circle cx="279.63" cy="1039.03" r="4.2"/><circle cx="280.47" cy="1039.69" r="4.2"/><circle cx="281.31" cy="1039.6" r="4.2"/><circle cx="282.16" cy="1041.3" r="4.2"/><circle cx="283" cy="1041.47" r="4.2"/><circle cx="283.85" cy="1042.91" r="4.2"/><circle cx="284.69" cy="1039.53" r="4.2"/><circle cx="285.54" cy="1042.42" r="4.2"/><circle cx="286.38" cy="1040.85" r="4.2"/><circle cx="287.23" cy="1045.33" r="4.2"/><circle cx="288.08" cy="1043.48" r="4.2"/><circle cx="288.93" cy="1040.87" r="4.2"/><circle cx="289.78" cy="1044.55" r="4.2"/><circle cx="290.63" cy="1042.64" r="4.2"/><circle cx="291.49" cy="1047.64" r="4.2"/><circle cx="292.34" cy="1045.26" r="4.2"/><circle cx="293.19" cy="1041.65" r="4.2"/><circle cx="294.05" cy="1046.28" r="4.2"/><circle cx="294.9" cy="1050.05" r="4.2"/><circle cx="295.76" cy="1049.05" r="4.2"/><circle cx="296.61" cy="1047.41" r="4.2"/><circle cx="297.47" cy="1050.93" r="4.2"/><circle cx="298.33" cy="1051.34" r="4.2"/><circle cx="299.19" cy="1054" r="4.2"/><circle cx="300.05" cy="1053.26" r="4.2"/><circle cx="300.91" cy="1052.59" r="4.2"/><circle cx="301.77" cy="1050.46" r="4.2"/><circle cx="302.63" cy="1053.55" r="4.2"/><circle cx="303.5" cy="1054.17" r="4.2"/><circle cx="304.36" cy="1054.07" r="4.2"/><circle cx="305.22" cy="1055.62" r="4.2"/><circle cx="306.09" cy="1052.34" r="4.2"/><circle cx="306.96" cy="1057.14" r="4.2"/><circle cx="307.82" cy="1056.37" r="4.2"/><circle cx="308.69" cy="1057.79" r="4.2"/><circle cx="309.56" cy="1057.27" r="4.2"/><circle cx="310.43" cy="1057.35" r="4.2"/><circle cx="311.3" cy="1059.29" r="4.2"/><circle cx="312.17" cy="1061.18" r="4.2"/><circle cx="313.04" cy="1059.03" r="4.2"/><circle cx="313.91" cy="1061.22" r="4.2"/><circle cx="314.79" cy="1059.08" r="4.2"/><circle cx="315.66" cy="1062.62" r="4.2"/><circle cx="316.54" cy="1062.2" r="4.2"/><circle cx="317.41" cy="1059.5" r="4.2"/><circle cx="318.29" cy="1066.28" r="4.2"/><circle cx="319.17" cy="1061.64" r="4.2"/><circle cx="320.04" cy="1064.7" r="4.2"/><circle cx="320.92" cy="1061.71" r="4.2"/><circle cx="321.8" cy="1061.2" r="4.2"/><circle cx="322.68" cy="1067.96" r="4.2"/><circle cx="323.57" cy="1063.2" r="4.2"/><circle cx="324.45" cy="1062.02" r="4.2"/><circle cx="325.33" cy="1067.46" r="4.2"/><circle cx="326.21" cy="1064.53" r="4.2"/><circle cx="327.1" cy="1068.66" r="4.2"/><circle cx="327.98" cy="1074.64" r="4.2"/><circle cx="328.87" cy="1069.33" r="4.2"/><circle cx="329.76" cy="1071.93" r="4.2"/><circle cx="330.64" cy="1073.07" r="4.2"/><circle cx="331.53" cy="1072.82" r="4.2"/><circle cx="332.42" cy="1072.43" r="4.2"/><circle cx="333.31" cy="1077.44" r="4.2"/><circle cx="334.2" cy="1073.72" r="4.2"/><circle cx="335.1" cy="1075.51" r="4.2"/><circle cx="335.99" cy="1075.44" r="4.2"/><circle cx="336.88" cy="1072.19" r="4.2"/><circle cx="337.78" cy="1077.21" r="4.2"/><circle cx="338.67" cy="1077.07" r="4.2"/><circle cx="339.57" cy="1079.33" r="4.2"/><circle cx="340.46" cy="1080.05" r="4.2"/><circle cx="341.36" cy="1083.12" r="4.2"/><circle cx="342.26" cy="1073.95" r="4.2"/><circle cx="343.16" cy="1078.33" r="4.2"/><circle cx="344.06" cy="1079.17" r="4.2"/><circle cx="344.96" cy="1078.65" r="4.2"/><circle cx="345.86" cy="1082.9" r="4.2"/><circle cx="346.77" cy="1082.1" r="4.2"/><circle cx="347.67" cy="1083.32" r="4.2"/><circle cx="348.57" cy="1078.79" r="4.2"/><circle cx="349.48" cy="1081.34" r="4.2"/><circle cx="350.38" cy="1084.54" r="4.2"/><circle cx="351.29" cy="1084.02" r="4.2"/><circle cx="352.2" cy="1084.15" r="4.2"/><circle cx="353.11" cy="1086.2" r="4.2"/></g>
<g fill="#1f77b4"><circle cx="124.4" cy="929.22" r="4.2"/><circle cx="125.1" cy="929.68" r="4.2"/><circle cx="125.8" cy="931.93" r="4.2"/><circle cx="126.5" cy="929.39" r="4.2"/><circle cx="127.2" cy="931.98" r="4.2"/><circle cx="127.91" cy="930.29" r="4.2"/><circle cx="128.61" cy="934.09" r="4.2"/><circle cx="129.31" cy="933.62" r="4.2"/><circle cx="130.02" cy="935.22" r="4.2"/><circle cx="130.72" cy="933.78" r="4.2"/><circle cx="131.43" cy="935.12" r="4.2"/><circle cx="132.13" cy="934.87" r="4.2"/><circle cx="132.84" cy="934.84" r="4.2"/><circle cx="133.54" cy="936.17" r="4.2"/><circle cx="134.25" cy="935.18" r="4.2"/><circle cx="134.96" cy="936.53" r="4.2"/><circle cx="135.67" cy="938.04" r="4.2"/><circle cx="136.38" cy="937.83" r="4.2"/><circle cx="137.09" cy="937.78" r="4.2"/><circle cx="137.8" cy="940.89" r="4.2"/><circle cx="138.51" cy="939.14" r="4.2"/><circle cx="139.22" cy="938.91" r="4.2"/><circle cx="139.93" cy="940.12" r="4.2"/><circle cx="140.65" cy="939.85" r="4.2"/><circle cx="141.36" cy="940.43" r="4.2"/><circle cx="142.07" cy="940.9" r="4.2"/><circle cx="142.79" cy="943.82" r="4.2"/><circle cx="143.5" cy="942.17" r="4.2"/><circle cx="144.22" cy="942.77" r="4.2"/><circle cx="144.93" cy="943.74" r="4.2"/><circle cx="145.65" cy="945.59" r="4.2"/><circle cx="146.37" cy="943.67" r="4.2"/><circle cx="147.09" cy="943.69" r="4.2"/><circle cx="147.81" cy="947.42" r="4.2"/><circle cx="148.52" cy="943.68" r="4.2"/><circle cx="149.24" cy="945.29" r="4.2"/><circle cx="149.96" cy="946.84" r="4.2"/><circle cx="150.69" cy="949.01" r="4.2"/><circle cx="151.41" cy="945.99" r="4.2"/><circle cx="152.13" cy="944.84" r="4.2"/><circle cx="152.85" cy="948.61" r="4.2"/><circle cx="153.57" cy="947.78" r="4.2"/><circle cx="154.3" cy="948.37" r="4.2"/><circle cx="155.02" cy="949.74" r="4.2"/><circle cx="155.75" cy="949.92" r="4.2"/><circle cx="156.47" cy="950.44" r="4.2"/><circle cx="157.2" cy="950.1" r="4.2"/><circle cx="157.93" cy="952.44" r="4.2"/><circle cx="158.65" cy="953.13" r="4.2"/><circle cx="159.38" cy="951.95" r="4.2"/><circle cx="160.11" cy="951.86" r="4.2"/><circle cx="160.84" cy="953.63" r="4.2"/><circle cx="161.57" cy="953.8" r="4.2"/><circle cx="162.3" cy="952.54" r="4.2"/><circle cx="163.03" cy="953.64" r="4.2"/><circle cx="163.76" cy="955.8" r="4.2"/><circle cx="164.5" cy="954.95" r="4.2"/><circle cx="165.23" cy="955.13" r="4.2"/><circle cx="165.96" cy="956.2" r="4.2"/><circle cx="166.7" cy="956.37" r="4.2"/><circle cx="167.43" cy="956.86" r="4.2"/><circle cx="168.17" cy="955.09" r="4.2"/><circle cx="168.9" cy="959.8" r="4.2"/><circle cx="169.64" cy="958.45" r="4.2"/><circle cx="170.37" cy="957.65" r="4.2"/><circle cx="171.11" cy="960.27" r="4.2"/><circle cx="171.85" cy="959.94" r="4.2"/><circle cx="172.59" cy="960.06" r="4.2"/><circle cx="173.33" cy="961.73" r="4.2"/><circle cx="174.07" cy="963.63" r="4.2"/><circle cx="174.81" cy="962.06" r="4.2"/><circle cx="175.55" cy="963.75" r="4.2"/><circle cx="176.29" cy="964.9" r="4.2"/><circle cx="177.04" cy="961.54" r="4.2"/><circle cx="177.78" cy="962.6" r="4.2"/><circle cx="178.52" cy="964.63" r="4.2"/><circle cx="179.27" cy="962.06" r="4.2"/><circle cx="180.01" cy="964.27" r="4.2"/><circle cx="180.76" cy="966.64" r="4.2"/><circle cx="181.5" cy="966.8" r="4.2"/><circle cx="182.25" cy="966.69" r="4.2"/><circle cx="183" cy="964.09" r="4.2"/><circle cx="183.74" cy="969.82" r="4.2"/><circle cx="184.49" cy="968.05" r="4.2"/><circle cx="185.24" cy="968.78" r="4.2"/><circle cx="185.99" cy="968.9" r="4.2"/><circle cx="186.74" cy="966.57" r="4.2"/><circle cx="187.49" cy="967.38" r="4.2"/><circle cx="188.25" cy="968.12" r="4.2"/><circle cx="189" cy="972.58" r="4.2"/><circle cx="189.75" cy="969.52" r="4.2"/><circle cx="190.5" cy="970.74" r="4.2"/><circle cx="191.26" cy="971.19" r="4.2"/><circle cx="192.01" cy="972.72" r="4.2"/><circle cx="192.77" cy="973.1" r="4.2"/><circle cx="193.52" cy="973.26" r="4.2"/><circle cx="194.28" cy="971.72" r="4.2"/><circle cx="195.04" cy="969.71" r="4.2"/><circle cx="195.8" cy="974.53" r="4.2"/><circle cx="196.55" cy="975.13" r="4.2"/><circle cx="197.31" cy="976.88" r="4.2"/><circle cx="198.07" cy="975.57" r="4.2"/><circle cx="198.83" cy="975.36" r="4.2"/><circle cx="199.59" cy="977.2" r="4.2"/><circle cx="200.36" cy="975.01" r="4.2"/><circle cx="201.12" cy="976.17" r="4.2"/><circle cx="201.88" cy="976.68" r="4.2"/><circle cx="202.64" cy="978.91" r="4.2"/><circle cx="203.41" cy="981.87" r="4.2"/><circle cx="204.17" cy="980.51" r="4.2"/><circle cx="204.94" cy="981.51" r="4.2"/><circle cx="205.7" cy="980.73" r="4.2"/><circle cx="206.47" cy="981.26" r="4.2"/><circle cx="207.24" cy="980.71" r="4.2"/><circle cx="208.01" cy="981.42" r="4.2"/><circle cx="208.77" cy="978.85" r="4.2"/><circle cx="209.54" cy="981.05" r="4.2"/><circle cx="210.31" cy="981.4" r="4.2"/><circle cx="211.08" cy="984.91" r="4.2"/><circle cx="211.85" cy="985.14" r="4.2"/><circle cx="212.63" cy="986.31" r="4.2"/><circle cx="213.4" cy="987.39" r="4.2"/><circle cx="214.17" cy="985.16" r="4.2"/><circle cx="214.94" cy="987.63" r="4.2"/><circle cx="215.72" cy="989.43" r="4.2"/><circle cx="216.49" cy="987.02" r="4.2"/><circle cx="217.27" cy="989.12" r="4.2"/><circle cx="218.04" cy="987.75" r="4.2"/><circle cx="218.82" cy="986.06" r="4.2"/><circle cx="219.6" cy="989.13" r="4.2"/><circle cx="220.38" cy="988.19" r="4.2"/><circle cx="221.15" cy="990.07" r="4.2"/><circle cx="221.93" cy="989.68" r="4.2"/><circle cx="222.71" cy="991.35" r="4.2"/><circle cx="223.49" cy="988.08" r="4.2"/><circle cx="224.27" cy="995.02" r="4.2"/><circle cx="225.06" cy="994.4" r="4.2"/><circle cx="225.84" cy="992.24" r="4.2"/><circle cx="226.62" cy="991.85" r="4.2"/><circle cx="227.41" cy="993.75" r="4.2"/><circle cx="228.19" cy="995.29" r="4.2"/><circle cx="228.97" cy="995.38" r="4.2"/><circle cx="229.76" cy="995.83" r="4.2"/><circle cx="230.55" cy="992.56" r="4.2"/><circle cx="231.33" cy="994.36" r="4.2"/><circle cx="232.12" cy="998.8" r="4.2"/><circle cx="232.91" cy="997.52" r="4.2"/><circle cx="233.7" cy="995.17" r="4.2"/><circle cx="234.49" cy="996.7" r="4.2"/><circle cx="235.28" cy="996.24" r="4.2"/><circle cx="236.07" cy="997.41" r="4.2"/><circle cx="236.86" cy="1001.5" r="4.2"/><circle cx="237.65" cy="999.68" r="4.2"/><circle cx="238.44" cy="1002.41" r="4.2"/><circle cx="239.24" cy="1001.34" r="4.2"/><circle cx="240.03" cy="998.98" r="4.2"/><circle cx="240.83" cy="1000.9" r="4.2"/><circle cx="241.62" cy="1006.39" r="4.2"/><circle cx="242.42" cy="1001.67" r="4.2"/><circle cx="243.21" cy="1001.67" r="4.2"/><circle cx="244.01" cy="1006.09" r="4.2"/><circle cx="244.81" cy="1004.61" r="4.2"/><circle cx="245.61" cy="1004.93" r="4.2"/><circle cx="246.41" cy="1008" r="4.2"/><circle cx="247.21" cy="1002.83" r="4.2"/><circle cx="248.01" cy="1007.16" r="4.2"/><circle cx="248.81" cy="1005.04" r="4.2"/><circle cx="249.61" cy="1004.9" r="4.2"/><circle cx="250.41" cy="1006.44" r="4.2"/><circle cx="251.22" cy="1010.46" r="4.2"/><circle cx="252.02" cy="1008.63" r="4.2"/><circle cx="252.82" cy="1006.05" r="4.2"/><circle cx="253.63" cy="1007.86" r="4.2"/><circle cx="254.44" cy="1013.16" r="4.2"/><circle cx="255.24" cy="1012.75" r="4.2"/><circle cx="256.05" cy="1009.35" r="4.2"/><circle cx="256.86" cy="1016.36" r="4.2"/><circle cx="257.66" cy="1011.68" r="4.2"/><circle cx="258.47" cy="1010.62" r="4.2"/><circle cx="259.28" cy="1013.1" r="4.2"/><circle cx="260.09" cy="1015.62" r="4.2"/><circle cx="260.9" cy="1017.4" r="4.2"/><circle cx="261.72" cy="1016.81" r="4.2"/><circle cx="262.53" cy="1014.53" r="4.2"/><circle cx="263.34" cy="1014.77" r="4.2"/><circle cx="264.16" cy="1013.55" r="4.2"/><circle cx="264.97" cy="1016.71" r="4.2"/><circle cx="265.79" cy="1016.19" r="4.2"/><circle cx="266.6" cy="1018.33" r="4.2"/><circle cx="267.42" cy="1015.88" r="4.2"/><circle cx="268.23" cy="1017.84" r="4.2"/><circle cx="269.05" cy="1017.62" r="4.2"/><circle cx="269.87" cy="1017.48" r="4.2"/><circle cx="270.69" cy="1018.01" r="4.2"/><circle cx="271.51" cy="1018.84" r="4.2"/><circle cx="272.33" cy="1019" r="4.2"/><circle cx="273.15" cy="1023.03" r="4.2"/><circle cx="273.97" cy="1022.59" r="4.2"/><circle cx="274.79" cy="1020.21" r="4.2"/><circle cx="275.62" cy="1024.45" r="4.2"/><circle cx="276.44" cy="1024.5" r="4.2"/><circle cx="277.27" cy="1027.42" r="4.2"/><circle cx="278.09" cy="1024.52" r="4.2"/><circle cx="278.92" cy="1024.99" r="4.2"/><circle cx="279.74" cy="1024.5" r="4.2"/><circle cx="280.57" cy="1026.7" r="4.2"/><circle cx="281.4" cy="1027.99" r="4.2"/><circle cx="282.23" cy="1027.83" r="4.2"/><circle cx="283.06" cy="1027.44" r="4.2"/><circle cx="283.89" cy="1029.68" r="4.2"/><circle cx="284.72" cy="1029.19" r="4.2"/><circle cx="285.55" cy="1030.03" r="4.2"/><circle cx="286.38" cy="1028.01" r="4.2"/><circle cx="287.21" cy="1030.98" r="4.2"/><circle cx="288.05" cy="1028.88" r="4.2"/><circle cx="288.88" cy="1029.72" r="4.2"/><circle cx="289.71" cy="1032.42" r="4.2"/><circle cx="290.55" cy="1037.21" r="4.2"/><circle cx="291.39" cy="1035.29" r="4.2"/><circle cx="292.22" cy="1033.62" r="4.2"/><circle cx="293.06" cy="1033.73" r="4.2"/><circle cx="293.9" cy="1036.85" r="4.2"/><circle cx="294.74" cy="1038.25" r="4.2"/><circle cx="295.58" cy="1038.42" r="4.2"/><circle cx="296.42" cy="1035.77" r="4.2"/><circle cx="297.26" cy="1037.13" r="4.2"/><circle cx="298.1" cy="1036.47" r="4.2"/><circle cx="298.94" cy="1037.09" r="4.2"/><circle cx="299.78" cy="1036.3" r="4.2"/><circle cx="300.63" cy="1038.2" r="4.2"/><circle cx="301.47" cy="1034.32" r="4.2"/><circle cx="302.32" cy="1037.03" r="4.2"/><circle cx="303.16" cy="1041.33" r="4.2"/><circle cx="304.01" cy="1038.69" r="4.2"/><circle cx="304.85" cy="1042.65" r="4.2"/><circle cx="305.7" cy="1038.85" r="4.2"/><circle cx="306.55" cy="1041.55" r="4.2"/><circle cx="307.4" cy="1043.89" r="4.2"/><circle cx="308.25" cy="1040.99" r="4.2"/><circle cx="309.1" cy="1042.28" r="4.2"/><circle cx="309.95" cy="1050.46" r="4.2"/><circle cx="310.8" cy="1043.39" r="4.2"/><circle cx="311.66" cy="1043.85" r="4.2"/><circle cx="312.51" cy="1044.69" r="4.2"/><circle cx="313.36" cy="1046.69" r="4.2"/><circle cx="314.22" cy="1047.07" r="4.2"/><circle cx="315.07" cy="1050.09" r="4.2"/><circle cx="315.93" cy="1050.15" r="4.2"/><circle cx="316.78" cy="1047.71" r="4.2"/><circle cx="317.64" cy="1048.36" r="4.2"/><circle cx="318.5" cy="1046.23" r="4.2"/><circle cx="319.36" cy="1046.54" r="4.2"/><circle cx="320.22" cy="1048.96" r="4.2"/><circle cx="321.08" cy="1053.21" r="4.2"/><circle cx="321.94" cy="1052.19" r="4.2"/><circle cx="322.8" cy="1054.47" r="4.2"/><circle cx="323.66" cy="1055.36" r="4.2"/><circle cx="324.53" cy="1053.05" r="4.2"/><circle cx="325.39" cy="1059.43" r="4.2"/><circle cx="326.26" cy="1053.18" r="4.2"/><circle cx="327.12" cy="1053.45" r="4.2"/><circle cx="327.99" cy="1054.48" r="4.2"/><circle cx="328.85" cy="1059.12" r="4.2"/><circle cx="329.72" cy="1056.31" r="4.2"/><circle cx="330.59" cy="1055.25" r="4.2"/><circle cx="331.46" cy="1058.89" r="4.2"/><circle cx="332.33" cy="1061.29" r="4.2"/><circle cx="333.2" cy="1058.51" r="4.2"/><circle cx="334.07" cy="1058.67" r="4.2"/><circle cx="334.94" cy="1062.8" r="4.2"/><circle cx="335.81" cy="1063.08" r="4.2"/><circle cx="336.68" cy="1063.52" r="4.2"/><circle cx="337.56" cy="1059.41" r="4.2"/><circle cx="338.43" cy="1062.81" r="4.2"/><circle cx="339.31" cy="1063.56" r="4.2"/><circle cx="340.18" cy="1058.16" r="4.2"/><circle cx="341.06" cy="1066.97" r="4.2"/><circle cx="341.94" cy="1064.46" r="4.2"/><circle cx="342.82" cy="1063.78" r="4.2"/><circle cx="343.69" cy="1071.6" r="4.2"/><circle cx="344.57" cy="1066.22" r="4.2"/><circle cx="345.45" cy="1064.32" r="4.2"/><circle cx="346.34" cy="1066.71" r="4.2"/><circle cx="347.22" cy="1069.03" r="4.2"/><circle cx="348.1" cy="1070.29" r="4.2"/><circle cx="348.98" cy="1068.35" r="4.2"/><circle cx="349.87" cy="1066.58" r="4.2"/><circle cx="350.75" cy="1067.59" r="4.2"/><circle cx="351.64" cy="1067.78" r="4.2"/><circle cx="352.52" cy="1067.64" r="4.2"/><circle cx="353.41" cy="1071.18" r="4.2"/><circle cx="354.3" cy="1070.35" r="4.2"/><circle cx="355.18" cy="1072.49" r="4.2"/><circle cx="356.07" cy="1070.44" r="4.2"/><circle cx="356.96" cy="1070.86" r="4.2"/><circle cx="357.85" cy="1073.42" r="4.2"/><circle cx="358.74" cy="1073.48" r="4.2"/><circle cx="359.64" cy="1078.52" r="4.2"/><circle cx="360.53" cy="1072.9" r="4.2"/><circle cx="361.42" cy="1076.79" r="4.2"/><circle cx="362.32" cy="1076.59" r="4.2"/><circle cx="363.21" cy="1073.29" r="4.2"/><circle cx="364.11" cy="1080.04" r="4.2"/><circle cx="365" cy="1078.89" r="4.2"/><circle cx="365.9" cy="1072.48" r="4.2"/><circle cx="366.8" cy="1081.33" r="4.2"/><circle cx="367.69" cy="1082.93" r="4.2"/><circle cx="368.59" cy="1078.11" r="4.2"/><circle cx="369.49" cy="1086.41" r="4.2"/><circle cx="370.39" cy="1082.17" r="4.2"/><circle cx="371.3" cy="1078.62" r="4.2"/><circle cx="372.2" cy="1084.57" r="4.2"/><circle cx="373.1" cy="1082.21" r="4.2"/><circle cx="374" cy="1079.66" r="4.2"/><circle cx="374.91" cy="1077.63" r="4.2"/><circle cx="375.81" cy="1085.8" r="4.2"/><circle cx="376.72" cy="1083.22" r="4.2"/><circle cx="377.63" cy="1088.21" r="4.2"/><circle cx="378.53" cy="1087.94" r="4.2"/><circle cx="379.44" cy="1085.56" r="4.2"/><circle cx="380.35" cy="1086.08" r="4.2"/><circle cx="339.8" cy="1054.6" r="4.2"/></g>
</g>
<rect x="124.4" y="888.8" width="336.6" height="195" fill="none" stroke="#000" stroke-width="3.8" stroke-linejoin="miter"/>
<line x1="247.2" y1="888.8" x2="247.2" y2="908.3" stroke="#000" stroke-width="3.8" />
<line x1="247.2" y1="1083.8" x2="247.2" y2="1064.3" stroke="#000" stroke-width="3.8" />
<line x1="370" y1="888.8" x2="370" y2="908.3" stroke="#000" stroke-width="3.8" />
<line x1="370" y1="1083.8" x2="370" y2="1064.3" stroke="#000" stroke-width="3.8" />
<line x1="124.4" y1="929.25" x2="143.9" y2="929.25" stroke="#000" stroke-width="3.8" />
<line x1="461" y1="929.25" x2="441.5" y2="929.25" stroke="#000" stroke-width="3.8" />
<line x1="124.4" y1="1043.45" x2="143.9" y2="1043.45" stroke="#000" stroke-width="3.8" />
<line x1="461" y1="1043.45" x2="441.5" y2="1043.45" stroke="#000" stroke-width="3.8" />
<text x="124.4" y="1119.5" font-size="31" text-anchor="middle" font-weight="normal" font-style="normal" fill="#000" >0</text>
<text x="247.2" y="1119.5" font-size="31" text-anchor="middle" font-weight="normal" font-style="normal" fill="#000" >2</text>
<text x="370" y="1119.5" font-size="31" text-anchor="middle" font-weight="normal" font-style="normal" fill="#000" >4</text>
<text x="95.2" y="945.3" font-size="31" text-anchor="end" font-weight="normal" font-style="normal" fill="#000" >10</text>
<text x="95.3" y="924.2" font-size="21.7" text-anchor="start" font-weight="normal" font-style="normal" fill="#000" >0</text>
<text x="83.3" y="1060.3" font-size="31" text-anchor="end" font-weight="normal" font-style="normal" fill="#000" >10</text>
<text x="84" y="1039.1" font-size="21.7" text-anchor="start" font-weight="normal" font-style="normal" fill="#000" >&#8722;2</text>
<text transform="translate(247,990.5) scale(1.3,1)" font-size="31" font-style="italic" fill="#1f77b4">&#964;</text>
<text x="265.3" y="994.9" font-size="23.5" text-anchor="start" font-weight="normal" font-style="normal" fill="#1f77b4" >off</text>
<text transform="translate(296,1024.5) scale(1.3,1)" font-size="31" font-style="italic" fill="#d62728">&#964;</text>
<text x="315.1" y="1028.6" font-size="23.5" text-anchor="start" font-weight="normal" font-style="normal" fill="#d62728" >on</text>
<text transform="translate(247,1163.5) scale(1.3,1)" font-size="31" font-style="italic" fill="#000">&#964;</text>
<text x="275" y="1163" font-size="31">(ms)</text>
<text transform="translate(26.9,1044) rotate(-90)" font-size="31" text-anchor="start">Norm. <tspan font-style="italic">N</tspan></text>
<text x="0.5" y="910.8" font-size="40" text-anchor="start" font-weight="bold" font-style="normal" fill="#000" >d</text>
<clipPath id="clipe"><rect x="625.3" y="888.8" width="345.70000000000005" height="195.20000000000005"/></clipPath>
<g clip-path="url(#clipe)">
<rect x="718.11" y="1082.61" width="12.38" height="3.39" fill="#79add2" stroke="#a9c9e4" stroke-width="0.5" />
<rect x="730.49" y="1080.01" width="12.38" height="5.99" fill="#79add2" stroke="#a9c9e4" stroke-width="0.5" />
<rect x="742.86" y="1073.22" width="12.38" height="12.78" fill="#79add2" stroke="#a9c9e4" stroke-width="0.5" />
<rect x="755.24" y="1057.43" width="12.38" height="28.57" fill="#79add2" stroke="#a9c9e4" stroke-width="0.5" />
<rect x="767.61" y="1036.9" width="12.38" height="49.1" fill="#79add2" stroke="#a9c9e4" stroke-width="0.5" />
<rect x="779.99" y="1006.15" width="12.38" height="79.85" fill="#79add2" stroke="#a9c9e4" stroke-width="0.5" />
<rect x="792.36" y="982.37" width="12.38" height="103.63" fill="#79add2" stroke="#a9c9e4" stroke-width="0.5" />
<rect x="804.74" y="958.03" width="12.38" height="127.97" fill="#79add2" stroke="#a9c9e4" stroke-width="0.5" />
<rect x="817.11" y="948.55" width="12.38" height="137.45" fill="#79add2" stroke="#a9c9e4" stroke-width="0.5" />
<rect x="829.49" y="964.16" width="12.38" height="121.84" fill="#79add2" stroke="#a9c9e4" stroke-width="0.5" />
<rect x="841.86" y="987.85" width="12.38" height="98.15" fill="#79add2" stroke="#a9c9e4" stroke-width="0.5" />
<rect x="854.24" y="1011.35" width="12.38" height="74.65" fill="#79add2" stroke="#a9c9e4" stroke-width="0.5" />
<rect x="866.61" y="1036.16" width="12.38" height="49.84" fill="#79add2" stroke="#a9c9e4" stroke-width="0.5" />
<rect x="878.99" y="1056.13" width="12.38" height="29.87" fill="#79add2" stroke="#a9c9e4" stroke-width="0.5" />
<rect x="891.36" y="1068.21" width="12.38" height="17.79" fill="#79add2" stroke="#a9c9e4" stroke-width="0.5" />
<rect x="903.74" y="1077.5" width="12.38" height="8.5" fill="#79add2" stroke="#a9c9e4" stroke-width="0.5" />
<rect x="916.11" y="1080.75" width="12.38" height="5.25" fill="#79add2" stroke="#a9c9e4" stroke-width="0.5" />
<rect x="928.49" y="1082.51" width="12.38" height="3.49" fill="#79add2" stroke="#a9c9e4" stroke-width="0.5" />
<polyline points="625.3,1084 626.54,1084 627.77,1084 629.01,1084 630.25,1084 631.49,1084 632.72,1084 633.96,1084 635.2,1084 636.44,1084 637.67,1084 638.91,1084 640.15,1084 641.39,1084 642.62,1084 643.86,1084 645.1,1083.99 646.34,1083.99 647.57,1083.99 648.81,1083.99 650.05,1083.99 651.29,1083.99 652.52,1083.98 653.76,1083.98 655,1083.98 656.24,1083.97 657.47,1083.97 658.71,1083.96 659.95,1083.96 661.19,1083.95 662.42,1083.94 663.66,1083.93 664.9,1083.92 666.14,1083.91 667.38,1083.89 668.61,1083.87 669.85,1083.86 671.09,1083.83 672.32,1083.81 673.56,1083.78 674.8,1083.75 676.04,1083.72 677.27,1083.68 678.51,1083.64 679.75,1083.6 680.99,1083.55 682.22,1083.49 683.46,1083.43 684.7,1083.36 685.94,1083.29 687.17,1083.2 688.41,1083.11 689.65,1083.02 690.89,1082.91 692.12,1082.79 693.36,1082.66 694.6,1082.53 695.84,1082.38 697.07,1082.22 698.31,1082.04 699.55,1081.85 700.79,1081.65 702.02,1081.43 703.26,1081.19 704.5,1080.94 705.74,1080.67 706.97,1080.38 708.21,1080.08 709.45,1079.75 710.69,1079.4 711.92,1079.03 713.16,1078.63 714.4,1078.22 715.64,1077.77 716.87,1077.31 718.11,1076.81 719.35,1076.29 720.59,1075.74 721.82,1075.17 723.06,1074.56 724.3,1073.93 725.54,1073.27 726.77,1072.57 728.01,1071.85 729.25,1071.09 730.49,1070.3 731.72,1069.48 732.96,1068.63 734.2,1067.74 735.44,1066.82 736.67,1065.87 737.91,1064.89 739.15,1063.88 740.39,1062.83 741.62,1061.75 742.86,1060.64 744.1,1059.5 745.34,1058.33 746.57,1057.12 747.81,1055.89 749.05,1054.63 750.29,1053.35 751.52,1052.04 752.76,1050.7 754,1049.34 755.24,1047.96 756.47,1046.55 757.71,1045.13 758.95,1043.69 760.19,1042.23 761.42,1040.75 762.66,1039.27 763.9,1037.77 765.14,1036.26 766.37,1034.75 767.61,1033.23 768.85,1031.7 770.09,1030.18 771.32,1028.65 772.56,1027.13 773.8,1025.62 775.04,1024.11 776.27,1022.61 777.51,1021.12 778.75,1019.65 779.99,1018.2 781.22,1016.76 782.46,1015.34 783.7,1013.95 784.94,1012.58 786.17,1011.25 787.41,1009.94 788.65,1008.66 789.89,1007.41 791.12,1006.21 792.36,1005.04 793.6,1003.91 794.84,1002.82 796.07,1001.77 797.31,1000.77 798.55,999.81 799.79,998.91 801.02,998.05 802.26,997.24 803.5,996.48 804.74,995.78 805.97,995.13 807.21,994.53 808.45,993.99 809.69,993.51 810.92,993.08 812.16,992.71 813.4,992.39 814.64,992.13 815.87,991.94 817.11,991.79 818.35,991.71 819.59,991.68 820.82,991.71 822.06,991.8 823.3,991.94 824.54,992.14 825.77,992.39 827.01,992.7 828.25,993.06 829.49,993.47 830.72,993.93 831.96,994.45 833.2,995.01 834.44,995.62 835.67,996.27 836.91,996.97 838.15,997.72 839.39,998.5 840.62,999.33 841.86,1000.2 843.1,1001.1 844.34,1002.04 845.57,1003.01 846.81,1004.01 848.05,1005.05 849.29,1006.11 850.52,1007.2 851.76,1008.31 853,1009.45 854.24,1010.61 855.47,1011.79 856.71,1012.99 857.95,1014.21 859.19,1015.44 860.42,1016.68 861.66,1017.94 862.9,1019.2 864.14,1020.47 865.38,1021.75 866.61,1023.03 867.85,1024.32 869.09,1025.61 870.33,1026.9 871.56,1028.19 872.8,1029.47 874.04,1030.75 875.28,1032.03 876.51,1033.3 877.75,1034.57 878.99,1035.82 880.23,1037.07 881.46,1038.3 882.7,1039.53 883.94,1040.74 885.18,1041.94 886.41,1043.12 887.65,1044.29 888.89,1045.44 890.13,1046.58 891.36,1047.7 892.6,1048.8 893.84,1049.88 895.08,1050.95 896.31,1052 897.55,1053.03 898.79,1054.03 900.03,1055.02 901.26,1055.99 902.5,1056.94 903.74,1057.86 904.98,1058.77 906.21,1059.65 907.45,1060.52 908.69,1061.36 909.93,1062.18 911.16,1062.98 912.4,1063.76 913.64,1064.52 914.88,1065.26 916.11,1065.98 917.35,1066.68 918.59,1067.36 919.83,1068.02 921.06,1068.65 922.3,1069.27 923.54,1069.87 924.78,1070.45 926.01,1071.02 927.25,1071.56 928.49,1072.09 929.73,1072.59 930.96,1073.09 932.2,1073.56 933.44,1074.02 934.68,1074.46 935.91,1074.88 937.15,1075.29 938.39,1075.69 939.63,1076.07 940.86,1076.43 942.1,1076.78 943.34,1077.12 944.58,1077.44 945.81,1077.76 947.05,1078.05 948.29,1078.34 949.53,1078.62 950.76,1078.88 952,1079.13 953.24,1079.37 954.48,1079.6 955.71,1079.83 956.95,1080.04 958.19,1080.24 959.43,1080.43 960.66,1080.62 961.9,1080.79 963.14,1080.96 964.38,1081.12 965.61,1081.27 966.85,1081.42 968.09,1081.56 969.33,1081.69 970.56,1081.82 971.8,1081.94 973.04,1082.05 974.28,1082.16 975.51,1082.26 976.75,1082.36" fill="none" stroke="#d62728" stroke-width="6" stroke-linejoin="round"/>
</g>
<rect x="625.3" y="888.8" width="345.7" height="195.2" fill="none" stroke="#000" stroke-width="3.8" stroke-linejoin="miter"/>
<line x1="749.05" y1="888.8" x2="749.05" y2="908.3" stroke="#000" stroke-width="3.8" />
<line x1="749.05" y1="1084" x2="749.05" y2="1064.5" stroke="#000" stroke-width="3.8" />
<line x1="872.8" y1="888.8" x2="872.8" y2="908.3" stroke="#000" stroke-width="3.8" />
<line x1="872.8" y1="1084" x2="872.8" y2="1064.5" stroke="#000" stroke-width="3.8" />
<line x1="625.3" y1="991.1" x2="644.8" y2="991.1" stroke="#000" stroke-width="3.8" />
<line x1="971" y1="991.1" x2="951.5" y2="991.1" stroke="#000" stroke-width="3.8" />
<line x1="625.3" y1="898.2" x2="644.8" y2="898.2" stroke="#000" stroke-width="3.8" />
<line x1="971" y1="898.2" x2="951.5" y2="898.2" stroke="#000" stroke-width="3.8" />
<text x="611.3" y="1095.2" font-size="31" text-anchor="end" font-weight="normal" font-style="normal" fill="#000" >0.0</text>
<text x="611.3" y="1002.3" font-size="31" text-anchor="end" font-weight="normal" font-style="normal" fill="#000" >0.1</text>
<text x="611.3" y="909.4" font-size="31" text-anchor="end" font-weight="normal" font-style="normal" fill="#000" >0.2</text>
<text x="625.3" y="1119.5" font-size="31" text-anchor="middle" font-weight="normal" font-style="normal" fill="#000" >0</text>
<text x="749.05" y="1119.5" font-size="31" text-anchor="middle" font-weight="normal" font-style="normal" fill="#000" >10</text>
<text x="872.8" y="1119.5" font-size="31" text-anchor="middle" font-weight="normal" font-style="normal" fill="#000" >20</text>
<line x1="688.1" y1="927.6" x2="755.3" y2="927.6" stroke="#d62728" stroke-width="6" />
<text x="776.4" y="938.8" font-size="31" text-anchor="start" font-weight="normal" font-style="normal" fill="#000" >Poisson dis.</text>
<text x="796.8" y="1163.5" font-size="31" text-anchor="middle"><tspan font-style="italic">N</tspan> tunnel events per &#916;<tspan font-style="italic">t</tspan></text>
<text transform="translate(541.9,1033) rotate(-90)" font-size="31" text-anchor="start"><tspan font-style="italic">P</tspan><tspan font-size="24" dy="5">&#916;<tspan font-style="italic">t</tspan></tspan><tspan dx="1.8" dy="-5">(</tspan><tspan font-style="italic">N</tspan>)</text>
<text x="517" y="906.5" font-size="40" text-anchor="start" font-weight="bold" font-style="normal" fill="#000" >e</text>
</svg></body></html>
